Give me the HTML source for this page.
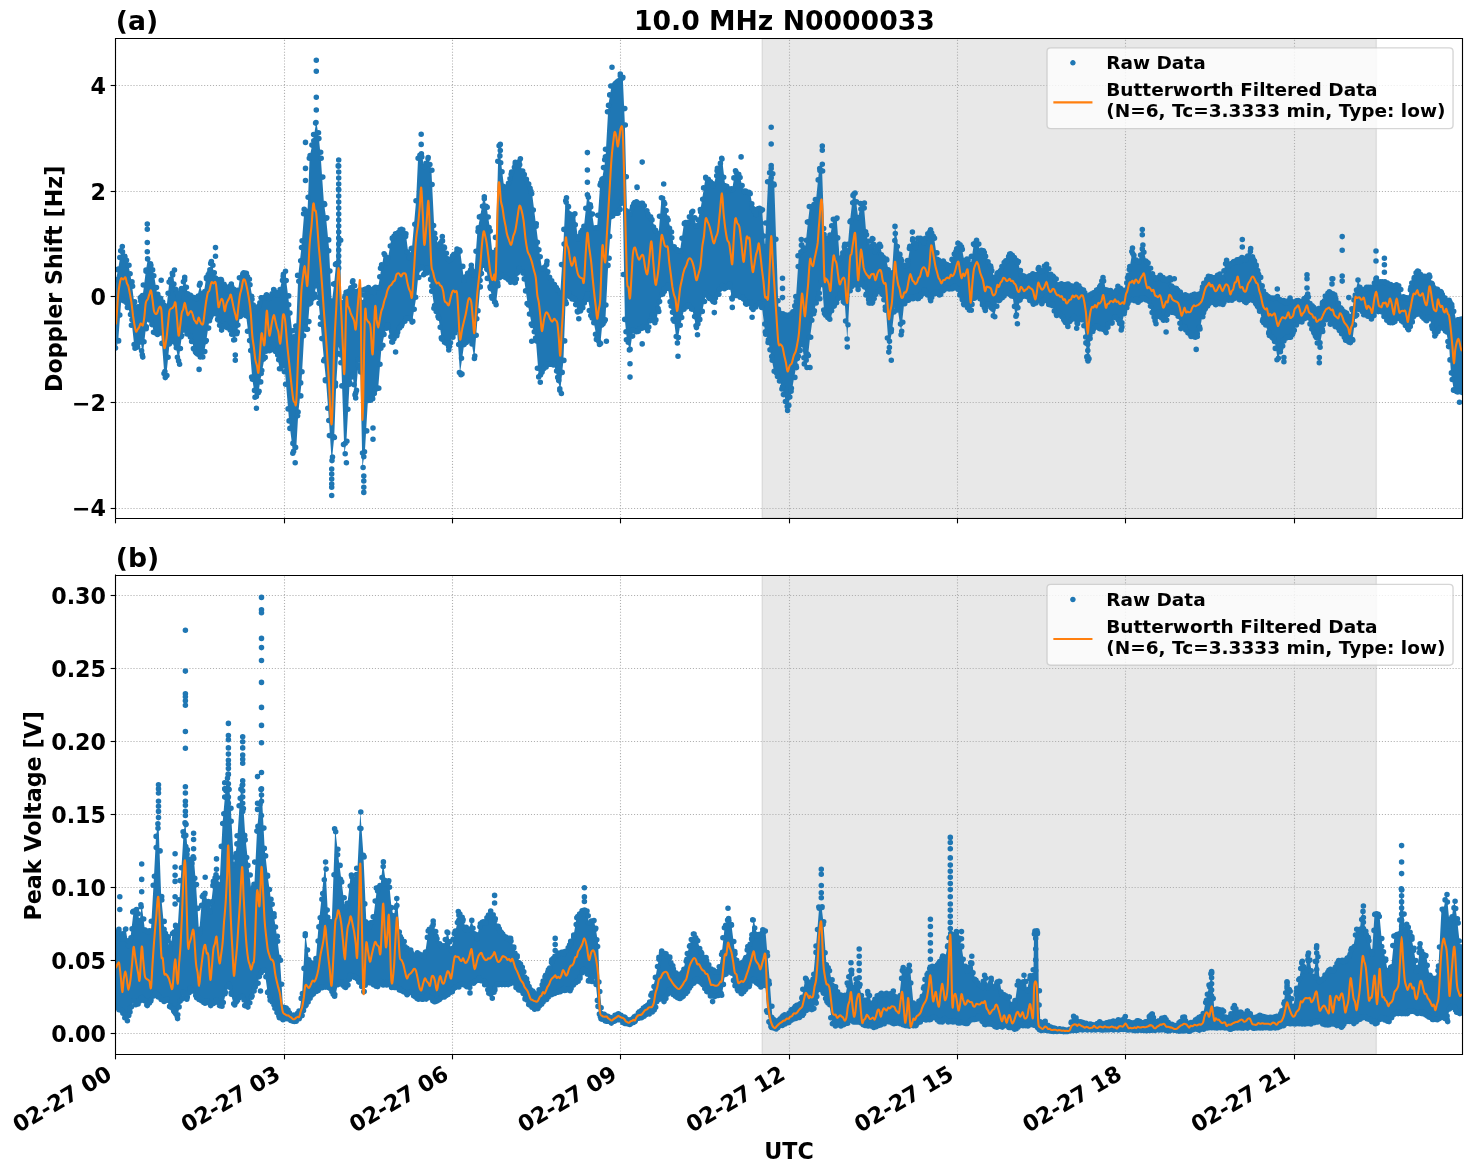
<!DOCTYPE html><html><head><meta charset="utf-8"><title>10.0 MHz N0000033</title><style>html,body{margin:0;padding:0;background:#fff;overflow:hidden}svg{display:block}</style></head><body><svg width="1471" height="1172" viewBox="0 0 1059.12 843.84">
  <defs>
  <style type="text/css">*{stroke-linejoin: round; stroke-linecap: butt}</style>
 </defs>
 <g id="figure_1">
  <g id="patch_1">
   <path d="M 0 845.866138 L 1060.05774 845.866138 L 1060.05774 0 L 0 0 z
" style="fill: #ffffff"/>
  </g>
  <g id="axes_1">
   <g id="patch_2">
    <path d="M 83.362837 372.938617 L 1052.85774 372.938617 L 1052.85774 27.789 L 83.362837 27.789 z
" style="fill: #ffffff"/>
   </g>
   <g id="patch_3">
    <path d="M 548.725777 372.938617 L 990.982154 372.938617 L 990.982154 27.789 L 548.725777 27.789 z
" clip-path="url(#p9801b050df)" style="fill: #808080; fill-opacity: 0.18; stroke: #808080; stroke-opacity: 0.18; stroke-linejoin: miter"/>
   </g>
   <g id="matplotlib.axis_1">
    <g id="xtick_1">
     <g id="line2d_1">
      <path d="M 83.16 372.9386 L 83.16 27.789 " clip-path="url(#p9801b050df)" style="fill: none; stroke-dasharray: 0.8,1.32; stroke-dashoffset: 0; stroke: #b0b0b0; stroke-width: 0.8"/>
     </g>
     <g id="line2d_2">
      <defs>
       <path id="m7c25c535dc" d="M 0 0 L 0 3.5 " style="stroke: #000000; stroke-width: 0.8"/>
      </defs>
      <g>
       <use href="#m7c25c535dc" x="83.16" y="373.32" style="stroke: #000000; stroke-width: 0.8"/>
      </g>
     </g>
    </g>
    <g id="xtick_2">
     <g id="line2d_3">
      <path d="M 204.84 372.9386 L 204.84 27.789 " clip-path="url(#p9801b050df)" style="fill: none; stroke-dasharray: 0.8,1.32; stroke-dashoffset: 0; stroke: #b0b0b0; stroke-width: 0.8"/>
     </g>
     <g id="line2d_4">
      <g>
       <use href="#m7c25c535dc" x="204.84" y="373.32" style="stroke: #000000; stroke-width: 0.8"/>
      </g>
     </g>
    </g>
    <g id="xtick_3">
     <g id="line2d_5">
      <path d="M 325.8 372.9386 L 325.8 27.789 " clip-path="url(#p9801b050df)" style="fill: none; stroke-dasharray: 0.8,1.32; stroke-dashoffset: 0; stroke: #b0b0b0; stroke-width: 0.8"/>
     </g>
     <g id="line2d_6">
      <g>
       <use href="#m7c25c535dc" x="325.8" y="373.32" style="stroke: #000000; stroke-width: 0.8"/>
      </g>
     </g>
    </g>
    <g id="xtick_4">
     <g id="line2d_7">
      <path d="M 446.76 372.9386 L 446.76 27.789 " clip-path="url(#p9801b050df)" style="fill: none; stroke-dasharray: 0.8,1.32; stroke-dashoffset: 0; stroke: #b0b0b0; stroke-width: 0.8"/>
     </g>
     <g id="line2d_8">
      <g>
       <use href="#m7c25c535dc" x="446.76" y="373.32" style="stroke: #000000; stroke-width: 0.8"/>
      </g>
     </g>
    </g>
    <g id="xtick_5">
     <g id="line2d_9">
      <path d="M 568.44 372.9386 L 568.44 27.789 " clip-path="url(#p9801b050df)" style="fill: none; stroke-dasharray: 0.8,1.32; stroke-dashoffset: 0; stroke: #b0b0b0; stroke-width: 0.8"/>
     </g>
     <g id="line2d_10">
      <g>
       <use href="#m7c25c535dc" x="568.44" y="373.32" style="stroke: #000000; stroke-width: 0.8"/>
      </g>
     </g>
    </g>
    <g id="xtick_6">
     <g id="line2d_11">
      <path d="M 689.4 372.9386 L 689.4 27.789 " clip-path="url(#p9801b050df)" style="fill: none; stroke-dasharray: 0.8,1.32; stroke-dashoffset: 0; stroke: #b0b0b0; stroke-width: 0.8"/>
     </g>
     <g id="line2d_12">
      <g>
       <use href="#m7c25c535dc" x="689.4" y="373.32" style="stroke: #000000; stroke-width: 0.8"/>
      </g>
     </g>
    </g>
    <g id="xtick_7">
     <g id="line2d_13">
      <path d="M 810.36 372.9386 L 810.36 27.789 " clip-path="url(#p9801b050df)" style="fill: none; stroke-dasharray: 0.8,1.32; stroke-dashoffset: 0; stroke: #b0b0b0; stroke-width: 0.8"/>
     </g>
     <g id="line2d_14">
      <g>
       <use href="#m7c25c535dc" x="810.36" y="373.32" style="stroke: #000000; stroke-width: 0.8"/>
      </g>
     </g>
    </g>
    <g id="xtick_8">
     <g id="line2d_15">
      <path d="M 932.04 372.9386 L 932.04 27.789 " clip-path="url(#p9801b050df)" style="fill: none; stroke-dasharray: 0.8,1.32; stroke-dashoffset: 0; stroke: #b0b0b0; stroke-width: 0.8"/>
     </g>
     <g id="line2d_16">
      <g>
       <use href="#m7c25c535dc" x="932.04" y="373.32" style="stroke: #000000; stroke-width: 0.8"/>
      </g>
     </g>
    </g>
   </g>
   <g id="matplotlib.axis_2">
    <g id="ytick_1">
     <g id="line2d_17">
      <path d="M 83.3628 366.12 L 1052.8577 366.12 " clip-path="url(#p9801b050df)" style="fill: none; stroke-dasharray: 0.8,1.32; stroke-dashoffset: 0; stroke: #b0b0b0; stroke-width: 0.8"/>
     </g>
     <g id="line2d_18">
      <defs>
       <path id="mb258c49b38" d="M 0 0 L -3.5 0 " style="stroke: #000000; stroke-width: 0.8"/>
      </defs>
      <g>
       <use href="#mb258c49b38" x="83.16" y="366.12" style="stroke: #000000; stroke-width: 0.8"/>
      </g>
     </g>
     <g id="text_1">
      <text style="font-weight: 700; font-size: 16px; font-family: 'DejaVu Sans', sans-serif; text-anchor: end" x="76.362837" y="371.86716" transform="rotate(-0 76.362837 371.86716)">−4</text>
     </g>
    </g>
    <g id="ytick_2">
     <g id="line2d_19">
      <path d="M 83.3628 289.8 L 1052.8577 289.8 " clip-path="url(#p9801b050df)" style="fill: none; stroke-dasharray: 0.8,1.32; stroke-dashoffset: 0; stroke: #b0b0b0; stroke-width: 0.8"/>
     </g>
     <g id="line2d_20">
      <g>
       <use href="#mb258c49b38" x="83.16" y="289.8" style="stroke: #000000; stroke-width: 0.8"/>
      </g>
     </g>
     <g id="text_2">
      <text style="font-weight: 700; font-size: 16px; font-family: 'DejaVu Sans', sans-serif; text-anchor: end" x="76.362837" y="295.801129" transform="rotate(-0 76.362837 295.801129)">−2</text>
     </g>
    </g>
    <g id="ytick_3">
     <g id="line2d_21">
      <path d="M 83.3628 213.48 L 1052.8577 213.48 " clip-path="url(#p9801b050df)" style="fill: none; stroke-dasharray: 0.8,1.32; stroke-dashoffset: 0; stroke: #b0b0b0; stroke-width: 0.8"/>
     </g>
     <g id="line2d_22">
      <g>
       <use href="#mb258c49b38" x="83.16" y="213.48" style="stroke: #000000; stroke-width: 0.8"/>
      </g>
     </g>
     <g id="text_3">
      <text style="font-weight: 700; font-size: 16px; font-family: 'DejaVu Sans', sans-serif; text-anchor: end" x="76.362837" y="219.735098" transform="rotate(-0 76.362837 219.735098)">0</text>
     </g>
    </g>
    <g id="ytick_4">
     <g id="line2d_23">
      <path d="M 83.3628 137.88 L 1052.8577 137.88 " clip-path="url(#p9801b050df)" style="fill: none; stroke-dasharray: 0.8,1.32; stroke-dashoffset: 0; stroke: #b0b0b0; stroke-width: 0.8"/>
     </g>
     <g id="line2d_24">
      <g>
       <use href="#mb258c49b38" x="83.16" y="137.88" style="stroke: #000000; stroke-width: 0.8"/>
      </g>
     </g>
     <g id="text_4">
      <text style="font-weight: 700; font-size: 16px; font-family: 'DejaVu Sans', sans-serif; text-anchor: end" x="76.362837" y="143.669066" transform="rotate(-0 76.362837 143.669066)">2</text>
     </g>
    </g>
    <g id="ytick_5">
     <g id="line2d_25">
      <path d="M 83.3628 61.56 L 1052.8577 61.56 " clip-path="url(#p9801b050df)" style="fill: none; stroke-dasharray: 0.8,1.32; stroke-dashoffset: 0; stroke: #b0b0b0; stroke-width: 0.8"/>
     </g>
     <g id="line2d_26">
      <g>
       <use href="#mb258c49b38" x="83.16" y="61.56" style="stroke: #000000; stroke-width: 0.8"/>
      </g>
     </g>
     <g id="text_5">
      <text style="font-weight: 700; font-size: 16px; font-family: 'DejaVu Sans', sans-serif; text-anchor: end" x="76.362837" y="67.603035" transform="rotate(-0 76.362837 67.603035)">4</text>
     </g>
    </g>
    <g id="text_6">
     <text style="font-weight: 700; font-size: 16px; font-family: 'DejaVu Sans', sans-serif; text-anchor: middle" x="44.4953" y="200.7238" transform="rotate(-90 44.4953 200.7238)">Doppler Shift [Hz]</text>
    </g>
   </g>
   <g id="DATA0">
    <defs>
     <path id="m733a03271b" d="M 0 1.5 C 0.397805 1.5 0.77937 1.341951 1.06066 1.06066 C 1.341951 0.77937 1.5 0.397805 1.5 0 C 1.5 -0.397805 1.341951 -0.77937 1.06066 -1.06066 C 0.77937 -1.341951 0.397805 -1.5 0 -1.5 C -0.397805 -1.5 -0.77937 -1.341951 -1.06066 -1.06066 C -1.341951 -0.77937 -1.5 -0.397805 -1.5 0 C -1.5 0.397805 -1.341951 0.77937 -1.06066 1.06066 C -0.77937 1.341951 -0.397805 1.5 0 1.5 z
" style="stroke: #1f77b4"/>
    </defs>
    <g transform="scale(0.72)"><defs><clipPath id="ca"><rect x="115.4" y="38.6" width="1347" height="479.8"/></clipPath><clipPath id="cb"><rect x="115.4" y="575.3" width="1347" height="479"/></clipPath></defs><g clip-path="url(#ca)"><polygon points="116.1,279.0 118.1,269.3 118.2,268.7 120.1,257.3 121.3,250.4 122.1,251.6 124.1,254.6 125.4,256.6 126.1,258.5 128.1,263.8 128.4,264.6 130.1,273.6 131.5,281.1 132.1,285.9 134.1,301.9 134.6,305.7 136.1,306.7 137.6,307.7 138.1,306.2 140.1,299.5 140.7,297.5 142.1,296.1 142.8,295.1 144.1,284.7 145.8,271.1 146.1,269.3 147.9,258.6 148.1,259.0 150.1,263.0 151.0,264.8 152.1,268.5 154.0,274.8 154.1,275.4 156.1,287.4 157.1,293.4 158.1,294.9 160.1,297.9 161.2,299.5 162.1,301.3 164.1,305.3 164.3,305.7 166.1,309.3 166.3,309.7 168.1,293.1 169.4,281.1 170.1,279.2 172.1,273.9 172.5,273.1 174.1,281.6 175.5,289.1 176.1,290.8 178.1,296.1 178.6,297.4 180.1,293.5 181.7,289.2 182.1,287.9 184.1,281.2 184.7,279.2 186.1,285.3 187.8,293.3 188.1,293.6 190.1,294.9 190.9,295.4 192.1,296.2 194.0,297.5 194.1,297.5 196.1,297.5 197.0,297.5 198.1,293.2 200.1,285.2 202.1,293.1 203.2,297.3 204.1,291.3 206.1,278.0 206.3,276.9 208.1,274.5 209.3,272.9 210.1,269.0 211.4,262.7 212.1,265.2 214.1,272.2 215.5,277.0 216.1,277.4 218.1,278.7 218.5,279.0 220.1,279.0 221.6,279.0 222.1,280.0 224.1,284.0 224.7,285.2 226.1,287.1 227.8,289.2 228.1,288.6 230.1,284.6 230.8,283.2 232.1,285.7 233.9,289.3 234.1,289.8 236.1,295.1 237.0,297.3 238.1,289.9 240.0,277.3 240.1,276.9 242.1,274.2 243.1,272.9 244.1,272.9 246.1,272.9 246.2,272.9 248.1,276.7 249.3,279.3 250.1,284.1 252.1,296.1 252.3,297.3 254.1,304.5 255.4,309.7 256.1,308.8 258.1,306.2 258.5,305.6 260.1,301.3 261.5,297.6 262.1,297.5 264.1,297.5 264.6,297.5 266.1,294.5 266.7,293.4 268.1,295.3 269.7,297.4 270.1,296.7 272.1,292.7 273.8,289.3 274.1,289.6 276.1,292.3 276.9,293.4 278.1,291.8 280.0,289.2 280.1,288.7 282.1,279.4 283.0,275.2 284.1,272.8 285.0,271.0 286.1,279.8 288.1,295.8 289.1,303.8 290.1,312.8 292.1,330.7 293.2,340.6 294.1,335.8 296.1,325.2 296.3,324.2 298.1,280.0 298.3,275.1 300.1,259.1 301.4,247.6 302.1,238.8 304.1,213.7 304.5,208.7 306.1,210.9 307.5,212.8 308.1,197.0 309.6,157.5 310.1,155.0 312.1,145.0 313.3,139.1 314.1,134.4 316.1,122.7 316.3,121.6 318.1,132.7 318.8,137.0 320.1,150.3 320.8,157.5 322.1,176.4 323.9,202.5 324.1,203.9 326.0,216.9 326.1,217.9 328.1,238.4 329.0,247.6 330.1,270.5 331.7,303.8 332.1,300.5 334.1,284.1 334.2,283.3 336.1,263.8 336.2,262.8 338.1,189.0 338.7,165.7 340.1,240.0 341.3,303.8 342.1,301.7 344.1,296.4 344.4,295.6 346.1,292.1 346.4,291.5 348.1,290.3 349.5,289.4 350.1,287.6 352.1,281.7 352.6,280.2 354.1,285.6 355.7,291.5 356.1,291.5 358.1,291.5 358.7,291.5 360.1,289.8 360.4,289.4 362.1,301.6 362.4,303.8 364.1,294.0 364.9,289.4 366.1,288.6 367.9,287.4 368.1,287.5 370.1,289.0 370.6,289.4 372.1,290.9 372.7,291.5 374.1,289.1 375.1,287.4 376.1,287.4 378.1,287.4 378.2,287.4 380.1,275.6 381.3,268.1 382.1,264.2 384.1,254.6 384.3,253.7 386.1,258.4 387.4,261.9 388.1,257.7 390.1,245.7 391.5,237.4 392.1,236.9 394.1,235.3 396.1,233.7 396.6,233.3 398.1,231.5 400.1,229.2 401.1,228.1 402.1,229.2 404.1,231.4 405.8,233.3 406.1,235.7 408.1,251.5 408.9,257.8 410.1,253.8 412.0,247.6 412.1,246.4 414.1,223.5 416.1,200.5 418.1,157.5 420.1,154.8 421.2,153.4 422.1,157.0 424.1,164.9 424.3,165.7 426.1,162.1 428.1,158.1 428.4,157.5 430.1,164.5 431.4,169.8 432.1,184.1 434.1,225.1 434.5,233.3 436.1,238.0 438.1,244.0 438.6,245.5 440.1,242.5 441.7,239.4 442.1,240.5 444.1,245.9 444.7,247.6 446.1,251.8 448.1,257.8 448.8,259.9 450.1,258.6 452.1,256.6 452.9,255.8 454.1,254.6 456.1,252.6 457.0,251.7 458.1,251.0 460.0,249.9 460.1,250.6 462.1,265.6 464.1,280.6 466.1,276.6 468.1,272.6 468.2,272.4 470.1,269.7 471.3,268.1 472.1,269.8 474.1,274.1 474.3,274.5 476.1,249.3 477.4,231.2 478.1,227.5 480.1,216.9 480.5,214.8 482.1,205.3 483.6,196.4 484.1,198.1 486.1,204.9 486.6,206.6 488.1,216.5 489.7,227.1 490.1,231.0 492.1,250.8 492.8,257.8 494.1,253.4 495.8,247.6 496.1,236.2 498.1,160.4 498.5,145.2 500.1,155.7 501.0,161.6 502.1,170.6 504.0,186.2 504.1,186.2 506.1,186.2 507.1,186.2 508.1,183.2 510.1,177.2 511.2,173.9 512.1,171.6 514.1,166.6 515.3,163.6 516.1,163.2 518.1,162.2 519.4,161.6 520.1,163.7 522.1,169.7 523.5,173.9 524.1,175.1 526.1,179.1 527.6,182.1 528.1,183.1 530.1,187.1 531.7,190.3 532.1,193.5 534.1,209.4 535.8,223.0 536.1,225.4 538.1,241.8 538.8,247.6 540.1,256.3 541.9,268.3 542.1,268.1 544.1,266.1 546.0,264.2 546.1,264.5 548.1,270.5 550.1,276.5 552.1,280.5 554.1,284.5 554.2,284.7 556.1,287.2 557.3,288.8 558.1,289.9 560.1,292.6 560.3,292.9 562.1,264.4 563.4,243.8 564.1,229.3 565.5,200.5 566.1,201.7 568.1,205.8 568.5,206.6 570.1,211.9 571.6,216.9 572.1,216.2 574.1,213.6 574.7,212.8 576.1,223.9 577.8,237.4 578.1,236.8 580.1,232.6 580.8,231.2 582.1,229.5 583.9,227.1 584.1,225.2 586.1,206.5 587.4,194.3 588.1,196.6 590.1,203.3 591.1,206.6 592.1,213.4 594.1,227.1 596.1,227.1 597.2,227.1 598.1,214.0 600.1,185.0 600.3,182.1 602.1,178.4 602.3,178.0 604.1,167.2 605.4,159.5 606.1,147.0 608.1,111.3 608.5,104.2 610.1,94.4 611.5,85.8 612.1,85.4 614.1,84.1 614.6,83.8 616.1,82.8 617.7,81.7 618.1,80.6 620.1,75.3 620.8,73.5 622.1,76.1 622.8,77.6 624.1,106.7 624.9,124.7 626.1,176.3 626.9,210.7 628.1,211.5 630.0,212.8 630.1,212.6 632.1,208.4 633.0,206.6 634.1,203.6 635.0,201.1 636.1,201.6 638.1,202.6 639.1,203.1 640.1,203.1 642.1,203.1 643.2,203.1 644.1,205.3 646.1,210.4 647.3,213.4 648.1,214.2 650.1,216.2 651.4,217.5 652.1,219.6 654.1,225.6 655.5,229.8 656.1,230.6 658.1,233.2 658.6,233.9 660.1,215.4 661.6,197.0 662.1,198.0 664.1,201.9 664.7,203.1 666.1,209.6 667.8,217.5 668.1,218.7 670.1,226.9 670.8,229.8 672.1,236.7 673.9,246.2 674.1,246.4 676.1,249.1 677.0,250.3 678.1,250.3 680.1,250.3 682.1,236.3 684.1,222.3 684.2,221.6 686.1,221.6 688.1,221.6 688.2,221.6 690.1,216.8 692.1,211.8 692.3,211.3 694.1,217.6 696.1,224.6 696.4,225.7 698.1,218.9 700.1,210.9 700.5,209.3 702.1,199.2 704.1,186.6 705.7,176.5 706.1,176.9 708.1,178.9 709.7,180.6 710.1,181.0 712.1,183.0 713.8,184.7 714.1,183.5 716.1,175.5 717.9,168.3 718.1,167.8 720.1,162.8 722.0,158.1 722.1,158.9 724.1,176.1 725.1,184.7 726.1,186.2 728.1,189.2 729.2,190.9 730.1,190.3 732.1,188.9 732.3,188.8 734.1,177.7 735.3,170.4 736.1,171.2 738.1,173.2 739.4,174.5 740.1,177.3 742.1,185.3 743.5,190.9 744.1,190.9 746.1,190.9 746.6,190.9 748.1,190.9 749.7,190.9 750.1,193.0 752.1,203.5 752.8,207.2 754.1,209.9 755.8,213.4 756.1,212.8 758.1,208.8 758.9,207.2 760.1,208.0 762.0,209.3 762.1,210.5 764.1,235.1 765.0,246.2 766.1,222.9 768.1,180.6 770.1,172.6 771.2,168.3 772.1,173.0 774.1,183.6 774.3,184.7 776.1,239.2 778.1,299.7 778.4,308.8 780.1,310.5 782.1,312.5 782.5,312.9 784.1,313.5 786.1,314.4 787.6,315.0 788.1,314.7 790.1,313.7 791.7,312.9 792.1,311.7 794.1,305.7 795.8,300.6 796.1,296.1 798.1,266.1 798.8,255.6 800.1,250.4 801.9,243.3 802.1,243.7 804.1,247.6 805.0,249.4 806.1,239.2 808.0,221.6 808.1,220.8 810.0,205.2 810.1,205.2 812.1,205.2 813.1,205.2 814.1,203.1 816.1,199.1 818.1,179.2 819.2,168.3 820.1,166.9 821.9,164.2 822.1,170.0 824.1,228.1 824.3,233.9 826.1,237.4 827.4,240.0 828.1,238.6 830.1,234.7 830.5,233.9 832.1,225.4 833.6,217.5 834.1,217.5 836.1,217.5 836.6,217.5 838.1,237.3 839.7,258.4 840.1,257.6 842.1,253.7 842.8,252.3 844.1,248.3 844.8,246.2 846.1,249.4 847.3,252.3 848.1,242.8 849.9,221.6 850.1,219.9 852.1,202.7 853.0,195.0 854.1,193.9 855.1,192.9 856.1,201.1 858.1,217.5 860.1,208.2 861.2,203.1 862.1,203.1 863.7,203.1 864.1,207.8 866.1,231.5 866.3,233.9 868.1,241.0 869.4,246.2 870.1,244.3 872.1,239.0 872.5,238.0 874.1,244.5 875.5,250.3 876.1,249.4 878.1,246.3 879.6,244.1 880.1,246.1 882.1,254.0 882.7,256.4 884.1,257.3 885.8,258.4 886.1,259.6 888.1,267.8 888.8,270.7 890.1,272.4 891.9,274.8 892.1,271.6 894.1,239.9 895.0,225.7 896.1,233.0 898.1,246.2 900.1,254.3 901.1,258.4 902.1,260.4 904.1,264.4 904.2,264.6 906.1,264.6 907.3,264.6 908.1,259.7 910.1,247.4 910.3,246.2 912.1,239.2 912.4,238.0 914.1,242.5 915.5,246.2 916.1,244.5 918.1,239.1 918.5,238.0 920.1,238.0 921.6,238.0 922.1,238.6 924.1,241.3 924.7,242.1 926.1,238.4 927.8,233.9 928.1,233.5 930.1,231.1 931.2,229.8 932.1,231.8 933.9,235.9 934.1,237.3 936.1,251.8 937.0,258.4 938.1,259.9 940.0,262.5 940.1,262.4 942.1,261.1 943.1,260.5 944.1,261.8 946.1,264.4 946.2,264.6 948.1,265.8 949.3,266.6 950.1,264.4 952.1,258.9 952.3,258.4 954.1,253.7 955.4,250.3 956.1,248.4 958.1,243.1 958.5,242.1 960.1,244.3 961.5,246.2 962.1,249.3 964.1,259.9 964.6,262.5 966.1,260.5 967.7,258.4 968.1,259.2 970.1,263.2 970.8,264.6 972.1,255.7 973.8,244.1 974.1,243.7 976.1,241.0 976.9,240.0 978.1,244.0 980.0,250.3 980.1,250.3 982.1,250.3 983.0,250.3 984.1,250.6 985.0,250.9 986.1,254.5 988.1,261.1 990.1,265.1 991.1,267.2 992.1,270.5 994.1,277.1 994.2,277.5 996.1,275.0 997.3,273.4 998.1,272.3 1000.1,269.7 1000.4,269.3 1002.1,265.8 1003.4,263.1 1004.1,262.2 1006.1,259.6 1006.5,259.1 1008.1,255.9 1009.6,252.9 1010.1,253.2 1012.1,254.6 1012.6,255.0 1014.1,257.0 1015.7,259.1 1016.1,259.5 1017.8,261.1 1018.1,262.3 1020.1,270.5 1020.8,273.4 1022.1,274.2 1023.9,275.4 1024.1,275.5 1026.1,276.9 1027.0,277.5 1028.1,276.7 1030.1,275.4 1032.1,274.0 1033.1,273.4 1034.1,275.3 1035.2,277.5 1036.1,274.4 1038.1,267.5 1038.2,267.2 1040.1,269.7 1041.3,271.3 1042.1,269.7 1044.1,265.8 1044.4,265.2 1046.1,263.4 1046.4,263.1 1048.1,268.7 1049.5,273.4 1050.1,273.8 1052.1,275.1 1052.6,275.4 1054.1,276.4 1055.7,277.5 1056.1,278.6 1058.1,284.0 1058.7,285.7 1060.1,284.7 1061.8,283.6 1062.1,283.6 1064.1,283.6 1064.9,283.6 1066.1,283.6 1067.9,283.6 1068.1,283.7 1070.1,285.1 1071.0,285.7 1072.1,285.7 1074.1,285.7 1076.1,284.3 1077.2,283.6 1078.1,284.8 1080.1,287.5 1080.2,287.7 1082.1,289.0 1083.3,289.8 1084.1,291.7 1085.8,295.9 1086.1,296.2 1086.8,296.9 1087.8,298.0 1088.1,297.7 1088.8,296.9 1090.1,294.6 1090.5,293.9 1092.1,292.8 1093.5,291.8 1094.1,291.4 1096.1,290.1 1096.6,289.8 1098.1,287.8 1099.7,285.7 1100.1,284.8 1102.1,280.4 1103.4,277.5 1104.1,281.1 1105.8,289.8 1106.1,289.8 1108.1,289.8 1108.9,289.8 1110.1,290.6 1112.0,291.8 1112.1,291.8 1114.1,291.8 1115.0,291.8 1116.1,289.6 1118.1,285.7 1120.1,288.3 1121.2,289.8 1122.1,289.8 1124.1,289.8 1124.3,289.8 1126.1,282.4 1127.3,277.5 1128.1,274.4 1129.4,269.3 1130.1,265.1 1132.1,253.3 1132.5,250.9 1134.1,255.3 1135.5,259.1 1136.1,259.5 1138.1,260.8 1138.6,261.1 1140.1,254.4 1142.1,245.6 1142.3,244.7 1144.1,252.1 1145.8,259.1 1146.1,259.5 1148.1,262.1 1148.8,263.1 1150.1,267.4 1151.9,273.4 1152.1,273.6 1154.1,276.3 1155.0,277.5 1156.1,277.5 1158.0,277.5 1158.1,277.4 1160.0,275.4 1160.1,275.4 1162.1,276.8 1163.1,277.5 1164.1,278.1 1166.1,279.5 1168.1,278.2 1169.2,277.5 1170.1,279.9 1172.1,285.2 1172.3,285.7 1174.1,286.8 1175.4,287.7 1176.1,288.2 1178.1,289.6 1178.4,289.8 1180.1,292.0 1181.5,293.9 1182.1,293.9 1184.1,293.9 1184.6,293.9 1186.1,294.9 1187.6,295.9 1188.1,295.9 1190.1,295.9 1190.7,295.9 1192.1,295.0 1193.8,293.9 1194.1,294.1 1196.1,295.4 1196.9,295.9 1198.1,295.1 1199.9,293.9 1200.1,293.4 1202.1,288.1 1203.0,285.7 1204.1,282.8 1206.1,277.5 1208.1,276.1 1209.2,275.4 1210.1,276.0 1212.1,277.4 1212.2,277.5 1214.1,277.5 1215.3,277.5 1216.1,276.7 1218.1,274.7 1219.4,273.4 1220.1,274.3 1222.1,277.0 1222.5,277.5 1224.1,269.8 1225.5,263.1 1226.1,263.5 1228.1,264.8 1228.6,265.2 1230.1,264.2 1231.7,263.1 1232.1,262.8 1234.1,261.5 1234.7,261.1 1236.1,260.2 1237.8,259.1 1238.1,259.4 1239.9,261.1 1240.1,260.7 1242.1,257.3 1242.3,257.0 1244.1,258.0 1246.0,259.1 1246.1,258.9 1248.1,254.9 1250.1,250.9 1252.1,256.2 1253.2,259.1 1254.1,260.9 1256.1,264.8 1256.3,265.2 1258.1,270.1 1259.3,273.4 1260.1,276.6 1262.1,284.5 1262.4,285.7 1264.1,290.2 1265.5,293.9 1266.1,294.3 1268.1,295.6 1268.5,295.9 1270.1,297.0 1271.6,298.0 1272.1,298.0 1274.1,298.0 1274.7,298.0 1276.1,297.0 1277.8,295.9 1278.1,296.3 1280.1,299.0 1280.8,300.0 1282.1,300.0 1283.9,300.0 1284.1,300.1 1286.1,301.5 1287.0,302.1 1288.1,300.6 1290.0,298.0 1290.1,298.1 1292.1,300.8 1293.1,302.1 1294.1,301.4 1296.1,300.0 1296.2,300.0 1298.1,300.0 1298.2,300.0 1300.1,301.3 1301.3,302.1 1302.1,301.0 1304.1,298.4 1304.4,298.0 1306.1,295.3 1307.0,293.9 1308.1,296.5 1310.1,301.1 1310.5,302.1 1312.1,304.2 1313.6,306.2 1314.1,306.5 1316.1,307.8 1316.7,308.2 1318.1,308.2 1319.3,308.2 1320.1,306.8 1322.1,303.3 1322.8,302.1 1324.1,299.5 1325.9,295.9 1326.1,295.6 1328.1,293.0 1329.0,291.8 1330.0,291.0 1330.1,291.0 1332.1,292.4 1332.8,292.9 1334.1,294.6 1335.6,296.6 1336.1,297.9 1338.1,303.3 1338.4,304.1 1340.1,306.3 1341.3,307.9 1342.1,308.9 1344.1,311.6 1346.1,312.9 1346.9,313.5 1348.1,315.1 1349.7,317.3 1350.1,315.9 1352.1,309.2 1352.5,307.9 1354.1,299.3 1355.3,292.9 1356.1,289.1 1358.1,279.7 1360.1,286.2 1361.0,289.1 1362.1,289.1 1363.8,289.1 1364.1,288.9 1366.1,287.5 1366.6,287.2 1368.1,287.2 1369.4,287.2 1370.1,287.2 1372.1,287.2 1372.2,287.2 1374.1,282.5 1376.0,277.9 1376.1,278.0 1378.1,280.7 1378.8,281.6 1380.1,281.6 1381.6,281.6 1382.1,281.6 1384.1,281.6 1384.4,281.6 1386.1,281.6 1387.2,281.6 1388.1,282.2 1390.0,283.5 1390.1,283.5 1392.1,284.5 1393.8,285.4 1394.1,285.2 1396.1,283.8 1396.6,283.5 1398.1,285.5 1399.4,287.2 1400.1,289.5 1402.1,296.2 1402.2,296.6 1404.1,296.6 1405.1,296.6 1406.1,297.3 1407.9,298.5 1408.1,297.7 1410.1,289.6 1410.7,287.2 1412.1,282.5 1413.5,277.9 1414.1,276.7 1416.1,272.7 1417.3,270.4 1418.1,271.4 1420.1,274.1 1422.1,275.4 1422.9,276.0 1424.1,276.0 1426.1,276.0 1426.6,276.0 1428.1,275.0 1429.5,274.1 1430.1,276.1 1432.1,282.8 1432.3,283.5 1434.1,287.1 1435.1,289.1 1436.1,289.1 1437.9,289.1 1438.1,289.2 1440.1,290.6 1440.7,291.0 1442.1,293.8 1443.5,296.6 1444.1,297.4 1446.1,300.1 1446.3,300.4 1448.1,300.4 1449.2,300.4 1450.1,302.2 1451.0,304.1 1452.1,306.2 1453.9,309.8 1454.1,310.7 1456.1,320.1 1456.7,322.9 1458.1,319.9 1458.5,319.1 1460.1,319.1 1461.4,319.1 1462.1,319.1 1463.2,319.1 1463.2,392.4 1462.1,392.4 1461.4,392.4 1460.1,392.4 1458.5,392.4 1458.1,392.4 1456.7,392.4 1456.1,392.0 1454.1,390.7 1453.9,390.5 1452.1,380.0 1451.0,373.6 1450.1,360.5 1449.2,347.3 1448.1,341.6 1446.3,332.3 1446.1,332.1 1444.1,329.4 1443.5,328.6 1442.1,328.6 1440.7,328.6 1440.1,329.4 1438.1,332.1 1437.9,332.3 1436.1,334.8 1435.1,336.1 1434.1,333.4 1432.3,328.6 1432.1,327.8 1430.1,319.7 1429.5,317.3 1428.1,319.2 1426.6,321.1 1426.1,320.6 1424.1,318.6 1422.9,317.3 1422.1,316.8 1420.1,315.4 1418.1,314.1 1417.3,313.5 1416.1,314.7 1414.1,316.7 1413.5,317.3 1412.1,322.0 1410.7,326.7 1410.1,327.5 1408.1,330.2 1407.9,330.4 1406.1,326.8 1405.1,324.8 1404.1,323.5 1402.2,321.1 1402.1,321.1 1400.1,319.7 1399.4,319.2 1398.1,318.3 1396.6,317.3 1396.1,318.3 1394.1,322.3 1393.8,322.9 1392.1,322.9 1390.1,322.9 1390.0,322.9 1388.1,321.7 1387.2,321.1 1386.1,319.6 1384.4,317.3 1384.1,316.7 1382.1,312.7 1381.6,311.7 1380.1,311.7 1378.8,311.7 1378.1,311.7 1376.1,311.7 1376.0,311.7 1374.1,315.5 1372.2,319.2 1372.1,319.2 1370.1,317.8 1369.4,317.3 1368.1,316.4 1366.6,315.4 1366.1,315.4 1364.1,315.4 1363.8,315.4 1362.1,312.0 1361.0,309.8 1360.1,309.8 1358.1,309.8 1356.1,315.2 1355.3,317.3 1354.1,327.0 1352.5,339.8 1352.1,340.4 1350.1,343.1 1349.7,343.6 1348.1,342.5 1346.9,341.7 1346.1,340.6 1344.1,337.9 1342.1,333.9 1341.3,332.3 1340.1,330.8 1338.4,328.6 1338.1,328.4 1336.1,327.1 1335.6,326.7 1334.1,323.7 1332.8,321.1 1332.1,322.0 1330.1,324.7 1330.0,324.8 1329.0,319.0 1328.1,319.6 1326.1,320.9 1325.9,321.0 1324.1,325.8 1322.8,329.2 1322.1,332.9 1320.1,343.5 1319.3,347.7 1318.1,343.0 1316.7,337.4 1316.1,336.6 1314.1,334.0 1313.6,333.3 1312.1,329.4 1310.5,325.1 1310.1,324.2 1308.1,319.5 1307.0,316.9 1306.1,317.6 1304.4,319.0 1304.1,319.4 1302.1,322.1 1301.3,323.1 1300.1,322.3 1298.2,321.0 1298.1,321.2 1296.2,325.1 1296.1,325.4 1294.1,330.7 1293.1,333.3 1292.1,334.6 1290.1,337.3 1290.0,337.4 1288.1,337.4 1287.0,337.4 1286.1,338.6 1284.1,341.3 1283.9,341.5 1282.1,346.3 1280.8,349.7 1280.1,352.1 1278.1,358.9 1277.8,359.9 1276.1,349.8 1274.7,341.5 1274.1,340.7 1272.1,338.1 1271.6,337.4 1270.1,335.4 1268.5,333.3 1268.1,332.2 1266.1,326.8 1265.5,325.1 1264.1,323.3 1262.4,321.0 1262.1,319.8 1260.1,311.9 1259.3,308.7 1258.1,307.1 1256.3,304.7 1256.1,304.5 1254.1,301.8 1253.2,300.6 1252.1,299.9 1250.1,298.5 1248.1,300.5 1246.1,302.5 1246.0,302.6 1244.1,301.6 1242.3,300.6 1242.1,300.6 1240.1,300.6 1239.9,300.6 1238.1,297.1 1237.8,296.5 1236.1,297.6 1234.7,298.5 1234.1,298.9 1232.1,300.3 1231.7,300.6 1230.1,300.6 1228.6,300.6 1228.1,300.6 1226.1,300.6 1225.5,300.6 1224.1,302.5 1222.5,304.7 1222.1,304.7 1220.1,304.7 1219.4,304.7 1218.1,304.7 1216.1,304.7 1215.3,304.7 1214.1,303.9 1212.2,302.6 1212.1,302.7 1210.1,304.1 1209.2,304.7 1208.1,306.1 1206.1,308.7 1204.1,311.4 1203.0,312.8 1202.1,317.6 1200.1,328.2 1199.9,329.2 1198.1,334.1 1196.9,337.4 1196.1,337.4 1194.1,337.4 1193.8,337.4 1192.1,337.4 1190.7,337.4 1190.1,336.6 1188.1,334.0 1187.6,333.3 1186.1,330.3 1184.6,327.2 1184.1,327.5 1182.1,328.8 1181.5,329.2 1180.1,323.7 1178.4,316.9 1178.1,316.5 1176.1,313.8 1175.4,312.8 1174.1,312.8 1172.3,312.8 1172.1,312.8 1170.1,312.8 1169.2,312.8 1168.1,316.5 1166.1,323.1 1164.1,320.4 1163.1,319.0 1162.1,318.3 1160.1,317.0 1160.0,316.9 1158.1,313.0 1158.0,312.8 1156.1,318.0 1155.0,321.0 1154.1,318.6 1152.1,313.3 1151.9,312.8 1150.1,306.9 1148.8,302.6 1148.1,302.2 1146.1,300.8 1145.8,300.6 1144.1,299.6 1142.3,298.5 1142.1,298.7 1140.1,301.0 1138.6,302.6 1138.1,302.3 1136.1,301.0 1135.5,300.6 1134.1,300.6 1132.5,300.6 1132.1,300.6 1130.1,300.6 1129.4,300.6 1128.1,303.2 1127.3,304.7 1126.1,308.0 1124.3,312.8 1124.1,313.7 1122.1,323.0 1121.2,327.2 1120.1,325.0 1118.1,321.0 1116.1,318.4 1115.0,316.9 1114.1,318.8 1112.1,322.9 1112.0,323.1 1110.1,324.3 1108.9,325.1 1108.1,327.2 1106.1,332.5 1105.8,333.3 1104.1,330.4 1103.4,329.2 1102.1,329.2 1100.1,329.2 1099.7,329.2 1098.1,328.2 1096.6,327.2 1096.1,327.5 1094.1,328.8 1093.5,329.2 1092.1,332.1 1090.5,335.4 1090.1,340.9 1088.8,358.9 1088.1,360.4 1087.8,361.0 1086.8,356.9 1086.1,343.3 1085.8,337.4 1084.1,326.3 1083.3,321.0 1082.1,320.2 1080.2,319.0 1080.1,319.2 1078.1,321.9 1077.2,323.1 1076.1,320.9 1074.1,316.9 1072.1,319.6 1071.0,321.0 1070.1,322.8 1068.1,326.8 1067.9,327.2 1066.1,323.5 1064.9,321.0 1064.1,320.0 1062.1,317.3 1061.8,316.9 1060.1,314.7 1058.7,312.8 1058.1,313.6 1056.1,316.4 1055.7,316.9 1054.1,311.7 1052.6,306.7 1052.1,306.4 1050.1,305.1 1049.5,304.7 1048.1,301.0 1046.4,296.5 1046.1,297.1 1044.4,300.6 1044.1,301.0 1042.1,303.7 1041.3,304.7 1040.1,303.1 1038.2,300.6 1038.1,300.8 1036.1,303.5 1035.2,304.7 1034.1,304.7 1033.1,304.7 1032.1,303.4 1030.1,300.6 1028.1,298.0 1027.0,296.5 1026.1,296.5 1024.1,296.5 1023.9,296.5 1022.1,297.7 1020.8,298.5 1020.1,300.9 1018.1,307.7 1017.8,308.7 1016.1,315.4 1015.7,316.9 1014.1,306.4 1012.6,296.5 1012.1,296.2 1010.1,294.8 1009.6,294.4 1008.1,293.5 1006.5,292.4 1006.1,292.9 1004.1,295.6 1003.4,296.5 1002.1,298.3 1000.4,300.6 1000.1,300.6 998.1,300.6 997.3,300.6 996.1,306.9 994.2,316.9 994.1,316.7 992.1,311.4 991.1,308.7 990.1,307.4 988.1,304.7 986.1,308.7 985.0,310.8 984.1,308.3 983.0,305.3 982.1,303.5 980.1,299.3 980.0,299.1 978.1,296.6 976.9,295.0 976.1,296.1 974.1,298.7 973.8,299.1 972.1,306.1 970.8,311.4 970.1,310.5 968.1,307.8 967.7,307.3 966.1,306.3 964.6,305.3 964.1,304.3 962.1,300.3 961.5,299.1 960.1,295.3 958.5,290.9 958.1,290.4 956.1,287.7 955.4,286.8 954.1,287.7 952.3,288.9 952.1,288.9 950.1,288.9 949.3,288.9 948.1,288.9 946.2,288.9 946.1,289.0 944.1,290.3 943.1,290.9 942.1,292.2 940.1,294.9 940.0,295.0 938.1,293.8 937.0,293.0 936.1,293.6 934.1,294.9 933.9,295.0 932.1,299.2 931.2,301.2 930.1,299.2 928.1,295.6 927.8,295.0 926.1,292.8 924.7,290.9 924.1,291.7 922.1,294.4 921.6,295.0 920.1,297.0 918.5,299.1 918.1,298.9 916.1,297.5 915.5,297.1 914.1,298.0 912.4,299.1 912.1,299.1 910.3,299.1 910.1,299.3 908.1,300.7 907.3,301.2 906.1,302.0 904.2,303.2 904.1,304.1 902.1,322.7 901.1,331.9 900.1,325.1 898.1,311.4 896.1,307.5 895.0,305.3 894.1,313.0 892.1,330.2 891.9,331.9 890.1,341.4 888.8,348.3 888.1,338.8 886.1,311.4 885.8,307.3 884.1,300.6 882.7,295.0 882.1,294.2 880.1,291.6 879.6,290.9 878.1,292.4 876.1,294.4 875.5,295.0 874.1,298.8 872.5,303.2 872.1,303.2 870.1,303.2 869.4,303.2 868.1,299.8 866.3,295.0 866.1,294.4 864.1,288.1 863.7,286.8 862.1,284.2 861.2,282.7 860.1,285.6 858.1,290.9 856.1,286.9 855.1,284.8 854.1,284.8 853.0,284.8 852.1,286.6 850.1,290.5 849.9,290.9 848.1,325.0 847.3,340.1 846.1,322.4 844.8,303.2 844.1,301.8 842.8,299.1 842.1,298.2 840.1,295.5 839.7,295.0 838.1,299.3 836.6,303.2 836.1,303.9 834.1,306.6 833.6,307.3 832.1,313.3 830.5,319.6 830.1,319.3 828.1,318.0 827.4,317.5 826.1,315.8 824.3,313.5 824.1,311.0 822.1,285.3 821.9,282.7 820.1,293.7 819.2,299.1 818.1,300.6 816.1,303.2 814.1,311.4 813.1,315.5 812.1,322.8 810.1,337.3 810.0,338.0 808.1,355.6 808.0,356.5 806.1,361.7 805.0,364.7 804.1,358.8 802.1,345.5 801.9,344.2 800.1,351.4 798.8,356.5 798.1,359.4 796.1,367.5 795.8,368.7 794.1,378.1 792.1,389.1 791.7,391.3 790.1,397.7 788.1,405.7 787.6,407.7 786.1,402.3 784.1,395.0 782.5,389.2 782.1,388.0 780.1,382.0 778.4,376.9 778.1,376.6 776.1,374.6 774.3,372.8 774.1,371.8 772.1,361.3 771.2,356.5 770.1,350.7 768.1,340.1 766.1,334.8 765.0,331.9 764.1,324.5 762.1,308.1 762.0,307.3 760.1,304.8 758.9,303.2 758.1,304.3 756.1,306.9 755.8,307.3 754.1,308.5 752.8,309.4 752.1,308.0 750.1,304.0 749.7,303.2 748.1,304.3 746.6,305.3 746.1,304.3 744.1,300.3 743.5,299.1 742.1,298.4 740.1,297.5 739.4,297.1 738.1,296.5 736.1,295.4 735.3,295.0 734.1,296.7 732.3,299.1 732.1,298.2 730.1,289.0 729.2,284.8 728.1,285.9 726.1,287.9 725.1,288.9 724.1,288.2 722.1,286.9 722.0,286.8 720.1,290.6 718.1,294.6 717.9,295.0 716.1,298.6 714.1,302.6 713.8,303.2 712.1,301.5 710.1,299.5 709.7,299.1 708.1,297.5 706.1,295.4 705.7,295.0 704.1,302.6 702.1,312.1 700.5,319.6 700.1,320.4 698.1,324.4 696.4,327.8 696.1,326.5 694.1,317.5 692.3,309.4 692.1,309.2 690.1,307.2 688.2,305.3 688.1,305.4 686.1,307.5 684.2,309.4 684.1,309.8 682.1,317.8 680.1,325.7 678.1,337.7 677.0,344.2 676.1,337.1 674.1,321.2 673.9,319.6 672.1,312.5 670.8,307.3 670.1,302.5 668.1,288.9 667.8,286.8 666.1,289.1 664.7,290.9 664.1,291.7 662.1,294.4 661.6,295.0 660.1,302.2 658.6,309.4 658.1,311.7 656.1,321.0 655.5,323.7 654.1,320.9 652.1,316.9 651.4,315.5 650.1,320.7 648.1,328.7 647.3,331.9 646.1,330.7 644.1,328.7 643.2,327.8 642.1,328.9 640.1,330.9 639.1,331.9 638.1,331.9 636.1,331.9 635.0,331.9 634.1,331.2 633.0,330.3 632.1,336.5 630.1,350.1 630.0,350.8 628.1,344.6 626.9,340.6 626.1,332.4 624.9,320.1 624.1,274.9 622.8,201.3 622.1,204.2 620.8,209.5 620.1,210.4 618.1,213.1 617.7,213.6 616.1,213.6 614.6,213.6 614.1,214.3 612.1,216.9 611.5,217.7 610.1,236.8 608.5,258.6 608.1,266.6 606.1,306.2 605.4,320.1 604.1,321.8 602.3,324.2 602.1,326.3 600.3,344.7 600.1,344.5 598.1,341.8 597.2,340.6 596.1,334.8 594.1,324.2 592.1,318.8 591.1,316.0 590.1,310.5 588.1,299.4 587.4,295.5 586.1,298.6 584.1,303.3 583.9,303.7 582.1,308.5 580.8,311.9 580.1,311.9 578.1,311.9 577.8,311.9 576.1,305.2 574.7,299.6 574.1,299.6 572.1,299.6 571.6,299.6 570.1,297.6 568.5,295.5 568.1,296.6 566.1,302.1 565.5,303.7 564.1,341.9 563.4,361.0 562.1,373.5 560.3,390.7 560.1,389.8 558.1,381.0 557.3,377.4 556.1,372.7 554.2,365.1 554.1,365.1 552.1,365.1 550.1,365.1 548.1,366.1 546.1,367.2 546.0,367.2 544.1,370.0 542.1,373.0 541.9,373.3 540.1,375.7 538.8,377.4 538.1,368.3 536.1,342.4 535.8,338.5 534.1,332.6 532.1,325.6 531.7,324.2 530.1,316.2 528.1,306.2 527.6,303.7 526.1,293.2 524.1,279.2 523.5,275.0 522.1,272.9 520.1,270.0 519.4,268.9 518.1,273.5 516.1,280.4 515.3,283.2 514.1,283.2 512.1,283.2 511.2,283.2 510.1,282.1 508.1,280.1 507.1,279.1 506.1,278.5 504.1,277.2 504.0,277.1 502.1,275.8 501.0,275.0 500.1,278.0 498.5,283.2 498.1,286.6 496.1,303.2 495.8,305.7 494.1,302.3 492.8,299.6 492.1,296.8 490.1,288.9 489.7,287.3 488.1,278.9 486.6,270.9 486.1,269.9 484.1,265.8 483.6,264.8 482.1,273.7 480.5,283.2 480.1,288.0 478.1,311.8 477.4,320.1 476.1,336.4 474.3,359.0 474.1,357.8 472.1,345.5 471.3,340.6 470.1,340.6 468.2,340.6 468.1,340.7 466.1,342.7 464.1,344.7 462.1,358.7 460.1,372.6 460.0,373.3 458.1,345.2 457.0,328.9 456.1,330.3 454.1,333.2 452.9,335.0 452.1,337.4 450.1,343.4 448.8,347.3 448.1,346.6 446.1,344.6 444.7,343.2 444.1,342.4 442.1,339.7 441.7,339.1 440.1,328.5 438.6,318.6 438.1,317.4 436.1,312.4 434.5,308.4 434.1,305.8 432.1,292.5 431.4,287.9 430.1,279.9 428.4,269.5 428.1,270.0 426.1,272.9 424.3,275.6 424.1,275.1 422.1,269.8 421.2,267.4 420.1,271.1 418.1,277.7 416.1,298.2 414.1,310.2 412.1,322.1 412.0,322.7 410.1,320.2 408.9,318.6 408.1,318.6 406.1,318.6 405.8,318.6 404.1,321.6 402.1,325.1 401.1,326.8 400.1,328.6 398.1,332.3 396.6,335.0 396.1,335.8 394.1,339.0 392.1,342.3 391.5,343.2 390.1,336.9 388.1,328.0 387.4,324.8 386.1,329.1 384.3,335.0 384.1,336.0 382.1,345.6 381.3,349.4 380.1,364.5 378.2,388.3 378.1,388.4 376.1,389.7 375.1,390.3 374.1,393.7 372.7,398.5 372.1,399.1 370.6,400.6 370.1,400.6 368.1,400.6 367.9,400.6 366.1,431.3 364.9,451.8 364.1,457.0 362.4,468.1 362.1,453.7 360.4,371.9 360.1,369.7 358.7,359.6 358.1,367.0 356.1,391.6 355.7,396.5 354.1,385.9 352.6,376.0 352.1,377.3 350.1,382.6 349.5,384.2 348.1,410.1 346.4,441.5 346.1,443.4 344.4,453.8 344.1,445.1 342.1,387.0 341.3,363.7 340.1,355.2 338.7,345.3 338.1,354.7 336.2,384.2 336.1,386.9 334.2,437.4 334.1,438.4 332.1,458.1 331.7,462.0 330.1,437.7 329.0,421.0 328.1,408.8 326.1,381.5 326.0,380.1 324.1,361.6 323.9,359.6 322.1,339.4 320.8,324.8 320.1,317.6 318.8,304.3 318.1,299.2 316.3,285.9 316.1,286.7 314.1,294.9 313.3,298.2 312.1,300.2 310.1,303.5 309.6,304.3 308.1,323.3 307.5,330.9 306.1,330.0 304.5,328.9 304.1,336.1 302.1,371.7 301.4,384.2 300.1,396.2 298.3,412.8 298.1,416.3 296.3,447.7 296.1,448.1 294.1,452.0 293.2,453.8 292.1,445.0 290.1,429.0 289.1,421.0 288.1,409.0 286.1,385.1 285.0,371.9 284.1,367.1 283.0,361.7 282.1,364.1 280.1,369.4 280.0,369.7 278.1,361.0 276.9,355.4 276.1,352.7 274.1,346.0 273.8,345.2 272.1,347.8 270.1,350.8 269.7,351.3 268.1,350.2 266.7,349.3 266.1,351.5 264.6,357.5 264.1,360.2 262.1,370.9 261.5,374.1 260.1,382.5 258.5,392.1 258.1,393.0 256.1,397.0 255.4,398.4 254.1,390.6 252.3,379.6 252.1,377.0 250.1,351.7 249.3,341.6 248.1,331.8 246.2,316.6 246.1,316.4 244.1,313.7 243.1,312.4 242.1,313.7 240.1,316.4 240.0,316.7 238.1,326.8 237.0,332.7 236.1,335.2 234.1,340.5 233.9,341.1 232.1,335.1 230.8,330.8 230.1,330.3 228.1,329.0 227.8,328.8 226.1,326.6 224.7,324.7 224.1,325.8 222.1,329.8 221.6,330.8 220.1,325.8 218.5,320.5 218.1,319.4 216.1,314.1 215.5,312.5 214.1,313.8 212.1,315.8 211.4,316.5 210.1,319.0 209.3,320.7 208.1,328.7 206.3,340.7 206.1,341.9 204.1,352.5 203.2,357.3 202.1,357.4 200.1,357.4 198.1,354.8 197.0,353.3 196.1,352.1 194.1,349.4 194.0,349.3 192.1,341.8 190.9,337.0 190.1,336.4 188.1,335.1 187.8,334.9 186.1,331.5 184.7,328.9 184.1,330.5 182.1,335.8 181.7,336.9 180.1,349.6 178.6,361.5 178.1,358.8 176.1,348.2 175.5,345.1 174.1,343.2 172.5,341.1 172.1,341.5 170.1,344.2 169.4,345.1 168.1,358.0 166.3,375.9 166.1,375.7 164.3,373.9 164.1,371.6 162.1,344.9 161.2,332.9 160.1,333.4 158.1,334.4 157.1,334.9 156.1,334.2 154.1,332.9 154.0,332.7 152.1,325.1 151.0,320.7 150.1,320.0 148.1,318.7 147.9,318.5 146.1,327.5 145.8,329.1 144.1,343.8 142.8,355.1 142.1,350.7 140.7,341.1 140.1,342.3 138.1,346.3 137.6,347.2 136.1,348.2 134.6,349.2 134.1,344.8 132.1,326.1 131.5,320.6 130.1,315.0 128.4,308.2 128.1,307.6 126.1,303.6 125.4,302.2 124.1,301.5 122.1,300.5 121.3,300.1 120.1,315.6 118.2,340.9 118.1,341.4 116.1,349.2" fill="#1f77b4"/><path d="M116.1 279.8h0M115.5 348.1h0M117.8 269.7h0M118.6 340.9h0M118.3 269.0h0M118.6 340.5h0M119.8 257.5h0M119.8 315.1h0M120.7 250.7h0M120.8 299.9h0M122.5 251.9h0M122.1 299.6h0M124.8 256.3h0M124.2 301.1h0M124.9 256.8h0M124.8 301.2h0M126.5 260.3h0M126.8 303.0h0M128.1 265.3h0M127.4 307.5h0M129.0 265.2h0M128.0 307.4h0M130.1 273.7h0M130.5 314.5h0M132.0 281.9h0M132.0 319.8h0M132.6 286.3h0M131.4 325.2h0M134.7 301.9h0M134.1 344.5h0M133.8 305.9h0M135.0 348.2h0M135.8 307.1h0M136.3 347.5h0M138.3 307.9h0M137.6 347.0h0M138.0 306.9h0M137.3 345.5h0M140.8 300.9h0M140.7 341.9h0M140.3 297.7h0M140.2 340.0h0M141.4 296.7h0M141.6 350.7h0M142.5 295.6h0M142.3 354.9h0M143.3 285.0h0M144.0 341.8h0M146.0 271.2h0M146.2 328.8h0M146.0 270.0h0M146.3 326.9h0M147.6 258.9h0M147.4 317.2h0M147.7 259.1h0M147.4 318.5h0M150.5 263.7h0M149.5 320.0h0M150.9 265.3h0M150.9 320.1h0M152.6 269.9h0M151.9 324.6h0M153.8 275.7h0M153.5 332.2h0M153.8 275.8h0M154.2 332.4h0M156.5 287.6h0M156.5 333.5h0M157.8 294.2h0M157.1 333.9h0M158.1 296.2h0M157.5 334.4h0M160.6 298.2h0M160.5 333.0h0M160.6 300.6h0M161.0 332.4h0M162.7 302.1h0M161.9 343.4h0M164.6 305.5h0M164.9 371.6h0M164.6 305.9h0M164.0 373.6h0M166.8 309.9h0M166.9 375.5h0M166.1 309.8h0M166.1 375.8h0M168.1 293.3h0M168.1 357.3h0M169.1 282.1h0M169.3 344.0h0M170.7 279.3h0M169.8 341.6h0M172.7 274.9h0M172.6 341.5h0M172.3 273.2h0M171.7 340.0h0M173.9 284.1h0M173.5 341.8h0M175.6 289.2h0M176.0 344.1h0M176.7 292.6h0M176.3 347.8h0M178.6 296.1h0M177.4 357.2h0M178.7 297.7h0M178.6 360.9h0M179.4 294.0h0M180.4 348.5h0M181.2 289.4h0M181.1 336.8h0M181.5 288.5h0M181.7 335.7h0M183.4 281.7h0M183.6 330.0h0M184.6 279.9h0M185.4 328.5h0M186.4 287.2h0M186.8 331.2h0M187.2 294.0h0M187.1 333.9h0M187.7 293.7h0M187.8 333.7h0M190.5 295.4h0M190.3 335.9h0M190.8 295.7h0M190.4 336.9h0M191.3 296.9h0M191.6 341.4h0M193.9 297.5h0M193.7 349.1h0M194.6 298.0h0M193.4 348.5h0M196.5 298.7h0M195.5 352.0h0M196.7 298.3h0M196.3 353.0h0M198.3 296.0h0M197.5 354.1h0M199.4 285.2h0M200.3 356.9h0M202.6 293.5h0M202.8 357.0h0M203.5 297.7h0M202.4 356.7h0M204.8 291.5h0M204.8 351.6h0M206.5 278.7h0M205.6 341.6h0M206.4 277.5h0M206.3 340.5h0M208.2 274.7h0M208.6 328.1h0M209.1 273.2h0M209.5 320.7h0M209.9 269.9h0M210.3 317.7h0M210.7 263.5h0M210.9 316.3h0M212.9 265.2h0M211.9 314.5h0M214.3 272.8h0M213.4 313.4h0M215.1 277.9h0M216.0 312.3h0M215.8 278.3h0M216.5 314.1h0M218.6 279.9h0M217.6 319.4h0M218.0 280.4h0M218.5 320.2h0M220.1 279.6h0M219.6 325.3h0M221.2 279.6h0M221.6 330.1h0M221.6 280.8h0M221.9 328.3h0M224.1 284.4h0M224.6 325.5h0M225.2 286.2h0M225.4 324.3h0M225.6 288.0h0M226.0 326.5h0M227.6 290.3h0M227.3 327.7h0M228.2 289.3h0M227.5 327.5h0M230.4 285.8h0M229.9 329.2h0M231.3 284.1h0M230.3 330.3h0M231.9 287.0h0M231.7 334.2h0M233.9 289.4h0M233.7 340.0h0M233.9 290.5h0M234.6 339.8h0M235.7 295.4h0M236.8 333.7h0M237.2 297.5h0M237.3 332.0h0M237.8 290.4h0M237.9 325.1h0M240.8 277.8h0M240.2 316.4h0M239.4 277.8h0M240.9 315.7h0M242.7 274.5h0M242.4 312.8h0M243.0 273.6h0M242.8 312.3h0M243.7 272.9h0M244.2 313.1h0M245.7 273.2h0M246.1 315.8h0M246.4 273.3h0M246.8 316.1h0M247.5 276.9h0M247.5 331.2h0M249.4 279.3h0M249.6 340.6h0M250.0 284.7h0M250.7 350.5h0M251.6 296.4h0M251.6 377.0h0M252.0 299.2h0M252.4 379.3h0M253.3 305.0h0M254.5 390.4h0M255.1 311.4h0M255.0 397.2h0M256.8 308.9h0M256.4 396.4h0M258.6 306.4h0M258.3 392.8h0M259.1 305.7h0M259.1 391.3h0M259.9 302.7h0M260.7 381.9h0M261.1 297.8h0M261.2 373.5h0M261.3 297.9h0M261.8 370.5h0M263.9 297.5h0M263.6 359.1h0M265.0 298.2h0M265.2 357.4h0M266.6 294.7h0M266.0 351.2h0M266.2 295.3h0M266.4 349.2h0M268.5 297.2h0M267.4 349.2h0M269.4 298.4h0M269.4 350.7h0M270.2 297.0h0M270.5 350.2h0M272.1 293.9h0M272.7 347.6h0M273.7 289.6h0M273.7 344.2h0M274.1 290.1h0M274.4 344.7h0M276.3 293.0h0M275.5 351.4h0M277.6 295.2h0M277.7 354.9h0M278.6 292.3h0M278.7 359.8h0M280.3 290.9h0M280.1 368.8h0M280.1 289.6h0M279.5 368.7h0M282.5 280.4h0M282.6 363.1h0M283.2 276.3h0M282.5 361.2h0M283.4 274.2h0M283.4 365.9h0M285.5 271.2h0M284.4 371.7h0M286.2 280.6h0M285.6 384.3h0M288.7 295.9h0M288.1 408.9h0M288.7 304.7h0M289.1 420.9h0M289.9 313.1h0M289.9 428.4h0M292.8 330.7h0M292.9 443.4h0M293.7 340.7h0M292.8 453.2h0M293.9 336.7h0M293.6 451.4h0M295.8 326.1h0M295.6 447.2h0M296.1 327.0h0M295.6 447.4h0M298.8 281.3h0M297.6 415.8h0M297.6 275.4h0M298.1 412.1h0M300.7 260.8h0M300.8 395.9h0M301.5 247.6h0M300.7 382.9h0M302.1 240.8h0M302.0 371.7h0M303.6 213.8h0M303.6 335.8h0M304.2 209.3h0M305.0 327.4h0M306.3 211.1h0M306.0 329.2h0M308.0 213.1h0M307.5 329.3h0M308.1 197.3h0M308.9 321.6h0M309.3 158.3h0M309.4 303.9h0M310.1 155.6h0M310.7 303.1h0M311.9 145.1h0M311.5 299.5h0M313.8 140.7h0M313.9 297.7h0M313.6 134.6h0M314.6 294.0h0M315.6 123.1h0M316.5 285.5h0M316.0 122.5h0M316.1 285.7h0M318.5 132.8h0M318.1 297.3h0M318.9 138.6h0M319.0 303.3h0M320.7 152.2h0M320.8 317.3h0M321.2 158.2h0M320.4 324.3h0M322.8 177.1h0M321.8 338.6h0M324.3 203.5h0M324.5 359.4h0M324.7 204.6h0M323.7 360.8h0M326.8 217.8h0M325.3 379.7h0M326.5 218.2h0M325.4 380.8h0M328.7 239.9h0M327.8 408.3h0M328.7 250.8h0M328.8 420.5h0M329.9 271.0h0M329.4 435.6h0M332.3 304.8h0M332.0 460.6h0M331.9 301.0h0M332.5 457.0h0M333.5 284.1h0M334.4 437.5h0M334.7 283.6h0M333.9 436.7h0M335.5 264.4h0M335.5 386.0h0M336.4 263.5h0M335.5 383.1h0M338.5 189.2h0M338.3 353.6h0M338.2 165.9h0M339.5 344.8h0M340.7 240.2h0M340.4 354.8h0M340.6 304.6h0M340.9 362.7h0M342.3 302.8h0M341.9 385.9h0M344.8 297.5h0M343.5 444.5h0M345.1 295.8h0M345.2 453.7h0M346.7 292.6h0M345.3 443.2h0M346.1 292.2h0M346.9 441.3h0M348.7 291.2h0M347.9 409.3h0M350.2 290.1h0M349.4 384.2h0M350.8 287.9h0M349.6 382.4h0M352.5 281.9h0M351.5 377.1h0M352.9 280.8h0M353.1 374.6h0M354.6 285.7h0M354.1 384.8h0M356.3 291.5h0M355.0 394.9h0M355.4 292.5h0M356.5 390.4h0M357.3 292.1h0M357.8 364.7h0M359.1 292.3h0M358.0 359.5h0M360.6 290.2h0M359.6 368.6h0M359.8 289.8h0M360.6 371.9h0M362.1 302.5h0M362.5 453.1h0M363.0 303.9h0M363.1 467.5h0M363.4 294.9h0M363.8 456.8h0M364.3 289.6h0M364.5 451.7h0M366.5 288.9h0M366.7 430.9h0M368.5 287.6h0M367.4 400.4h0M367.7 288.6h0M367.9 400.5h0M370.0 289.5h0M369.7 399.6h0M370.3 289.4h0M370.6 400.2h0M371.8 291.7h0M372.7 398.7h0M372.0 291.5h0M372.3 397.1h0M374.2 292.5h0M374.3 393.4h0M374.6 288.0h0M375.2 389.7h0M375.5 287.4h0M376.9 388.4h0M378.6 288.3h0M378.8 388.2h0M378.6 287.6h0M378.3 388.0h0M379.8 276.8h0M380.0 364.3h0M380.5 268.3h0M380.9 348.3h0M381.6 264.9h0M382.9 345.3h0M384.8 255.0h0M383.5 334.1h0M384.1 253.7h0M384.0 334.4h0M386.1 259.5h0M386.6 328.3h0M387.0 262.9h0M387.6 324.7h0M387.9 257.8h0M388.0 326.7h0M390.3 246.0h0M390.9 336.8h0M392.3 238.5h0M391.8 342.0h0M392.3 238.1h0M392.6 342.1h0M394.0 236.2h0M394.0 338.7h0M395.5 233.8h0M396.8 335.7h0M396.4 233.5h0M397.0 334.6h0M398.6 232.3h0M397.7 332.2h0M400.1 229.9h0M399.6 327.9h0M401.5 229.4h0M401.5 326.1h0M402.8 229.8h0M402.1 324.3h0M403.7 233.3h0M404.9 321.3h0M405.9 233.9h0M406.0 318.6h0M405.6 236.5h0M406.3 318.2h0M407.4 252.0h0M407.8 317.9h0M409.1 257.8h0M409.0 318.4h0M409.8 254.9h0M410.2 319.1h0M411.6 248.4h0M412.1 322.1h0M411.3 248.5h0M412.8 321.4h0M414.8 224.2h0M414.2 309.2h0M416.0 200.7h0M415.7 297.3h0M418.1 158.3h0M418.8 277.4h0M419.9 155.2h0M419.4 268.9h0M421.4 153.7h0M421.8 267.2h0M421.8 157.0h0M421.6 267.5h0M424.7 166.4h0M423.7 274.8h0M423.6 166.5h0M424.0 274.3h0M426.1 163.3h0M426.8 272.9h0M428.0 158.4h0M427.8 267.7h0M428.2 157.5h0M428.6 269.3h0M429.9 164.5h0M430.6 279.4h0M431.9 170.3h0M431.9 286.1h0M432.1 184.5h0M431.7 291.3h0M433.6 225.5h0M434.6 305.5h0M434.7 233.4h0M433.9 308.2h0M435.4 238.6h0M436.2 311.5h0M437.6 245.1h0M438.0 316.6h0M438.8 246.2h0M438.6 318.1h0M440.7 242.7h0M440.2 327.2h0M442.0 240.8h0M441.3 337.9h0M442.5 240.9h0M441.7 339.1h0M444.2 247.0h0M444.5 342.3h0M444.5 247.7h0M445.4 342.5h0M446.4 253.2h0M446.3 343.3h0M447.6 258.8h0M448.6 346.4h0M448.9 260.4h0M449.5 346.5h0M450.6 259.3h0M450.5 342.7h0M452.7 257.0h0M452.9 337.2h0M452.5 256.1h0M452.9 334.5h0M453.7 254.6h0M454.8 333.0h0M456.0 253.4h0M456.6 329.5h0M456.9 252.0h0M457.2 328.1h0M458.6 252.2h0M458.7 344.5h0M459.4 250.0h0M460.1 372.8h0M460.0 251.2h0M459.4 372.6h0M462.8 266.4h0M461.5 358.2h0M464.1 280.6h0M464.1 344.6h0M465.4 276.7h0M466.3 342.4h0M468.8 272.8h0M468.1 340.3h0M467.6 273.3h0M468.5 340.4h0M470.6 270.0h0M469.4 340.4h0M471.4 268.7h0M471.9 340.3h0M472.9 271.2h0M472.0 343.9h0M474.4 274.8h0M474.8 356.0h0M473.8 275.2h0M474.4 358.5h0M476.0 251.2h0M476.2 335.3h0M478.0 231.4h0M476.8 318.8h0M478.3 227.9h0M478.0 310.8h0M479.4 216.9h0M480.3 286.9h0M480.9 216.4h0M480.1 280.6h0M482.5 206.3h0M481.4 273.6h0M484.3 196.8h0M483.1 264.7h0M484.3 198.7h0M483.7 265.2h0M486.1 206.3h0M486.8 269.0h0M487.2 207.2h0M487.2 269.6h0M488.2 217.0h0M487.3 278.4h0M489.1 227.6h0M490.0 286.9h0M490.2 231.1h0M490.6 288.6h0M492.4 252.5h0M491.4 296.5h0M492.0 258.5h0M492.0 298.3h0M493.8 253.9h0M494.6 301.9h0M496.5 249.7h0M496.1 304.7h0M495.5 237.4h0M495.4 302.6h0M497.8 161.3h0M498.0 285.7h0M499.1 145.8h0M497.7 283.1h0M499.9 155.9h0M499.5 277.8h0M500.7 162.8h0M500.7 274.4h0M502.0 171.7h0M502.5 275.7h0M503.2 186.4h0M503.4 276.5h0M503.9 187.6h0M504.5 277.1h0M506.4 187.2h0M506.9 278.1h0M506.9 186.9h0M506.4 278.1h0M508.5 183.2h0M508.7 280.0h0M510.0 178.6h0M510.7 281.0h0M511.1 174.2h0M510.6 282.3h0M511.6 172.1h0M512.5 281.1h0M514.4 167.3h0M514.7 282.8h0M515.3 164.4h0M515.3 282.5h0M515.6 164.9h0M516.4 279.1h0M518.5 162.9h0M517.3 273.1h0M519.1 161.9h0M519.2 268.6h0M519.7 164.7h0M519.3 269.4h0M522.7 171.0h0M522.7 272.0h0M524.3 174.6h0M523.0 273.1h0M523.4 175.2h0M524.3 278.9h0M526.4 179.4h0M525.6 290.9h0M526.8 182.5h0M527.1 303.6h0M528.7 184.0h0M528.5 304.9h0M530.1 188.2h0M529.5 314.0h0M531.0 191.4h0M531.3 324.1h0M531.7 193.7h0M532.2 325.4h0M533.3 210.1h0M534.3 331.7h0M536.3 223.7h0M535.6 338.1h0M536.1 226.3h0M536.5 340.9h0M537.4 242.3h0M537.4 368.3h0M538.9 249.7h0M538.7 376.9h0M540.2 256.8h0M540.5 375.0h0M541.6 268.9h0M542.3 371.0h0M541.7 268.3h0M542.0 372.2h0M544.7 267.0h0M543.9 368.4h0M546.7 264.4h0M546.1 367.0h0M546.5 264.8h0M546.3 366.1h0M547.8 271.7h0M547.5 364.4h0M549.6 277.3h0M550.1 364.2h0M551.7 280.7h0M552.7 364.5h0M554.4 284.6h0M553.7 363.4h0M553.5 285.8h0M553.5 365.0h0M556.3 287.6h0M556.6 371.0h0M557.3 289.5h0M557.7 377.4h0M557.7 290.0h0M558.7 380.6h0M559.8 293.0h0M559.8 388.9h0M560.1 292.9h0M559.8 390.2h0M561.5 264.6h0M562.2 372.4h0M564.1 244.1h0M563.9 360.4h0M563.9 229.4h0M564.7 340.9h0M565.7 200.7h0M566.3 303.6h0M566.2 202.3h0M565.6 301.6h0M568.2 206.3h0M568.8 296.1h0M568.5 206.8h0M569.2 293.1h0M569.5 213.8h0M570.4 297.1h0M571.8 217.8h0M572.1 298.9h0M572.8 216.8h0M572.5 297.9h0M574.2 214.3h0M574.7 299.5h0M574.9 213.8h0M574.0 298.6h0M575.3 224.8h0M575.7 304.6h0M578.0 238.8h0M577.7 311.9h0M578.1 236.8h0M577.3 311.2h0M580.8 233.2h0M580.4 310.9h0M580.9 232.4h0M580.9 310.1h0M582.3 230.2h0M582.8 307.7h0M584.0 227.4h0M584.4 301.8h0M583.9 226.4h0M584.3 302.9h0M585.8 208.3h0M586.4 297.5h0M587.4 194.8h0M587.6 293.9h0M588.4 197.3h0M587.7 299.3h0M590.3 204.7h0M589.3 310.5h0M590.7 207.1h0M590.8 315.6h0M592.4 214.1h0M592.2 317.9h0M594.8 228.1h0M593.8 322.7h0M595.6 227.7h0M595.5 334.2h0M597.6 227.6h0M596.4 339.4h0M597.8 215.2h0M598.8 341.6h0M600.1 185.1h0M599.5 344.4h0M600.8 182.9h0M600.6 343.6h0M601.9 179.6h0M601.8 325.1h0M602.6 178.9h0M603.1 323.7h0M603.5 167.6h0M604.3 321.6h0M604.7 159.7h0M605.3 319.8h0M605.5 149.3h0M605.9 305.0h0M607.5 111.7h0M608.0 265.4h0M608.5 105.4h0M609.1 258.3h0M609.7 94.9h0M609.6 236.4h0M610.8 86.0h0M610.8 216.8h0M612.8 85.8h0M612.7 216.0h0M614.5 86.4h0M614.3 213.6h0M614.8 84.4h0M615.0 213.1h0M615.8 83.1h0M616.1 213.2h0M617.3 81.7h0M618.0 213.2h0M618.6 80.9h0M617.9 211.5h0M620.3 75.8h0M619.8 209.5h0M620.3 74.0h0M620.1 209.5h0M622.9 77.2h0M621.6 203.3h0M622.7 78.1h0M622.5 200.5h0M624.8 108.6h0M623.4 274.5h0M625.3 125.0h0M624.7 319.4h0M626.3 176.7h0M626.0 331.7h0M626.3 210.7h0M626.4 339.7h0M627.8 211.9h0M628.2 342.3h0M630.1 214.3h0M630.1 349.4h0M629.9 214.0h0M629.4 349.9h0M632.2 209.1h0M632.6 336.1h0M632.6 206.6h0M632.4 330.1h0M633.8 203.7h0M633.7 330.2h0M634.7 202.6h0M635.7 331.3h0M636.5 201.9h0M636.4 331.7h0M637.6 202.9h0M638.0 331.4h0M638.7 203.7h0M638.5 331.3h0M639.3 203.7h0M639.9 328.7h0M641.6 203.3h0M642.0 328.2h0M642.5 203.4h0M643.2 326.6h0M644.3 205.8h0M644.0 326.9h0M646.9 210.9h0M646.9 328.5h0M648.0 214.2h0M647.8 330.8h0M647.9 215.4h0M648.8 327.0h0M650.6 216.9h0M650.1 320.7h0M651.0 218.6h0M652.1 314.8h0M652.0 219.9h0M652.7 316.4h0M653.5 227.0h0M654.7 319.7h0M655.6 230.4h0M654.9 322.7h0M655.8 231.2h0M655.9 319.9h0M658.0 233.3h0M658.8 311.4h0M658.8 234.6h0M658.1 308.6h0M659.5 216.2h0M659.6 301.6h0M661.4 197.8h0M661.8 294.4h0M662.6 198.3h0M662.8 293.9h0M664.0 202.3h0M664.3 291.6h0M664.7 203.7h0M663.9 289.4h0M666.1 210.6h0M666.1 288.0h0M667.2 218.1h0M668.2 284.9h0M668.1 220.1h0M668.5 288.5h0M669.5 228.3h0M670.1 301.8h0M671.5 232.1h0M671.2 306.0h0M671.8 237.8h0M672.5 312.3h0M674.2 246.7h0M673.1 319.4h0M673.5 247.4h0M674.1 321.2h0M676.8 249.5h0M676.2 336.6h0M677.3 250.4h0M677.4 343.0h0M677.5 250.6h0M678.4 337.6h0M680.4 250.8h0M680.2 325.2h0M682.0 238.2h0M681.7 317.5h0M684.3 223.8h0M684.0 309.3h0M684.6 223.0h0M683.9 308.5h0M685.6 222.6h0M685.9 307.2h0M688.3 222.6h0M688.2 305.1h0M688.2 222.3h0M688.9 305.1h0M689.4 216.8h0M689.8 306.6h0M691.7 212.4h0M691.5 309.0h0M692.7 211.3h0M692.0 309.2h0M694.8 217.8h0M694.6 316.6h0M696.8 225.8h0M696.0 325.8h0M696.2 226.2h0M696.5 327.6h0M698.1 220.0h0M697.9 323.9h0M700.6 211.7h0M699.7 319.8h0M700.3 209.5h0M699.8 319.4h0M702.7 199.3h0M702.3 311.4h0M703.6 187.9h0M704.5 301.5h0M705.9 178.3h0M705.4 293.2h0M705.7 177.4h0M705.6 294.7h0M708.3 179.4h0M708.3 296.8h0M709.9 181.9h0M709.5 298.5h0M710.5 181.9h0M709.7 297.7h0M712.3 183.6h0M712.4 300.6h0M713.2 186.0h0M713.3 301.7h0M713.4 184.1h0M714.6 302.2h0M716.7 175.8h0M715.4 298.1h0M717.1 170.7h0M717.2 294.6h0M717.4 168.3h0M718.9 294.2h0M720.4 163.4h0M719.6 289.4h0M721.7 158.3h0M722.4 285.6h0M722.0 159.1h0M722.5 285.8h0M723.7 177.3h0M724.8 287.1h0M724.4 185.5h0M724.4 288.8h0M726.7 186.2h0M726.7 287.4h0M728.2 189.3h0M728.7 285.8h0M728.9 191.2h0M729.6 284.0h0M730.2 190.3h0M729.8 287.1h0M732.6 189.6h0M731.8 298.1h0M731.7 188.8h0M732.2 298.9h0M733.9 177.9h0M733.6 294.9h0M735.5 170.7h0M735.9 293.9h0M736.2 172.4h0M735.9 295.4h0M738.7 174.3h0M738.8 296.1h0M738.8 174.8h0M739.5 296.2h0M740.1 177.6h0M740.2 297.3h0M742.1 185.6h0M742.3 296.9h0M743.8 191.4h0M743.5 298.9h0M744.1 191.0h0M744.6 299.7h0M745.6 191.0h0M745.6 303.5h0M745.8 191.6h0M746.5 304.2h0M748.8 192.3h0M747.9 302.9h0M749.3 192.6h0M750.3 302.0h0M750.2 193.7h0M750.3 304.0h0M751.8 203.8h0M751.7 307.7h0M752.4 208.0h0M753.1 309.4h0M754.1 211.2h0M753.6 308.0h0M756.1 214.4h0M755.9 307.0h0M755.8 213.1h0M756.1 305.7h0M757.4 209.0h0M758.8 304.0h0M759.5 208.4h0M759.0 303.2h0M760.7 209.0h0M760.2 303.6h0M762.4 209.7h0M761.8 307.1h0M761.3 210.6h0M761.7 307.4h0M763.7 236.0h0M764.7 324.0h0M764.2 246.5h0M765.3 331.9h0M765.6 223.0h0M765.7 334.3h0M767.6 181.8h0M768.4 339.9h0M769.6 172.8h0M770.0 349.7h0M771.2 168.6h0M771.7 356.5h0M772.8 173.7h0M772.2 360.3h0M773.9 184.1h0M774.8 371.6h0M774.2 185.0h0M774.2 371.3h0M775.9 239.3h0M776.8 373.5h0M778.0 300.8h0M777.5 376.5h0M778.4 309.4h0M778.2 376.7h0M779.5 312.8h0M779.5 381.0h0M781.6 314.3h0M782.6 386.9h0M782.9 313.7h0M781.9 389.0h0M783.5 314.4h0M783.4 394.6h0M786.0 315.0h0M785.4 401.5h0M788.0 315.7h0M787.2 406.5h0M788.1 315.7h0M788.8 405.4h0M789.5 314.9h0M789.8 397.1h0M791.8 313.5h0M791.1 391.2h0M792.9 311.8h0M791.4 388.2h0M794.8 305.9h0M794.9 377.4h0M796.3 301.2h0M796.5 367.6h0M795.8 296.5h0M796.1 365.7h0M798.2 266.5h0M797.4 358.5h0M798.0 255.8h0M798.4 356.2h0M800.9 252.1h0M800.2 350.6h0M801.4 245.2h0M802.2 344.1h0M801.7 244.8h0M801.9 344.6h0M803.7 247.7h0M803.9 357.8h0M804.7 249.5h0M804.3 363.9h0M806.3 240.2h0M806.2 360.3h0M808.0 221.8h0M808.4 355.6h0M807.4 222.1h0M807.4 354.0h0M809.3 206.5h0M809.5 336.9h0M810.8 206.9h0M810.7 337.2h0M812.7 207.6h0M811.8 320.3h0M813.4 206.0h0M813.7 313.8h0M814.0 204.6h0M814.4 310.9h0M815.4 199.6h0M816.2 302.9h0M818.2 179.9h0M818.2 298.1h0M819.9 170.5h0M819.9 298.8h0M819.7 168.6h0M819.3 293.3h0M822.3 164.3h0M821.4 281.4h0M822.6 171.0h0M822.8 284.7h0M823.7 228.5h0M823.7 310.1h0M824.1 234.6h0M824.5 313.4h0M826.0 238.2h0M825.7 315.3h0M827.7 240.1h0M827.8 317.4h0M828.6 238.7h0M828.8 317.9h0M830.0 235.0h0M829.3 318.7h0M830.5 235.3h0M829.8 319.3h0M831.7 225.7h0M831.6 310.8h0M833.3 219.3h0M834.2 306.1h0M834.9 219.5h0M834.3 305.3h0M836.6 218.6h0M836.6 302.8h0M837.0 218.1h0M836.4 302.1h0M837.7 237.9h0M838.1 298.6h0M839.3 259.6h0M839.8 294.3h0M840.0 258.3h0M840.6 295.4h0M842.8 255.2h0M842.6 298.1h0M842.8 252.8h0M843.1 298.3h0M844.7 248.4h0M843.4 301.7h0M844.3 246.8h0M844.7 303.0h0M845.7 250.1h0M845.6 321.1h0M847.4 252.6h0M847.1 339.0h0M847.8 244.2h0M848.0 324.8h0M850.0 221.7h0M850.2 290.7h0M850.7 220.9h0M849.9 290.1h0M852.7 202.8h0M851.8 286.5h0M853.0 195.4h0M852.4 284.8h0M853.8 194.4h0M853.8 284.2h0M855.1 193.0h0M855.6 284.5h0M856.5 201.9h0M856.6 285.3h0M857.6 217.5h0M858.1 289.5h0M860.9 209.1h0M860.3 284.8h0M860.5 203.6h0M861.1 281.6h0M861.4 203.7h0M862.3 282.7h0M864.4 203.1h0M864.2 286.5h0M864.2 208.0h0M864.7 287.0h0M865.6 231.9h0M866.3 294.0h0M866.5 234.8h0M865.9 295.0h0M868.8 241.2h0M868.6 299.6h0M868.7 246.9h0M869.0 302.9h0M870.3 246.7h0M869.9 303.1h0M872.9 239.1h0M872.7 302.0h0M872.3 238.5h0M872.2 303.1h0M874.0 244.6h0M874.2 298.6h0M874.8 251.7h0M875.5 294.5h0M876.1 249.7h0M875.8 294.2h0M877.9 246.5h0M877.8 291.8h0M879.6 244.2h0M880.2 289.9h0M880.6 246.4h0M879.9 291.3h0M881.4 254.8h0M881.9 294.1h0M882.7 256.8h0M882.9 294.7h0M883.9 257.7h0M883.9 299.7h0M886.3 259.0h0M885.3 307.1h0M886.8 259.9h0M885.4 310.1h0M888.2 269.8h0M887.4 338.1h0M888.2 270.9h0M889.4 347.5h0M890.9 273.3h0M889.5 341.3h0M891.5 275.9h0M891.2 331.7h0M892.4 272.7h0M891.4 329.4h0M894.8 240.5h0M894.0 311.9h0M895.0 226.4h0M894.8 304.1h0M895.3 233.6h0M896.9 307.2h0M897.3 246.5h0M897.4 310.0h0M899.9 254.4h0M900.5 324.1h0M900.9 259.0h0M901.7 331.2h0M901.6 260.7h0M902.8 322.2h0M904.6 265.5h0M904.7 303.8h0M904.4 265.6h0M904.2 303.2h0M905.6 265.6h0M906.7 300.8h0M907.7 265.0h0M906.6 300.3h0M907.5 260.6h0M908.5 300.3h0M909.4 248.4h0M910.8 298.6h0M909.8 246.2h0M909.6 297.4h0M912.6 240.3h0M912.5 297.0h0M912.7 238.9h0M913.0 298.7h0M914.8 242.7h0M914.5 297.5h0M915.6 247.8h0M916.2 296.8h0M916.2 244.9h0M916.7 296.3h0M918.4 239.1h0M917.4 298.6h0M918.0 238.2h0M918.5 298.4h0M920.5 238.4h0M920.6 296.5h0M921.2 239.1h0M921.3 294.1h0M922.2 239.6h0M922.5 294.1h0M923.6 241.9h0M924.0 291.7h0M924.2 242.9h0M924.3 289.9h0M925.4 238.4h0M925.9 291.7h0M927.8 233.9h0M928.0 294.6h0M928.8 234.4h0M927.5 295.0h0M929.9 231.5h0M930.2 298.7h0M930.6 229.8h0M930.7 300.7h0M931.7 233.0h0M931.7 297.5h0M933.3 236.2h0M934.7 293.8h0M934.5 238.2h0M933.6 293.9h0M936.9 252.9h0M935.5 291.9h0M937.0 259.2h0M937.3 292.3h0M938.5 260.0h0M937.7 293.0h0M939.5 262.7h0M940.7 294.5h0M940.5 262.7h0M939.4 294.9h0M942.7 261.7h0M941.8 291.0h0M943.3 261.0h0M943.2 290.8h0M944.0 262.8h0M944.3 289.8h0M946.9 264.5h0M945.4 288.9h0M946.9 265.1h0M946.5 288.2h0M948.3 267.9h0M948.4 288.5h0M948.7 266.9h0M949.2 288.9h0M950.0 265.9h0M949.5 288.8h0M952.0 259.6h0M952.0 288.8h0M952.1 259.3h0M952.8 288.6h0M954.3 254.1h0M953.4 287.0h0M955.9 251.6h0M954.9 286.0h0M956.7 248.7h0M956.3 287.6h0M958.1 243.2h0M957.7 289.1h0M957.9 243.2h0M958.2 289.6h0M960.1 244.9h0M959.8 294.9h0M961.5 246.7h0M962.2 299.1h0M962.3 249.4h0M962.3 299.7h0M963.7 260.6h0M963.6 304.0h0M965.0 262.6h0M964.0 304.8h0M965.3 260.8h0M966.5 305.3h0M967.0 259.1h0M967.2 306.1h0M968.1 260.0h0M967.6 307.7h0M969.7 264.4h0M969.3 310.1h0M971.6 264.7h0M971.3 310.3h0M971.4 256.2h0M972.0 304.4h0M974.1 244.7h0M973.3 298.1h0M973.5 244.0h0M974.5 298.2h0M976.3 241.4h0M975.4 295.8h0M976.6 240.3h0M976.6 294.5h0M978.8 244.1h0M978.1 295.9h0M980.5 251.6h0M980.2 298.6h0M980.0 251.4h0M980.0 298.7h0M981.4 250.4h0M982.5 301.8h0M983.4 250.8h0M982.4 304.7h0M983.3 250.8h0M984.4 307.8h0M984.3 252.6h0M985.3 310.4h0M985.6 256.3h0M985.3 308.2h0M988.0 261.9h0M988.0 304.2h0M990.6 266.1h0M990.8 307.2h0M991.0 267.8h0M991.5 307.9h0M991.8 270.7h0M992.8 309.2h0M993.7 277.8h0M993.3 315.7h0M994.2 277.5h0M994.8 316.7h0M996.7 275.8h0M996.8 306.3h0M997.1 273.8h0M996.8 299.3h0M997.7 272.8h0M998.7 300.6h0M1000.4 270.9h0M999.3 300.5h0M1001.0 270.2h0M999.9 299.8h0M1001.9 266.5h0M1002.6 297.6h0M1004.2 263.5h0M1004.1 295.9h0M1004.2 262.6h0M1004.6 294.2h0M1005.8 260.8h0M1005.9 292.4h0M1007.0 260.8h0M1006.5 291.5h0M1008.6 256.5h0M1008.4 292.5h0M1009.7 254.0h0M1009.0 294.1h0M1010.4 253.8h0M1009.5 294.0h0M1011.5 256.5h0M1011.5 295.9h0M1012.3 255.2h0M1012.9 296.3h0M1014.3 257.5h0M1014.5 306.4h0M1015.2 259.8h0M1015.9 316.2h0M1016.4 260.4h0M1016.5 314.7h0M1018.4 261.5h0M1017.9 307.7h0M1017.5 262.9h0M1017.5 307.2h0M1020.4 270.6h0M1020.0 300.1h0M1021.5 275.0h0M1020.7 297.9h0M1021.7 275.4h0M1022.4 296.2h0M1023.5 275.9h0M1023.1 295.6h0M1023.8 276.1h0M1023.3 296.3h0M1026.7 277.0h0M1025.8 296.3h0M1026.9 278.8h0M1027.1 296.2h0M1028.4 277.9h0M1028.6 297.5h0M1029.7 275.9h0M1029.8 300.5h0M1031.6 276.1h0M1032.9 303.0h0M1032.8 273.9h0M1033.6 304.0h0M1034.4 275.4h0M1033.4 304.2h0M1034.5 277.9h0M1036.0 302.9h0M1036.6 274.6h0M1035.5 302.4h0M1038.2 268.9h0M1037.3 298.7h0M1038.8 267.6h0M1038.6 300.2h0M1039.9 269.9h0M1040.7 301.2h0M1040.7 271.6h0M1041.8 303.7h0M1042.4 271.0h0M1042.0 303.0h0M1044.5 266.1h0M1043.8 299.8h0M1045.1 266.0h0M1044.8 300.6h0M1046.6 264.2h0M1046.3 296.8h0M1046.3 265.4h0M1046.8 296.1h0M1048.8 268.8h0M1047.4 301.0h0M1049.9 274.8h0M1048.7 304.5h0M1050.8 274.3h0M1050.7 304.9h0M1051.8 275.7h0M1052.8 304.4h0M1052.9 276.0h0M1052.2 305.6h0M1053.7 277.0h0M1054.3 311.0h0M1055.1 278.5h0M1056.4 314.6h0M1056.2 279.0h0M1056.7 315.4h0M1058.1 284.9h0M1058.9 312.9h0M1058.1 286.0h0M1058.2 312.7h0M1060.7 285.3h0M1059.9 314.0h0M1061.4 283.9h0M1061.8 316.6h0M1062.0 284.5h0M1062.6 316.7h0M1063.9 284.9h0M1063.7 319.6h0M1064.3 284.8h0M1064.2 320.6h0M1066.8 284.2h0M1065.4 322.4h0M1068.2 284.0h0M1067.9 326.4h0M1067.4 284.2h0M1067.8 326.2h0M1070.4 285.7h0M1069.8 321.5h0M1071.8 287.0h0M1070.9 320.1h0M1072.0 286.1h0M1072.7 319.0h0M1074.8 286.0h0M1074.3 316.5h0M1076.4 284.7h0M1076.3 319.3h0M1076.5 284.3h0M1077.1 322.9h0M1078.9 285.9h0M1077.6 321.7h0M1079.5 289.7h0M1080.3 318.6h0M1080.1 288.2h0M1080.0 318.8h0M1081.9 289.7h0M1081.6 319.6h0M1083.5 290.0h0M1083.3 319.8h0M1084.8 292.9h0M1083.9 325.8h0M1085.2 296.4h0M1085.7 337.0h0M1086.0 297.1h0M1085.9 342.9h0M1086.2 297.5h0M1086.8 356.9h0M1087.1 298.5h0M1088.0 360.9h0M1087.9 298.4h0M1087.5 359.6h0M1089.1 297.8h0M1089.0 358.8h0M1090.0 295.5h0M1090.1 338.6h0M1090.1 294.7h0M1089.9 335.2h0M1091.7 293.9h0M1092.8 331.5h0M1094.1 292.7h0M1093.5 329.0h0M1093.6 292.7h0M1094.4 327.7h0M1096.6 290.1h0M1096.8 325.7h0M1097.0 290.0h0M1095.8 327.0h0M1098.2 289.4h0M1098.7 327.6h0M1099.7 286.7h0M1099.4 328.6h0M1100.5 285.5h0M1100.4 328.7h0M1101.8 281.0h0M1102.0 328.7h0M1103.0 277.6h0M1102.8 329.2h0M1103.6 281.1h0M1104.7 329.5h0M1105.1 291.1h0M1106.1 332.6h0M1105.7 289.9h0M1105.5 331.3h0M1107.5 290.3h0M1107.9 327.2h0M1108.7 290.9h0M1108.1 324.0h0M1110.6 290.6h0M1109.7 323.2h0M1112.7 292.6h0M1112.1 323.1h0M1111.4 292.3h0M1112.1 322.5h0M1114.5 292.9h0M1114.7 317.5h0M1115.7 292.3h0M1115.1 316.9h0M1116.3 290.6h0M1115.7 317.8h0M1117.9 286.4h0M1118.2 320.1h0M1120.4 288.4h0M1119.6 323.4h0M1120.8 290.9h0M1121.9 327.0h0M1122.5 290.5h0M1121.9 322.9h0M1124.9 290.8h0M1124.2 313.7h0M1123.7 290.3h0M1124.5 311.5h0M1126.8 282.9h0M1126.8 307.7h0M1127.5 277.8h0M1127.2 304.4h0M1128.4 275.2h0M1128.0 303.0h0M1129.3 269.5h0M1128.7 300.4h0M1129.8 266.5h0M1130.2 300.2h0M1132.7 253.5h0M1132.8 299.8h0M1131.8 251.6h0M1132.0 299.5h0M1133.9 255.3h0M1134.1 300.6h0M1135.7 260.2h0M1135.4 299.9h0M1136.1 260.1h0M1136.4 299.1h0M1137.8 261.1h0M1137.9 302.2h0M1138.8 262.1h0M1138.2 302.3h0M1140.6 255.1h0M1140.6 300.3h0M1142.3 248.9h0M1141.9 298.0h0M1142.9 245.1h0M1142.0 297.7h0M1143.9 252.3h0M1144.6 298.2h0M1146.5 261.7h0M1145.6 299.8h0M1145.8 261.0h0M1146.1 299.9h0M1147.4 262.6h0M1148.7 301.1h0M1148.1 263.1h0M1149.3 301.4h0M1150.6 268.2h0M1150.5 306.1h0M1152.5 273.8h0M1152.1 312.5h0M1152.5 273.9h0M1152.7 313.0h0M1153.8 277.0h0M1154.1 317.3h0M1155.7 278.5h0M1155.1 320.7h0M1155.5 278.8h0M1156.3 316.9h0M1158.1 277.6h0M1158.5 312.0h0M1157.6 278.1h0M1158.1 312.4h0M1160.1 276.4h0M1159.7 316.1h0M1160.2 275.4h0M1159.9 316.4h0M1162.3 277.9h0M1161.6 317.9h0M1163.1 277.6h0M1163.7 318.3h0M1163.5 280.1h0M1163.5 320.3h0M1166.9 280.5h0M1166.7 320.1h0M1167.9 278.7h0M1167.5 314.5h0M1169.8 277.9h0M1168.5 312.5h0M1170.9 279.9h0M1170.7 311.8h0M1171.6 286.0h0M1171.6 312.2h0M1172.2 287.1h0M1172.0 311.4h0M1174.3 288.5h0M1173.5 312.4h0M1175.0 288.3h0M1176.0 312.1h0M1176.4 288.5h0M1176.5 313.7h0M1177.8 290.3h0M1178.1 316.3h0M1177.9 291.5h0M1178.8 316.5h0M1180.3 292.1h0M1179.9 323.2h0M1182.0 295.0h0M1180.9 328.6h0M1182.7 295.1h0M1181.9 327.8h0M1184.7 295.1h0M1184.7 327.3h0M1185.3 294.7h0M1184.4 326.6h0M1186.1 295.4h0M1185.8 329.9h0M1186.9 298.2h0M1187.9 332.8h0M1188.4 296.2h0M1188.7 332.4h0M1189.9 296.0h0M1190.1 334.5h0M1190.1 296.2h0M1191.1 336.5h0M1191.7 295.3h0M1191.7 335.0h0M1194.2 294.2h0M1194.5 336.9h0M1194.9 294.4h0M1193.9 336.6h0M1195.6 295.8h0M1195.3 337.3h0M1197.0 296.1h0M1197.3 336.5h0M1197.7 296.5h0M1197.3 333.8h0M1199.2 294.0h0M1200.0 328.9h0M1200.4 294.2h0M1199.5 326.8h0M1202.1 290.2h0M1202.8 316.8h0M1202.5 287.1h0M1203.6 312.7h0M1203.8 283.3h0M1204.1 310.5h0M1206.8 279.3h0M1205.3 308.7h0M1208.4 276.2h0M1207.6 306.0h0M1209.6 278.4h0M1208.5 304.3h0M1210.9 276.8h0M1209.5 303.3h0M1212.3 278.1h0M1212.6 301.4h0M1212.3 277.5h0M1211.7 301.1h0M1214.0 277.7h0M1214.3 303.1h0M1215.5 277.5h0M1215.5 304.6h0M1215.4 277.6h0M1216.1 304.6h0M1217.5 275.3h0M1218.0 302.6h0M1220.0 274.0h0M1220.1 303.8h0M1219.8 275.2h0M1219.7 303.8h0M1222.3 277.5h0M1222.0 304.1h0M1222.9 278.8h0M1222.9 304.5h0M1224.0 270.7h0M1223.9 302.4h0M1226.1 263.4h0M1226.0 299.3h0M1225.6 263.8h0M1225.6 300.3h0M1227.5 265.7h0M1228.2 299.4h0M1228.7 265.9h0M1228.8 300.3h0M1229.8 264.5h0M1230.3 298.9h0M1231.1 263.6h0M1231.9 300.3h0M1232.8 263.1h0M1231.6 299.7h0M1233.8 261.6h0M1233.8 298.7h0M1235.0 261.3h0M1234.4 297.0h0M1236.3 261.7h0M1236.9 296.9h0M1237.1 259.7h0M1238.0 296.1h0M1238.8 259.5h0M1238.3 296.5h0M1240.0 261.1h0M1239.1 299.6h0M1240.0 261.4h0M1239.5 299.7h0M1242.8 257.7h0M1242.5 298.6h0M1241.9 257.5h0M1243.0 299.6h0M1244.8 259.5h0M1244.5 301.5h0M1245.4 260.3h0M1246.2 302.6h0M1245.6 259.9h0M1245.8 302.5h0M1247.7 256.1h0M1248.4 300.5h0M1250.4 251.4h0M1250.3 297.5h0M1252.5 256.8h0M1252.5 298.1h0M1253.3 259.2h0M1253.1 300.5h0M1254.5 261.1h0M1254.8 301.4h0M1256.2 265.1h0M1255.7 303.5h0M1256.2 266.2h0M1256.5 304.5h0M1257.7 270.6h0M1257.6 306.6h0M1258.6 274.2h0M1259.2 308.7h0M1260.7 277.4h0M1259.6 311.2h0M1262.1 285.8h0M1262.9 319.3h0M1262.2 286.0h0M1262.5 321.0h0M1263.5 291.0h0M1263.7 322.7h0M1266.3 295.0h0M1265.9 324.0h0M1265.8 294.6h0M1265.7 324.9h0M1267.4 296.7h0M1268.8 332.2h0M1268.2 296.5h0M1268.7 333.3h0M1269.7 297.8h0M1269.4 335.4h0M1271.0 298.0h0M1272.0 337.3h0M1272.3 298.0h0M1272.5 337.7h0M1273.3 298.4h0M1273.7 339.0h0M1274.2 298.0h0M1274.6 341.4h0M1276.9 297.8h0M1275.3 348.4h0M1277.5 296.5h0M1277.0 359.7h0M1277.5 296.9h0M1278.4 358.2h0M1279.8 299.5h0M1280.4 351.7h0M1280.8 300.5h0M1280.7 348.5h0M1282.3 301.3h0M1282.7 346.1h0M1283.7 300.5h0M1283.2 340.6h0M1283.3 300.9h0M1283.9 341.0h0M1285.5 303.0h0M1286.2 338.0h0M1287.7 302.8h0M1287.7 336.9h0M1287.7 301.0h0M1288.0 337.3h0M1290.1 298.0h0M1289.2 337.1h0M1289.6 299.7h0M1290.6 337.2h0M1292.7 302.0h0M1292.5 334.6h0M1293.1 302.4h0M1293.1 332.7h0M1294.5 301.8h0M1294.3 330.3h0M1296.5 300.9h0M1296.4 324.9h0M1296.8 300.9h0M1295.8 324.8h0M1298.3 301.4h0M1297.6 320.3h0M1298.3 300.6h0M1297.7 319.2h0M1299.7 302.8h0M1299.8 321.4h0M1301.1 302.4h0M1301.7 321.7h0M1302.3 301.6h0M1301.9 321.9h0M1304.4 298.6h0M1303.3 319.1h0M1304.0 298.9h0M1304.8 318.6h0M1306.5 296.8h0M1305.3 317.1h0M1307.7 294.0h0M1306.7 316.8h0M1308.3 297.0h0M1308.5 317.7h0M1309.3 303.8h0M1310.1 323.7h0M1310.0 303.5h0M1310.0 324.1h0M1312.2 305.7h0M1311.8 329.1h0M1312.8 308.4h0M1314.2 333.3h0M1313.6 307.3h0M1313.8 332.4h0M1316.0 309.1h0M1315.4 335.9h0M1317.3 309.5h0M1316.3 337.4h0M1318.8 308.5h0M1317.3 343.0h0M1319.7 308.7h0M1320.1 347.2h0M1319.5 308.5h0M1320.0 342.8h0M1322.4 304.1h0M1322.7 331.5h0M1322.5 302.6h0M1322.3 329.2h0M1324.4 300.8h0M1323.4 324.5h0M1325.3 296.0h0M1326.6 319.6h0M1326.0 296.6h0M1325.8 319.4h0M1327.9 293.3h0M1328.0 319.0h0M1329.5 292.1h0M1329.2 318.9h0M1329.3 291.9h0M1330.2 324.1h0M1329.9 292.3h0M1330.4 324.2h0M1331.9 293.5h0M1332.4 320.3h0M1332.9 293.7h0M1332.4 320.0h0M1334.7 294.9h0M1333.4 323.4h0M1335.1 296.7h0M1335.2 326.6h0M1335.8 299.0h0M1336.0 326.2h0M1338.4 303.4h0M1338.5 328.2h0M1338.3 304.1h0M1338.8 328.3h0M1340.6 307.9h0M1339.4 330.4h0M1341.7 309.0h0M1341.2 331.2h0M1342.9 311.1h0M1341.6 333.8h0M1344.6 312.0h0M1344.3 337.2h0M1346.4 313.1h0M1345.6 340.3h0M1346.7 313.9h0M1346.9 340.5h0M1347.4 316.2h0M1348.8 342.1h0M1349.2 317.5h0M1350.4 342.6h0M1349.6 316.6h0M1349.8 341.8h0M1352.3 310.0h0M1352.8 340.3h0M1351.9 308.8h0M1352.5 339.6h0M1354.0 299.9h0M1354.5 324.9h0M1355.3 295.1h0M1355.6 316.1h0M1356.5 290.1h0M1356.7 315.0h0M1358.0 280.1h0M1358.5 309.2h0M1359.9 287.3h0M1360.2 308.1h0M1361.8 289.8h0M1360.9 308.3h0M1362.7 290.7h0M1362.2 311.5h0M1364.2 289.6h0M1363.7 314.7h0M1364.2 289.2h0M1364.9 313.2h0M1366.9 288.4h0M1366.5 315.1h0M1366.6 287.3h0M1366.9 314.7h0M1368.2 287.3h0M1367.8 316.2h0M1369.9 287.9h0M1368.9 316.0h0M1370.7 287.3h0M1370.7 317.2h0M1371.4 289.1h0M1371.4 319.0h0M1372.4 288.5h0M1371.7 317.9h0M1374.4 283.1h0M1374.0 315.4h0M1375.9 278.9h0M1375.5 310.6h0M1376.4 278.1h0M1375.5 310.7h0M1378.6 282.1h0M1377.7 310.8h0M1379.4 283.3h0M1378.3 311.6h0M1379.5 282.1h0M1379.9 311.2h0M1381.0 281.9h0M1382.2 310.6h0M1382.7 281.9h0M1382.1 312.1h0M1384.5 282.0h0M1384.0 316.5h0M1384.9 281.8h0M1384.6 315.2h0M1386.2 283.2h0M1386.9 319.5h0M1386.9 282.8h0M1386.8 320.2h0M1387.4 283.1h0M1388.1 320.8h0M1390.7 284.5h0M1389.3 322.5h0M1389.9 285.1h0M1390.5 322.6h0M1392.4 285.5h0M1392.6 322.8h0M1393.3 286.3h0M1393.3 322.4h0M1394.1 286.1h0M1394.9 321.4h0M1396.5 284.9h0M1396.2 317.6h0M1396.6 285.0h0M1395.8 317.3h0M1398.7 285.7h0M1398.1 318.1h0M1398.8 287.5h0M1400.2 318.9h0M1400.8 289.6h0M1400.1 317.8h0M1401.4 297.5h0M1402.3 321.0h0M1402.4 298.3h0M1401.6 321.0h0M1403.4 296.9h0M1403.4 322.2h0M1404.5 297.3h0M1404.8 323.3h0M1406.8 297.9h0M1405.4 325.4h0M1407.3 299.2h0M1408.6 329.7h0M1408.9 298.0h0M1407.6 328.2h0M1410.4 289.9h0M1409.4 327.0h0M1410.9 287.4h0M1410.3 326.4h0M1411.8 283.1h0M1412.3 321.9h0M1414.1 278.6h0M1413.3 317.1h0M1414.3 277.5h0M1413.7 316.2h0M1416.1 272.9h0M1416.2 314.6h0M1417.7 271.0h0M1416.7 312.0h0M1418.6 271.5h0M1417.7 313.9h0M1420.7 274.5h0M1419.5 313.9h0M1421.7 275.7h0M1422.1 316.5h0M1423.4 276.6h0M1423.3 316.8h0M1424.7 276.3h0M1423.7 318.2h0M1425.6 276.7h0M1425.9 320.3h0M1426.9 276.3h0M1426.7 320.8h0M1427.5 276.4h0M1428.3 318.0h0M1429.2 275.1h0M1429.4 317.1h0M1429.8 276.7h0M1430.6 318.5h0M1431.7 283.4h0M1431.8 325.9h0M1432.4 284.4h0M1432.3 328.4h0M1433.7 287.6h0M1434.5 331.9h0M1434.8 289.4h0M1434.8 336.0h0M1436.5 289.3h0M1435.9 334.0h0M1437.4 289.2h0M1437.3 331.4h0M1437.8 291.0h0M1438.0 331.4h0M1440.7 291.5h0M1439.5 328.5h0M1441.3 292.3h0M1440.2 327.8h0M1442.3 294.5h0M1442.5 327.6h0M1443.1 297.6h0M1443.7 328.2h0M1444.6 297.9h0M1444.2 329.0h0M1446.4 300.1h0M1445.4 331.1h0M1446.1 301.3h0M1447.0 331.9h0M1448.6 301.0h0M1447.9 341.5h0M1449.2 300.4h0M1448.6 346.6h0M1450.1 302.3h0M1450.0 359.9h0M1451.7 304.6h0M1451.4 372.9h0M1451.9 306.9h0M1452.2 379.5h0M1453.6 311.5h0M1453.6 389.7h0M1453.7 311.3h0M1453.5 390.2h0M1456.4 321.2h0M1456.5 391.6h0M1456.6 323.1h0M1456.3 391.3h0M1458.1 319.9h0M1458.0 391.1h0M1457.8 319.7h0M1457.7 391.9h0M1459.7 319.6h0M1459.4 391.1h0M1461.7 319.1h0M1461.1 391.9h0M1462.6 320.8h0M1462.2 392.4h0M1463.9 319.7h0M1463.6 392.1h0" stroke="#1f77b4" style="stroke-width:5.56px;stroke-linecap:round"/><path d="M147.3 224.0h0M147.3 229.2h0M147.3 242.5h0M147.3 251.7h0M122.3 246.6h0M215.5 247.6h0M215.5 256.2h0M211.4 261.5h0M199.1 369.4h0M179.6 364.3h0M142.8 357.1h0M165.3 377.6h0M235.3 360.2h0M235.3 355.1h0M256.4 408.3h0M174.5 270.1h0M184.7 277.3h0M161.2 280.3h0M200.1 283.4h0M316.3 60.3h0M316.3 71.3h0M316.3 97.3h0M316.3 110.0h0M305.5 142.4h0M305.5 168.4h0M305.5 180.5h0M421.2 134.2h0M421.2 144.4h0M442.3 236.6h0M457.0 249.0h0M331.7 495.5h0M331.7 487.3h0M363.8 487.3h0M363.8 492.4h0M346.4 462.7h0M373.0 439.2h0M373.0 428.0h0M295.2 462.7h0M395.6 352.0h0M461.0 374.7h0M448.8 350.0h0M355.7 393.0h0M355.7 398.0h0M338.7 160.0h0M338.7 166.0h0M338.7 172.0h0M338.7 178.0h0M338.7 184.0h0M338.7 190.0h0M338.7 196.0h0M338.7 202.0h0M338.7 208.0h0M338.7 214.0h0M338.7 220.0h0M338.7 226.0h0M338.7 232.0h0M338.7 238.0h0M338.7 244.0h0M338.7 250.0h0M338.7 256.0h0M338.7 262.0h0M338.7 268.0h0M331.7 469.0h0M331.7 474.0h0M331.7 479.0h0M331.7 484.0h0M363.8 476.0h0M363.8 481.0h0M612.0 67.2h0M587.4 152.6h0M587.4 170.0h0M587.4 182.3h0M500.3 144.4h0M500.3 150.6h0M605.4 156.7h0M630.0 377.1h0M630.0 363.8h0M540.3 382.3h0M561.4 393.5h0M531.7 341.3h0M578.8 318.8h0M606.4 341.3h0M462.0 374.1h0M471.3 265.3h0M520.4 158.8h0M515.3 162.3h0M547.0 261.2h0M637.1 187.5h0M566.5 197.7h0M642.2 162.1h0M771.2 127.2h0M771.2 144.0h0M741.1 156.9h0M782.5 278.2h0M782.5 288.4h0M782.5 297.6h0M642.2 343.9h0M678.0 356.2h0M697.5 334.7h0M714.3 312.6h0M732.3 307.4h0M752.1 317.3h0M768.1 342.5h0M787.6 410.5h0M807.0 367.5h0M801.3 239.5h0M729.2 189.1h0M637.0 187.0h0M663.7 184.0h0M771.2 165.5h0M771.2 177.8h0M822.3 146.1h0M822.3 150.2h0M891.3 360.3h0M888.8 352.1h0M847.3 347.0h0M901.1 334.7h0M912.4 232.1h0M844.8 244.4h0M810.0 367.5h0M1142.3 229.6h0M1142.3 234.7h0M1132.5 248.1h0M1076.7 328.3h0M1121.2 330.0h0M1156.0 323.8h0M1017.4 323.8h0M1087.8 344.3h0M1087.8 350.5h0M1087.8 356.6h0M1077.6 323.8h0M1242.3 239.5h0M1242.3 247.0h0M1250.7 248.5h0M1307.0 274.7h0M1307.0 278.8h0M1307.0 288.0h0M1319.3 357.6h0M1319.3 362.7h0M1283.9 357.6h0M1283.9 361.7h0M1196.2 349.4h0M1166.1 332.0h0M1332.0 278.8h0M1332.0 283.9h0M1277.3 289.0h0M1174.3 278.8h0M1226.6 260.3h0M1342.2 236.6h0M1342.2 250.3h0M1342.2 276.0h0M1342.2 281.1h0M1376.0 251.0h0M1376.0 261.0h0M1384.4 258.2h0M1384.4 264.7h0M1384.4 272.2h0M1459.5 402.3h0M1348.8 297.6h0M1332.8 278.8h0" stroke="#1f77b4" style="stroke-width:5.56px;stroke-linecap:round"/><path d="M116.1 323.4C116.5 318.6 117.6 301.3 118.2 294.7C118.8 288.1 119.2 286.6 119.7 283.9C120.2 281.2 120.7 279.0 121.3 278.3C121.9 277.6 122.6 279.7 123.3 279.5C124.0 279.4 124.8 276.7 125.4 277.3C126.0 277.9 126.4 281.6 126.9 283.1C127.4 284.7 127.9 284.6 128.4 286.5C128.9 288.4 129.5 291.7 130.0 294.4C130.5 297.2 131.0 299.4 131.5 302.9C132.0 306.4 132.5 311.7 133.0 315.5C133.6 319.2 134.1 322.7 134.6 325.4C135.1 328.1 135.6 330.9 136.1 331.6C136.6 332.3 137.1 330.3 137.6 329.5C138.2 328.7 138.7 328.0 139.2 327.0C139.7 325.9 140.1 323.6 140.7 323.4C141.3 323.1 142.2 326.4 142.8 325.4C143.4 324.4 143.8 321.0 144.3 317.2C144.8 313.5 145.2 306.0 145.8 302.9C146.4 299.8 147.3 300.2 147.9 298.8C148.5 297.3 148.9 295.5 149.4 294.2C149.9 292.8 150.4 289.7 151.0 290.6C151.5 291.5 152.0 296.3 152.5 299.7C153.0 303.1 153.5 308.7 154.0 311.1C154.5 313.4 155.1 313.6 155.6 313.9C156.1 314.2 156.5 314.2 157.1 313.1C157.7 312.1 158.5 308.3 159.2 307.6C159.8 306.9 160.6 305.3 161.2 309.0C161.8 312.8 162.2 323.7 162.7 330.2C163.2 336.7 163.7 346.3 164.3 347.9C164.9 349.5 165.7 343.5 166.3 339.7C166.9 336.0 167.3 330.2 167.9 325.4C168.4 320.6 168.9 313.9 169.4 311.1C169.9 308.3 170.4 309.2 170.9 308.7C171.4 308.2 171.9 308.5 172.5 308.0C173.0 307.5 173.5 306.4 174.0 305.6C174.5 304.7 175.0 300.6 175.5 302.9C176.0 305.2 176.6 314.0 177.1 319.5C177.6 324.9 178.1 334.4 178.6 335.6C179.1 336.8 179.6 330.4 180.1 326.6C180.7 322.9 181.2 316.0 181.7 313.1C182.2 310.3 182.7 311.2 183.2 309.5C183.7 307.8 184.2 302.9 184.7 302.9C185.3 302.9 185.8 307.3 186.3 309.4C186.8 311.4 187.3 314.6 187.8 315.2C188.3 315.7 188.8 313.4 189.4 312.7C189.9 312.0 190.4 310.9 190.9 311.1C191.4 311.2 191.9 312.1 192.4 313.5C192.9 314.8 193.5 317.9 194.0 319.3C194.5 320.6 195.0 321.0 195.5 321.7C196.0 322.3 196.5 324.0 197.0 323.4C197.5 322.7 198.1 318.0 198.6 317.7C199.1 317.4 199.6 320.2 200.1 321.3C200.6 322.4 201.1 323.7 201.6 324.1C202.2 324.4 202.7 325.4 203.2 323.4C203.7 321.4 204.2 315.8 204.7 312.1C205.2 308.3 205.7 304.1 206.3 300.8C206.8 297.6 207.3 294.4 207.8 292.7C208.3 291.0 208.7 292.3 209.3 290.6C209.9 288.9 210.7 283.6 211.4 282.4C212.1 281.2 212.7 283.4 213.4 283.4C214.1 283.4 214.9 280.8 215.5 282.4C216.1 284.0 216.5 289.0 217.0 293.1C217.5 297.2 218.0 305.5 218.5 307.0C219.1 308.5 219.6 303.4 220.1 302.0C220.6 300.7 221.1 298.8 221.6 298.8C222.1 298.7 222.6 299.7 223.1 301.7C223.7 303.8 224.2 310.6 224.7 311.1C225.2 311.5 225.7 306.3 226.2 304.6C226.7 302.9 227.2 301.9 227.8 300.8C228.3 299.7 228.8 299.1 229.3 298.0C229.8 297.0 230.3 294.1 230.8 294.7C231.3 295.3 231.9 299.3 232.4 301.7C232.9 304.1 233.4 306.9 233.9 309.0C234.4 311.2 234.9 313.0 235.4 314.7C235.9 316.4 236.5 320.8 237.0 319.3C237.5 317.8 238.0 309.8 238.5 305.7C239.0 301.6 239.5 297.5 240.0 294.7C240.6 291.8 241.1 290.9 241.6 288.5C242.1 286.1 242.6 281.8 243.1 280.3C243.6 278.9 244.1 279.0 244.7 279.7C245.2 280.4 245.7 282.5 246.2 284.4C246.7 286.4 247.2 288.9 247.7 291.6C248.2 294.3 248.7 297.2 249.3 300.8C249.8 304.5 250.3 307.7 250.8 313.5C251.3 319.3 251.8 330.0 252.3 335.6C252.8 341.3 253.4 343.3 253.9 347.4C254.4 351.5 254.9 357.2 255.4 360.2C255.9 363.2 256.4 363.3 256.9 365.4C257.5 367.4 258.0 374.6 258.5 372.5C259.0 370.4 259.5 359.2 260.0 352.7C260.5 346.2 261.0 335.8 261.5 333.6C262.1 331.4 262.6 338.0 263.1 339.7C263.6 341.4 264.0 348.6 264.6 343.8C265.2 339.1 266.1 314.1 266.7 311.1C267.3 308.0 267.7 321.6 268.2 325.7C268.7 329.8 269.1 336.0 269.7 335.6C270.3 335.2 271.1 326.7 271.8 323.3C272.5 319.8 273.2 315.6 273.8 315.2C274.4 314.8 274.9 318.8 275.4 320.9C275.9 322.9 276.4 325.6 276.9 327.5C277.4 329.3 277.9 329.4 278.4 332.1C279.0 334.8 279.5 343.7 280.0 343.8C280.5 343.9 281.0 337.5 281.5 332.8C282.0 328.0 282.5 317.4 283.0 315.2C283.6 312.9 284.3 314.7 285.0 319.4C285.7 324.1 286.4 336.0 287.1 343.2C287.7 350.4 288.4 356.0 289.1 362.4C289.8 368.8 290.5 375.5 291.1 381.7C291.8 387.8 292.6 395.8 293.2 399.3C293.8 402.8 294.2 402.1 294.8 402.5C295.3 402.8 295.7 409.7 296.3 401.3C296.9 392.9 297.7 365.3 298.3 352.2C298.9 339.1 299.3 333.2 299.9 323.0C300.4 312.7 300.9 298.3 301.4 290.7C301.9 283.1 302.4 281.3 302.9 277.2C303.5 273.1 304.0 266.2 304.5 266.1C305.0 266.0 305.5 273.5 306.0 276.6C306.5 279.7 306.9 289.9 307.5 284.6C308.1 279.3 308.9 254.5 309.6 244.8C310.3 235.1 310.8 233.2 311.5 226.4C312.1 219.6 312.7 206.5 313.3 203.8C313.9 201.1 314.3 208.7 314.8 210.4C315.3 212.1 315.6 208.0 316.3 214.1C317.0 220.2 318.1 237.8 318.8 246.8C319.6 255.8 320.2 261.1 320.8 268.2C321.4 275.3 321.8 282.4 322.4 289.5C322.9 296.7 323.3 303.2 323.9 311.2C324.5 319.2 325.4 329.7 326.0 337.8C326.6 345.9 327.0 352.1 327.5 359.7C328.0 367.2 328.3 372.2 329.0 382.9C329.7 393.6 330.8 429.6 331.7 423.8C332.6 418.0 333.4 367.2 334.2 348.1C334.9 329.0 335.4 322.5 336.2 309.2C336.9 295.9 337.8 267.5 338.7 268.2C339.6 268.9 340.6 300.0 341.3 313.2C342.0 326.4 342.3 337.3 342.9 347.2C343.4 357.1 343.8 380.3 344.4 372.6C345.0 364.9 345.8 312.2 346.4 301.0C347.0 289.8 347.4 304.2 347.9 305.6C348.5 307.0 349.0 307.8 349.5 309.2C350.0 310.6 350.5 312.9 351.1 314.2C351.6 315.6 352.1 316.2 352.6 317.3C353.1 318.4 353.6 318.9 354.1 320.9C354.7 323.0 355.2 330.8 355.7 329.6C356.2 328.4 356.7 319.2 357.2 313.4C357.7 307.6 358.2 298.9 358.7 294.8C359.2 290.7 359.8 267.9 360.4 288.7C361.0 309.5 361.6 415.3 362.4 419.7C363.1 424.1 364.2 332.1 364.9 315.3C365.6 298.5 365.9 317.8 366.4 318.8C366.9 319.8 367.4 320.7 367.9 321.4C368.4 322.1 368.8 321.9 369.2 322.9C369.7 324.0 370.0 322.4 370.6 327.6C371.2 332.8 371.9 357.6 372.7 354.2C373.4 350.8 374.4 312.9 375.1 307.1C375.8 301.3 376.1 316.3 376.6 319.7C377.2 323.1 377.7 327.6 378.2 327.6C378.7 327.6 379.2 322.1 379.8 319.4C380.3 316.7 380.8 313.2 381.3 311.2C381.8 309.2 382.3 309.0 382.8 307.3C383.3 305.6 383.8 302.8 384.3 301.0C384.8 299.2 385.3 298.4 385.9 296.7C386.4 295.0 386.8 292.4 387.4 290.7C388.0 289.0 388.8 287.4 389.4 286.4C390.1 285.4 390.9 285.4 391.5 284.6C392.1 283.8 392.6 282.4 393.2 281.7C393.8 281.0 394.3 281.5 394.9 280.2C395.5 279.0 395.9 275.4 396.6 274.3C397.3 273.2 398.1 273.0 398.9 273.4C399.6 273.7 400.5 276.3 401.1 276.4C401.7 276.5 402.1 274.3 402.7 273.8C403.2 273.3 403.7 273.3 404.2 273.4C404.8 273.4 405.3 272.7 405.8 274.3C406.3 275.9 406.8 280.4 407.4 282.8C407.9 285.2 408.4 287.2 408.9 288.7C409.4 290.2 409.9 290.6 410.4 292.0C411.0 293.3 411.4 300.8 412.0 296.9C412.6 293.0 413.4 278.0 414.1 268.3C414.7 258.6 415.4 245.9 416.1 238.6C416.8 231.3 417.5 229.4 418.1 224.3C418.7 219.2 419.1 214.1 419.6 208.0C420.2 201.8 420.7 186.5 421.2 187.5C421.7 188.5 422.2 204.6 422.8 214.1C423.3 223.7 423.7 242.9 424.3 244.8C424.9 246.7 425.7 232.8 426.4 225.5C427.0 218.1 427.8 199.5 428.4 200.8C429.0 202.1 429.4 222.4 429.9 233.1C430.4 243.9 430.9 258.9 431.4 265.3C431.9 271.7 432.4 269.3 432.9 271.5C433.5 273.7 433.9 276.5 434.5 278.4C435.1 280.3 435.9 282.5 436.6 283.2C437.2 283.9 438.0 282.1 438.6 282.5C439.2 282.9 439.6 284.7 440.1 285.4C440.7 286.1 441.2 285.6 441.7 286.6C442.2 287.6 442.7 289.0 443.2 291.4C443.7 293.8 444.1 299.1 444.7 301.0C445.3 302.9 446.1 302.3 446.8 302.9C447.4 303.6 448.1 306.2 448.8 305.1C449.5 304.0 450.2 298.9 450.9 296.5C451.5 294.1 452.2 291.4 452.9 290.7C453.6 290.0 454.3 291.9 454.9 292.2C455.6 292.6 456.4 289.0 457.0 292.8C457.6 296.6 458.0 307.5 458.5 315.2C459.0 323.0 459.4 336.9 460.0 339.3C460.6 341.7 461.4 332.5 462.1 329.4C462.7 326.4 463.4 323.7 464.1 320.8C464.8 317.9 465.5 315.7 466.1 312.3C466.8 308.9 467.6 302.6 468.2 300.3C468.8 298.0 469.2 297.9 469.8 298.3C470.3 298.6 470.8 299.1 471.3 302.4C471.8 305.7 472.3 313.1 472.8 318.3C473.3 323.4 473.8 334.1 474.3 333.1C474.8 332.1 475.3 319.0 475.9 312.2C476.4 305.4 476.9 297.9 477.4 292.2C477.9 286.5 478.4 283.1 478.9 278.3C479.5 273.4 480.0 269.1 480.5 263.2C481.0 257.3 481.5 248.4 482.1 243.1C482.6 237.8 483.1 232.8 483.6 231.5C484.1 230.2 484.6 233.5 485.1 235.4C485.6 237.2 486.1 239.5 486.6 242.7C487.1 245.9 487.6 250.3 488.1 254.4C488.7 258.6 489.2 263.9 489.7 267.6C490.2 271.3 490.7 274.7 491.2 276.7C491.8 278.8 492.3 280.3 492.8 279.9C493.3 279.5 493.8 275.6 494.3 274.5C494.8 273.5 495.1 288.6 495.8 273.7C496.5 258.8 497.6 197.4 498.5 185.4C499.4 173.4 500.3 198.0 501.0 201.8C501.7 205.6 502.0 205.2 502.5 208.0C503.0 210.7 503.5 215.2 504.0 218.2C504.5 221.2 505.0 223.3 505.6 226.1C506.1 228.8 506.5 232.2 507.1 234.6C507.7 237.0 508.5 238.6 509.1 240.3C509.8 242.0 510.5 245.4 511.2 244.8C511.9 244.2 512.6 238.9 513.2 236.5C513.9 234.2 514.6 233.5 515.3 230.5C516.0 227.5 516.7 222.5 517.3 218.4C518.0 214.3 518.7 207.3 519.4 205.9C520.1 204.5 520.8 207.7 521.5 210.1C522.1 212.5 522.8 215.4 523.5 220.2C524.2 225.0 524.9 233.6 525.5 238.7C526.2 243.9 526.9 248.4 527.6 251.2C528.3 254.0 529.0 254.0 529.7 255.7C530.3 257.4 531.0 259.0 531.7 261.4C532.4 263.8 533.1 267.1 533.8 269.8C534.4 272.6 535.2 273.6 535.8 277.8C536.4 282.0 536.8 290.9 537.3 295.0C537.8 299.1 538.3 298.9 538.8 302.4C539.3 305.9 539.8 311.0 540.3 315.7C540.9 320.5 541.3 330.5 541.9 331.1C542.5 331.7 543.3 322.7 544.0 319.6C544.6 316.5 545.3 313.5 546.0 312.6C546.7 311.7 547.4 312.9 548.0 313.9C548.7 315.0 549.4 317.5 550.1 318.8C550.8 320.1 551.5 321.8 552.2 321.8C552.8 321.8 553.6 319.0 554.2 318.8C554.8 318.6 555.2 319.8 555.8 320.5C556.3 321.2 556.8 320.0 557.3 322.9C557.8 325.8 558.3 332.4 558.8 337.8C559.3 343.3 559.8 357.1 560.3 355.6C560.8 354.1 561.3 337.8 561.8 328.9C562.4 320.1 562.8 317.1 563.4 302.4C564.0 287.7 564.9 250.6 565.5 241.0C566.1 231.4 566.5 243.6 567.0 245.0C567.5 246.4 568.0 246.8 568.5 249.2C569.0 251.6 569.5 256.4 570.0 259.2C570.6 261.9 571.1 264.9 571.6 265.5C572.1 266.1 572.6 264.1 573.2 262.7C573.7 261.3 574.2 256.7 574.7 257.3C575.2 257.9 575.7 263.4 576.2 266.2C576.8 268.9 577.3 272.0 577.8 273.7C578.3 275.4 578.8 275.9 579.3 276.6C579.8 277.3 580.3 277.5 580.8 277.8C581.3 278.1 581.8 277.7 582.3 278.4C582.9 279.1 583.3 285.8 583.9 281.9C584.5 278.0 585.1 263.3 585.6 255.1C586.2 246.9 586.8 234.0 587.4 232.8C588.0 231.6 588.6 243.1 589.2 247.8C589.9 252.6 590.5 256.4 591.1 261.4C591.7 266.4 592.1 272.6 592.6 277.7C593.1 282.9 593.6 287.5 594.1 292.2C594.6 296.9 595.1 301.4 595.7 305.8C596.2 310.2 596.7 318.3 597.2 318.8C597.7 319.3 598.2 312.5 598.8 309.1C599.3 305.7 599.7 308.6 600.3 298.3C600.9 288.0 601.7 254.3 602.3 247.1C602.9 239.9 603.3 253.0 603.8 255.4C604.4 257.8 604.9 265.2 605.4 261.4C605.9 257.6 606.4 241.5 607.0 232.6C607.5 223.7 608.0 216.2 608.5 207.9C609.0 199.6 609.5 190.9 610.0 182.7C610.5 174.6 611.0 165.3 611.5 158.8C612.0 152.3 612.5 148.4 613.0 143.9C613.6 139.5 614.1 133.5 614.6 132.2C615.1 130.9 615.6 133.6 616.2 136.0C616.7 138.4 617.2 146.1 617.7 146.5C618.2 146.9 618.7 141.3 619.2 138.3C619.8 135.2 620.2 128.8 620.8 128.1C621.4 127.4 622.1 121.6 622.8 134.2C623.5 146.8 624.2 179.9 624.9 203.8C625.6 227.7 626.3 263.8 626.9 277.8C627.5 291.8 627.9 284.2 628.5 287.6C629.0 291.1 629.5 300.2 630.0 298.3C630.5 296.4 631.0 284.0 631.5 276.5C632.0 269.0 632.4 258.0 633.0 253.2C633.6 248.4 634.3 247.2 635.0 247.5C635.7 247.8 636.4 252.7 637.0 254.7C637.7 256.8 638.4 259.5 639.1 259.7C639.8 259.9 640.5 256.7 641.2 256.0C641.8 255.3 642.5 253.7 643.2 255.6C643.9 257.5 644.6 264.5 645.2 267.6C645.9 270.6 646.6 275.7 647.3 274.1C648.0 272.5 648.7 263.7 649.3 258.2C650.0 252.8 650.7 240.2 651.4 241.3C652.1 242.4 652.8 257.5 653.5 264.6C654.1 271.8 654.9 281.9 655.5 284.3C656.1 286.7 656.5 281.9 657.0 279.2C657.6 276.4 658.1 272.6 658.6 267.9C659.1 263.2 659.6 256.1 660.1 250.7C660.6 245.2 661.1 237.1 661.6 235.2C662.1 233.3 662.6 237.5 663.2 239.2C663.7 240.9 664.2 244.1 664.7 245.4C665.2 246.7 665.7 246.4 666.2 246.8C666.8 247.1 667.3 244.8 667.8 247.5C668.3 250.2 668.8 258.4 669.3 262.8C669.8 267.2 670.3 270.2 670.8 274.1C671.3 278.0 671.8 283.0 672.3 286.4C672.9 289.8 673.4 292.5 673.9 294.6C674.4 296.7 674.9 296.5 675.5 299.2C676.0 301.9 676.5 310.4 677.0 310.9C677.5 311.4 678.0 306.0 678.5 302.2C679.1 298.5 679.5 292.4 680.1 288.4C680.7 284.4 681.5 281.5 682.2 278.4C682.8 275.3 683.5 272.1 684.2 270.0C684.9 267.9 685.5 267.5 686.2 265.7C686.9 264.0 687.5 260.9 688.2 259.7C688.9 258.5 689.6 258.0 690.2 258.4C690.9 258.7 691.6 260.0 692.3 261.8C693.0 263.6 693.7 266.3 694.3 269.4C695.0 272.5 695.7 279.5 696.4 280.2C697.1 280.9 697.8 276.1 698.5 273.7C699.1 271.3 699.9 270.4 700.5 265.9C701.1 261.4 701.7 252.0 702.2 247.0C702.8 242.0 703.4 240.7 704.0 236.0C704.5 231.3 705.1 221.1 705.7 218.8C706.3 216.5 707.0 220.6 707.7 221.9C708.4 223.3 709.0 224.7 709.7 227.0C710.4 229.3 711.1 233.0 711.8 235.7C712.4 238.4 713.1 243.1 713.8 243.4C714.5 243.7 715.2 239.6 715.8 237.5C716.5 235.5 717.2 235.5 717.9 231.1C718.6 226.7 719.3 217.5 720.0 211.2C720.6 204.8 721.4 193.0 722.0 193.2C722.6 193.4 723.0 206.8 723.5 212.5C724.1 218.1 724.5 222.5 725.1 227.0C725.7 231.5 726.5 236.7 727.2 239.4C727.8 242.1 728.6 240.8 729.2 243.4C729.8 246.0 730.2 251.3 730.8 254.7C731.3 258.1 731.8 266.6 732.3 263.8C732.8 261.0 733.3 245.7 733.8 238.2C734.3 230.7 734.7 221.3 735.3 218.8C735.9 216.3 736.7 221.8 737.3 223.1C738.0 224.5 738.7 223.5 739.4 227.0C740.1 230.5 740.8 238.2 741.5 244.0C742.1 249.8 742.9 260.6 743.5 261.8C744.1 263.0 744.5 255.2 745.0 251.1C745.6 247.0 746.1 239.3 746.6 237.2C747.1 235.1 747.6 238.0 748.2 238.4C748.7 238.7 749.2 235.8 749.7 239.3C750.2 242.8 750.7 254.1 751.2 259.5C751.8 265.0 752.3 271.1 752.8 272.0C753.3 272.9 753.8 267.8 754.3 265.0C754.8 262.3 755.3 258.0 755.8 255.6C756.3 253.2 756.8 252.6 757.3 250.6C757.9 248.5 758.4 242.5 758.9 243.4C759.4 244.3 759.9 251.6 760.5 256.1C761.0 260.5 761.5 265.7 762.0 270.0C762.5 274.3 763.0 277.3 763.5 281.7C764.0 286.1 764.5 294.0 765.0 296.6C765.5 299.2 766.0 296.8 766.5 297.0C767.1 297.2 767.6 302.7 768.1 297.8C768.6 292.9 769.1 277.6 769.7 267.4C770.2 257.1 770.7 237.2 771.2 236.2C771.7 235.2 772.2 253.1 772.8 261.1C773.3 269.1 773.7 275.5 774.3 284.3C774.9 293.1 775.7 304.2 776.3 314.0C777.0 323.7 777.7 337.8 778.4 342.9C779.1 348.0 779.8 343.8 780.5 344.4C781.1 345.1 781.9 345.2 782.5 347.0C783.1 348.8 783.6 352.7 784.2 355.3C784.8 357.8 785.3 359.8 785.9 362.5C786.5 365.2 787.0 371.0 787.6 371.5C788.2 372.0 789.0 367.0 789.7 365.7C790.3 364.3 791.0 365.1 791.7 363.4C792.4 361.7 793.1 357.7 793.8 355.7C794.4 353.6 795.2 353.1 795.8 351.1C796.4 349.1 796.8 346.5 797.3 343.8C797.8 341.1 798.3 339.4 798.8 334.7C799.3 330.0 799.8 322.3 800.3 315.5C800.9 308.7 801.4 295.5 801.9 293.7C802.4 291.9 802.9 300.8 803.5 304.6C804.0 308.4 804.5 317.0 805.0 316.3C805.5 315.6 806.0 305.8 806.5 300.7C807.0 295.5 807.4 292.3 808.0 285.5C808.6 278.7 809.4 263.3 810.0 259.7C810.6 256.1 811.0 262.7 811.5 263.8C812.1 264.8 812.6 266.8 813.1 265.9C813.6 265.0 814.1 260.9 814.6 258.5C815.1 256.1 815.6 254.1 816.1 251.5C816.6 248.9 817.1 247.6 817.7 242.9C818.2 238.1 818.5 229.8 819.2 222.9C819.9 216.0 821.0 192.5 821.9 201.4C822.8 210.3 823.6 263.3 824.3 276.1C825.0 288.9 825.3 277.7 825.8 278.4C826.4 279.1 826.9 279.2 827.4 280.2C827.9 281.2 828.4 282.7 829.0 284.4C829.5 286.1 830.0 292.9 830.5 290.5C831.0 288.1 831.5 275.6 832.0 269.8C832.6 264.0 833.1 257.2 833.6 255.6C834.1 254.0 834.6 258.7 835.1 260.1C835.6 261.4 836.1 261.2 836.6 263.8C837.1 266.4 837.6 272.5 838.2 275.9C838.7 279.3 839.2 283.4 839.7 284.3C840.2 285.2 840.7 282.2 841.2 281.1C841.8 280.1 842.2 278.4 842.8 278.2C843.4 278.0 844.0 276.1 844.8 280.2C845.5 284.3 846.4 306.1 847.3 302.7C848.1 299.3 849.2 267.9 849.9 259.7C850.6 251.5 850.9 256.5 851.5 253.8C852.0 251.1 852.4 246.8 853.0 243.4C853.6 240.0 854.5 231.1 855.1 233.1C855.7 235.1 856.1 247.7 856.6 255.6C857.1 263.4 857.6 278.7 858.1 280.2C858.6 281.7 859.1 269.8 859.7 264.7C860.2 259.6 860.5 249.0 861.2 249.5C861.9 250.0 862.9 263.8 863.7 267.9C864.6 272.0 865.6 272.8 866.3 274.1C867.0 275.4 867.3 275.1 867.8 275.8C868.4 276.5 868.9 278.4 869.4 278.2C869.9 278.0 870.4 275.5 871.0 274.8C871.5 274.1 872.0 274.2 872.5 274.1C873.0 274.0 873.5 273.5 874.0 274.5C874.5 275.5 874.9 280.4 875.5 280.2C876.1 280.0 876.9 275.1 877.5 273.4C878.2 271.7 879.0 270.3 879.6 270.0C880.2 269.7 880.6 270.0 881.2 271.7C881.7 273.4 882.2 278.2 882.7 280.2C883.2 282.2 883.7 282.9 884.2 283.6C884.8 284.3 885.3 281.3 885.8 284.3C886.3 287.3 886.8 295.6 887.3 301.4C887.8 307.2 888.3 317.5 888.8 319.1C889.3 320.7 889.8 313.4 890.3 310.7C890.9 308.0 891.4 307.6 891.9 302.7C892.4 297.8 892.9 288.0 893.5 281.2C894.0 274.4 894.5 262.9 895.0 261.8C895.5 260.7 896.0 271.0 896.5 274.8C897.1 278.5 897.6 281.9 898.1 284.3C898.6 286.7 899.1 286.9 899.6 288.9C900.1 291.0 900.6 295.2 901.1 296.6C901.6 298.0 902.1 298.3 902.7 297.6C903.2 296.9 903.7 293.4 904.2 292.5C904.7 291.6 905.2 293.1 905.8 292.4C906.3 291.7 906.8 290.5 907.3 288.4C907.8 286.3 908.3 282.4 908.8 280.0C909.3 277.6 909.7 274.1 910.3 274.1C910.9 274.1 911.8 278.9 912.4 280.2C913.0 281.5 913.4 281.2 914.0 281.9C914.5 282.6 915.0 284.2 915.5 284.3C916.0 284.4 916.5 283.4 917.0 282.4C917.5 281.4 918.0 279.2 918.5 278.2C919.0 277.2 919.5 277.7 920.0 276.4C920.6 275.0 921.1 271.5 921.6 270.0C922.1 268.5 922.6 267.9 923.2 267.5C923.7 267.2 924.2 267.3 924.7 267.9C925.2 268.5 925.7 269.7 926.2 271.1C926.8 272.5 927.3 277.1 927.8 276.1C928.3 275.1 928.9 270.4 929.5 265.3C930.1 260.1 930.5 246.7 931.2 245.4C931.9 244.1 933.2 254.2 933.9 257.7C934.6 261.2 934.9 264.1 935.5 266.5C936.0 268.9 936.5 270.1 937.0 272.0C937.5 273.9 938.0 276.3 938.5 277.7C939.0 279.0 939.5 279.2 940.0 280.2C940.5 281.2 941.0 283.4 941.5 283.4C942.1 283.4 942.6 280.8 943.1 280.2C943.6 279.6 944.1 280.2 944.7 279.9C945.2 279.5 945.7 278.6 946.2 278.2C946.7 277.8 947.2 277.6 947.8 277.6C948.3 277.6 948.8 278.7 949.3 278.2C949.8 277.7 950.3 275.0 950.8 274.7C951.3 274.3 951.8 276.1 952.3 276.1C952.8 276.1 953.3 275.6 953.8 274.6C954.4 273.5 954.9 271.8 955.4 270.0C955.9 268.2 956.4 265.2 957.0 263.9C957.5 262.5 958.0 260.6 958.5 261.8C959.0 263.0 959.5 268.5 960.0 271.2C960.5 273.9 961.0 277.8 961.5 278.2C962.0 278.6 962.5 273.9 963.0 273.6C963.6 273.2 964.1 276.3 964.6 276.1C965.1 275.9 965.6 273.2 966.2 272.2C966.7 271.2 967.2 267.6 967.7 270.0C968.2 272.4 968.7 280.9 969.2 286.3C969.8 291.8 970.3 303.1 970.8 302.7C971.3 302.3 971.8 289.5 972.3 284.1C972.8 278.6 973.3 273.2 973.8 270.0C974.3 266.8 974.8 266.3 975.3 264.9C975.9 263.5 976.4 261.7 976.9 261.8C977.4 261.9 977.9 263.7 978.5 265.4C979.0 267.1 979.5 270.2 980.0 272.0C980.5 273.8 981.0 275.0 981.5 276.3C982.0 277.7 982.4 277.7 983.0 280.2C983.6 282.7 984.4 290.0 985.0 291.1C985.6 292.2 986.0 287.5 986.5 286.8C987.1 286.1 987.6 286.9 988.1 287.0C988.6 287.1 989.1 287.2 989.6 287.5C990.1 287.9 990.6 287.8 991.1 289.0C991.6 290.2 992.1 293.5 992.7 294.6C993.2 295.6 993.7 295.5 994.2 295.2C994.7 294.9 995.2 294.2 995.8 292.5C996.3 290.8 996.8 285.8 997.3 284.9C997.8 284.0 998.3 287.2 998.8 286.9C999.4 286.5 999.9 283.9 1000.4 282.9C1000.9 281.9 1001.4 281.9 1001.9 281.1C1002.4 280.2 1002.9 278.2 1003.4 277.8C1003.9 277.4 1004.4 278.1 1005.0 278.6C1005.5 279.1 1006.0 280.5 1006.5 280.8C1007.0 281.1 1007.5 280.7 1008.0 280.4C1008.6 280.1 1009.1 278.7 1009.6 278.8C1010.1 278.9 1010.6 280.7 1011.1 281.1C1011.6 281.4 1012.1 280.4 1012.6 280.8C1013.1 281.2 1013.6 282.7 1014.2 283.4C1014.7 284.0 1015.1 283.6 1015.7 284.9C1016.3 286.2 1017.2 290.0 1017.8 291.1C1018.4 292.2 1018.8 292.3 1019.3 291.7C1019.8 291.0 1020.3 287.6 1020.8 287.0C1021.3 286.4 1021.8 287.5 1022.3 288.2C1022.9 288.9 1023.4 290.8 1023.9 291.1C1024.4 291.4 1024.9 290.2 1025.5 289.8C1026.0 289.5 1026.5 289.5 1027.0 289.0C1027.5 288.5 1028.0 286.8 1028.5 286.6C1029.1 286.4 1029.6 287.6 1030.1 288.0C1030.6 288.4 1031.1 288.4 1031.6 288.9C1032.1 289.4 1032.5 289.4 1033.1 291.1C1033.7 292.8 1034.6 299.0 1035.2 299.3C1035.8 299.6 1036.2 295.8 1036.7 293.1C1037.2 290.4 1037.7 284.1 1038.2 282.9C1038.7 281.7 1039.2 285.0 1039.8 286.0C1040.3 287.1 1040.8 288.4 1041.3 289.0C1041.8 289.6 1042.3 289.7 1042.8 289.3C1043.4 289.0 1043.8 288.2 1044.4 287.0C1045.0 285.8 1045.8 281.9 1046.4 281.9C1047.0 281.9 1047.4 285.7 1048.0 287.2C1048.5 288.8 1049.0 290.4 1049.5 291.1C1050.0 291.8 1050.5 292.0 1051.0 291.7C1051.6 291.3 1052.1 289.4 1052.6 289.0C1053.1 288.6 1053.6 288.9 1054.2 289.5C1054.7 290.2 1055.2 292.2 1055.7 293.1C1056.2 294.0 1056.7 294.7 1057.2 295.1C1057.7 295.4 1058.2 294.9 1058.7 295.2C1059.2 295.5 1059.7 296.6 1060.2 296.8C1060.8 297.0 1061.3 295.7 1061.8 296.2C1062.3 296.7 1062.8 299.3 1063.3 299.8C1063.9 300.4 1064.4 298.7 1064.9 299.3C1065.4 299.9 1065.9 302.8 1066.4 303.3C1066.9 303.8 1067.4 302.9 1067.9 302.3C1068.4 301.7 1068.9 300.4 1069.5 299.9C1070.0 299.4 1070.5 300.0 1071.0 299.3C1071.5 298.6 1072.0 296.1 1072.5 295.7C1073.1 295.4 1073.6 297.2 1074.1 297.2C1074.6 297.2 1075.1 295.7 1075.7 295.5C1076.2 295.4 1076.7 295.6 1077.2 296.2C1077.7 296.8 1078.2 298.8 1078.7 298.9C1079.2 299.0 1079.7 297.4 1080.2 296.8C1080.7 296.2 1081.2 295.3 1081.8 295.4C1082.3 295.4 1082.6 294.5 1083.3 297.2C1084.0 299.9 1085.2 307.1 1085.8 311.5C1086.4 315.9 1086.5 320.0 1086.8 323.8C1087.1 327.6 1087.5 334.1 1087.8 334.1C1088.1 334.1 1088.3 327.6 1088.8 323.8C1089.2 320.0 1090.0 314.3 1090.5 311.5C1091.0 308.7 1091.5 307.7 1092.0 307.0C1092.5 306.4 1093.0 307.8 1093.5 307.5C1094.0 307.2 1094.5 305.1 1095.0 305.1C1095.6 305.1 1096.1 307.8 1096.6 307.5C1097.1 307.2 1097.6 303.8 1098.2 303.1C1098.7 302.4 1099.1 303.8 1099.7 303.4C1100.3 303.0 1100.9 302.0 1101.6 300.6C1102.2 299.2 1102.7 294.0 1103.4 295.2C1104.1 296.4 1105.1 306.0 1105.8 307.5C1106.5 309.0 1106.8 304.8 1107.3 304.1C1107.9 303.4 1108.4 303.9 1108.9 303.4C1109.4 302.9 1109.9 301.6 1110.5 301.3C1111.0 300.9 1111.5 301.2 1112.0 301.3C1112.5 301.4 1113.0 302.4 1113.5 302.0C1114.0 301.7 1114.5 299.3 1115.0 299.3C1115.5 299.3 1116.0 301.5 1116.5 301.8C1117.1 302.1 1117.6 300.9 1118.1 301.3C1118.6 301.7 1119.1 303.6 1119.7 303.9C1120.2 304.3 1120.7 303.7 1121.2 303.4C1121.7 303.1 1122.2 302.2 1122.8 302.2C1123.3 302.2 1123.8 304.6 1124.3 303.4C1124.8 302.2 1125.3 296.9 1125.8 294.9C1126.3 292.8 1126.7 293.1 1127.3 291.1C1127.9 289.1 1128.8 284.3 1129.4 282.9C1130.0 281.5 1130.4 282.8 1131.0 282.5C1131.5 282.1 1132.0 280.6 1132.5 280.8C1133.0 281.0 1133.5 283.6 1134.0 283.5C1134.5 283.3 1135.0 280.3 1135.5 279.8C1136.0 279.3 1136.5 280.2 1137.0 280.7C1137.6 281.2 1138.0 283.2 1138.6 282.9C1139.2 282.6 1139.8 280.0 1140.4 278.8C1141.1 277.6 1141.7 276.6 1142.3 275.7C1142.9 274.8 1143.5 272.3 1144.0 273.5C1144.6 274.7 1145.3 280.5 1145.8 282.9C1146.3 285.3 1146.8 287.4 1147.3 288.1C1147.8 288.8 1148.3 286.9 1148.8 287.0C1149.3 287.1 1149.8 288.0 1150.3 288.7C1150.9 289.4 1151.4 290.9 1151.9 291.1C1152.4 291.3 1152.9 289.3 1153.5 290.0C1154.0 290.7 1154.5 294.2 1155.0 295.2C1155.5 296.2 1156.0 295.8 1156.5 296.1C1157.0 296.4 1157.4 297.3 1158.0 297.2C1158.6 297.1 1159.4 294.7 1160.0 295.2C1160.6 295.7 1161.0 298.2 1161.5 300.3C1162.1 302.3 1162.6 306.6 1163.1 307.5C1163.6 308.4 1164.1 306.6 1164.6 305.5C1165.1 304.5 1165.6 301.9 1166.1 301.3C1166.6 300.7 1167.1 303.1 1167.7 302.1C1168.2 301.1 1168.7 296.2 1169.2 295.2C1169.7 294.2 1170.2 295.2 1170.8 295.9C1171.3 296.6 1171.8 298.5 1172.3 299.3C1172.8 300.1 1173.3 300.2 1173.8 300.5C1174.4 300.9 1174.9 301.1 1175.4 301.3C1175.9 301.5 1176.4 301.5 1176.9 301.8C1177.4 302.2 1177.9 302.3 1178.4 303.4C1178.9 304.5 1179.4 306.4 1180.0 308.4C1180.5 310.4 1181.0 314.9 1181.5 315.6C1182.0 316.3 1182.5 313.7 1183.0 312.4C1183.6 311.0 1184.1 307.5 1184.6 307.5C1185.1 307.5 1185.6 311.6 1186.1 312.3C1186.6 313.0 1187.1 311.5 1187.6 311.5C1188.1 311.5 1188.6 312.3 1189.2 312.3C1189.7 312.3 1190.2 312.3 1190.7 311.5C1191.2 310.7 1191.7 308.7 1192.2 307.7C1192.8 306.7 1193.3 305.6 1193.8 305.4C1194.3 305.2 1194.8 306.3 1195.3 306.3C1195.9 306.3 1196.4 305.7 1196.9 305.4C1197.4 305.1 1197.9 305.2 1198.4 304.8C1198.9 304.5 1199.4 303.9 1199.9 303.4C1200.4 302.9 1200.9 302.7 1201.5 301.6C1202.0 300.6 1202.5 298.9 1203.0 297.2C1203.5 295.5 1204.0 292.9 1204.5 291.2C1205.1 289.5 1205.6 288.0 1206.1 287.0C1206.6 286.0 1207.1 285.9 1207.7 285.2C1208.2 284.5 1208.7 282.7 1209.2 282.9C1209.7 283.1 1210.2 286.0 1210.7 286.3C1211.2 286.7 1211.7 284.6 1212.2 284.9C1212.7 285.2 1213.2 287.0 1213.8 288.0C1214.3 289.1 1214.7 290.8 1215.3 291.1C1215.9 291.4 1216.7 290.6 1217.3 289.5C1218.0 288.5 1218.8 285.2 1219.4 284.9C1220.0 284.6 1220.4 287.0 1221.0 288.0C1221.5 289.0 1222.0 291.1 1222.5 291.1C1223.0 291.1 1223.5 289.2 1224.0 288.1C1224.5 287.1 1225.0 285.5 1225.5 284.9C1226.0 284.3 1226.5 284.3 1227.0 284.6C1227.6 285.0 1228.1 285.4 1228.6 287.0C1229.1 288.6 1229.6 293.5 1230.2 294.2C1230.7 294.9 1231.2 291.9 1231.7 291.1C1232.2 290.3 1232.7 290.5 1233.2 289.2C1233.7 287.8 1234.2 284.1 1234.7 282.9C1235.2 281.7 1235.7 283.0 1236.2 281.9C1236.8 280.9 1237.2 275.9 1237.8 276.7C1238.4 277.5 1239.2 285.3 1239.9 287.0C1240.7 288.7 1241.6 286.3 1242.3 287.0C1243.0 287.7 1243.5 290.5 1244.2 291.1C1244.8 291.8 1245.3 292.3 1246.0 291.1C1246.7 289.9 1247.4 285.8 1248.0 284.1C1248.7 282.4 1249.5 281.9 1250.1 280.8C1250.7 279.7 1251.1 278.1 1251.7 277.4C1252.2 276.7 1252.7 276.4 1253.2 276.7C1253.7 277.0 1254.2 278.4 1254.8 279.5C1255.3 280.5 1255.8 282.1 1256.3 282.9C1256.8 283.7 1257.3 282.6 1257.8 284.0C1258.3 285.3 1258.8 289.2 1259.3 291.1C1259.8 293.0 1260.3 293.6 1260.8 295.6C1261.4 297.7 1261.9 301.4 1262.4 303.4C1262.9 305.4 1263.4 306.9 1264.0 307.9C1264.5 308.9 1265.0 309.4 1265.5 309.5C1266.0 309.6 1266.5 307.7 1267.0 308.7C1267.5 309.7 1268.0 314.7 1268.5 315.6C1269.0 316.5 1269.5 314.0 1270.0 314.0C1270.6 314.0 1271.1 315.5 1271.6 315.6C1272.1 315.7 1272.6 314.7 1273.2 314.4C1273.7 314.1 1274.2 312.7 1274.7 313.6C1275.2 314.5 1275.7 317.5 1276.2 319.6C1276.8 321.6 1277.3 325.4 1277.8 325.9C1278.3 326.4 1278.8 323.8 1279.3 322.7C1279.8 321.7 1280.3 320.6 1280.8 319.7C1281.3 318.8 1281.8 317.7 1282.3 317.3C1282.9 317.0 1283.4 317.5 1283.9 317.7C1284.4 317.9 1284.9 318.6 1285.5 318.3C1286.0 317.9 1286.5 316.6 1287.0 315.6C1287.5 314.6 1288.0 312.0 1288.5 312.4C1289.0 312.7 1289.5 316.9 1290.0 317.7C1290.5 318.5 1291.0 317.7 1291.5 317.4C1292.1 317.0 1292.6 317.0 1293.1 315.6C1293.6 314.2 1294.1 310.6 1294.7 309.2C1295.2 307.9 1295.6 308.1 1296.2 307.5C1296.8 306.9 1297.6 305.0 1298.2 305.4C1298.8 305.8 1299.2 307.9 1299.8 309.6C1300.3 311.3 1300.8 315.0 1301.3 315.6C1301.8 316.2 1302.3 314.1 1302.8 313.5C1303.4 312.8 1303.7 312.8 1304.4 311.5C1305.1 310.2 1306.3 305.4 1307.0 305.4C1307.7 305.4 1308.2 310.2 1308.8 311.6C1309.3 312.9 1310.0 313.1 1310.5 313.6C1311.0 314.1 1311.5 313.7 1312.0 314.4C1312.6 315.1 1313.1 317.2 1313.6 317.7C1314.1 318.2 1314.6 316.9 1315.2 317.5C1315.7 318.2 1316.0 321.4 1316.7 321.8C1317.4 322.2 1318.6 320.1 1319.3 319.7C1320.0 319.3 1320.5 320.0 1321.0 319.4C1321.6 318.7 1322.2 316.8 1322.8 315.6C1323.3 314.4 1323.8 313.4 1324.3 312.4C1324.9 311.4 1325.4 310.2 1325.9 309.5C1326.4 308.8 1326.9 308.8 1327.5 308.5C1328.0 308.2 1328.6 307.5 1329.0 307.5C1329.4 307.5 1329.6 308.3 1330.0 308.8C1330.4 309.3 1330.9 310.1 1331.4 310.2C1331.9 310.4 1332.3 309.1 1332.8 309.8C1333.3 310.5 1333.7 313.5 1334.2 314.6C1334.7 315.7 1335.1 315.8 1335.6 316.3C1336.1 316.8 1336.5 317.2 1337.0 317.5C1337.5 317.8 1337.9 318.9 1338.4 318.2C1338.9 317.5 1339.4 314.1 1339.8 313.5C1340.3 312.9 1340.8 313.8 1341.3 314.5C1341.8 315.2 1342.2 316.7 1342.7 318.0C1343.2 319.2 1343.6 321.0 1344.1 322.0C1344.6 323.0 1345.0 323.3 1345.5 323.9C1346.0 324.5 1346.4 325.0 1346.9 325.7C1347.4 326.4 1347.8 326.8 1348.3 328.2C1348.8 329.6 1349.2 334.3 1349.7 334.2C1350.2 334.1 1350.6 329.2 1351.1 327.4C1351.6 325.7 1352.0 326.5 1352.5 323.9C1353.0 321.3 1353.4 316.1 1353.9 311.7C1354.4 307.3 1354.8 299.9 1355.3 297.6C1355.8 295.3 1356.2 298.0 1356.7 298.0C1357.2 298.0 1357.6 297.7 1358.1 297.6C1358.6 297.5 1359.1 297.0 1359.5 297.3C1360.0 297.6 1360.5 299.2 1361.0 299.5C1361.5 299.8 1361.9 299.6 1362.4 299.3C1362.9 299.0 1363.3 296.9 1363.8 297.6C1364.3 298.3 1364.7 301.5 1365.2 303.4C1365.7 305.3 1366.1 308.4 1366.6 308.8C1367.1 309.2 1367.5 306.2 1368.0 305.9C1368.5 305.6 1368.9 306.4 1369.4 307.0C1369.9 307.6 1370.3 308.4 1370.8 309.3C1371.3 310.3 1371.7 314.2 1372.2 312.6C1372.8 311.0 1373.5 303.4 1374.1 300.0C1374.7 296.5 1375.5 292.4 1376.0 291.9C1376.5 291.4 1376.9 294.8 1377.4 297.0C1377.9 299.2 1378.3 303.5 1378.8 305.1C1379.3 306.7 1379.7 306.2 1380.2 306.5C1380.7 306.8 1381.1 307.6 1381.6 307.0C1382.1 306.4 1382.5 303.6 1383.0 303.0C1383.5 302.3 1383.9 303.2 1384.4 303.2C1384.9 303.2 1385.3 302.2 1385.8 302.8C1386.3 303.5 1386.7 306.9 1387.2 307.0C1387.7 307.1 1388.1 304.8 1388.6 303.4C1389.1 302.0 1389.5 298.3 1390.0 298.5C1390.5 298.7 1391.3 302.0 1391.9 304.7C1392.5 307.3 1393.2 314.3 1393.8 314.5C1394.3 314.7 1394.7 308.7 1395.2 306.0C1395.7 303.3 1396.1 298.6 1396.6 298.5C1397.1 298.4 1397.5 302.8 1398.0 305.1C1398.5 307.5 1398.9 311.6 1399.4 312.6C1399.9 313.6 1400.3 311.7 1400.8 311.4C1401.3 311.1 1401.7 310.7 1402.2 310.7C1402.7 310.7 1403.2 311.2 1403.7 311.2C1404.1 311.2 1404.6 310.0 1405.1 310.7C1405.6 311.4 1406.0 313.8 1406.5 315.7C1407.0 317.5 1407.4 322.4 1407.9 322.0C1408.4 321.6 1408.8 315.6 1409.3 313.1C1409.8 310.6 1410.2 309.3 1410.7 307.0C1411.2 304.7 1411.6 301.8 1412.1 299.6C1412.6 297.4 1413.0 294.7 1413.5 293.8C1414.0 292.9 1414.8 294.7 1415.4 294.0C1416.0 293.4 1416.8 290.0 1417.3 290.1C1417.8 290.2 1418.2 293.6 1418.7 294.6C1419.2 295.5 1419.6 295.7 1420.1 295.7C1420.6 295.7 1421.0 295.0 1421.5 294.7C1422.0 294.3 1422.4 292.6 1422.9 293.8C1423.4 295.0 1424.1 299.8 1424.8 301.7C1425.4 303.6 1426.0 305.9 1426.6 305.1C1427.1 304.3 1427.6 300.1 1428.0 297.0C1428.5 293.8 1429.0 287.2 1429.5 286.3C1430.0 285.4 1430.4 289.4 1430.9 291.9C1431.4 294.4 1431.8 298.5 1432.3 301.3C1432.8 304.1 1433.2 307.2 1433.7 308.7C1434.2 310.3 1434.6 310.5 1435.1 310.7C1435.6 310.9 1436.0 312.0 1436.5 310.2C1437.0 308.3 1437.4 300.5 1437.9 299.5C1438.4 298.5 1438.8 302.7 1439.3 303.9C1439.8 305.2 1440.2 306.7 1440.7 307.0C1441.2 307.3 1441.6 305.3 1442.1 305.9C1442.6 306.5 1443.0 309.6 1443.5 310.7C1444.0 311.8 1444.4 312.6 1444.9 312.3C1445.4 312.0 1445.8 308.6 1446.3 308.8C1446.8 309.0 1447.3 312.4 1447.8 313.6C1448.2 314.9 1448.7 313.3 1449.2 316.3C1449.7 319.3 1450.5 326.3 1451.0 331.4C1451.5 336.5 1452.0 341.8 1452.5 347.2C1452.9 352.5 1453.4 362.9 1453.9 363.3C1454.4 363.7 1454.8 352.7 1455.3 349.3C1455.8 345.8 1456.2 344.3 1456.7 342.6C1457.2 340.9 1458.0 338.6 1458.5 338.9C1459.0 339.2 1459.5 342.4 1460.0 344.3C1460.4 346.2 1460.9 349.1 1461.4 350.1C1461.9 351.1 1462.9 350.1 1463.2 350.1" fill="none" stroke="#ff7f0e" style="stroke-width:2.08px;stroke-linejoin:round;stroke-linecap:square"/></g></g>
   </g>
   
   <g id="patch_4">
    <path d="M 83.16 372.9386 L 83.16 27.789 " style="fill: none; stroke: #000000; stroke-width: 0.8; stroke-linejoin: miter; stroke-linecap: square"/>
   </g>
   <g id="patch_5">
    <path d="M 1053 372.9386 L 1053 27.789 " style="fill: none; stroke: #000000; stroke-width: 0.8; stroke-linejoin: miter; stroke-linecap: square"/>
   </g>
   <g id="patch_6">
    <path d="M 83.3628 373.32 L 1052.8577 373.32 " style="fill: none; stroke: #000000; stroke-width: 0.8; stroke-linejoin: miter; stroke-linecap: square"/>
   </g>
   <g id="patch_7">
    <path d="M 83.3628 27.72 L 1052.8577 27.72 " style="fill: none; stroke: #000000; stroke-width: 0.8; stroke-linejoin: miter; stroke-linecap: square"/>
   </g>
   <g id="text_7">
    <text style="font-weight: 700; font-size: 19.2px; font-family: 'DejaVu Sans', sans-serif; text-anchor: middle" x="564.7695" y="21.789" transform="rotate(-0 564.7695 21.789)">10.0 MHz N0000033</text>
   </g>
   <g id="text_8">
    <text style="font-weight: 700; font-size: 19.2px; font-family: 'DejaVu Sans', sans-serif; text-anchor: start" x="83.362837" y="21.789" transform="rotate(-0 83.362837 21.789)">(a)</text>
   </g>
   <g id="legend_1">
    <g id="patch_8">
     <path d="M 756.499248 92.60598 L 1043.52814 92.60598 Q 1046.19374 92.60598 1046.19374 89.94038 L 1046.19374 37.1186 Q 1046.19374 34.453 1043.52814 34.453 L 756.499248 34.453 Q 753.833648 34.453 753.833648 37.1186 L 753.833648 89.94038 Q 753.833648 92.60598 756.499248 92.60598 z
" style="fill: #ffffff; opacity: 0.8; stroke: #cccccc; stroke-linejoin: miter"/>
    </g>
    <g id="line2d_27">
     <g>
      <use href="#m733a03271b" x="772.492848" y="45.246598" style="fill: #1f77b4; stroke: #1f77b4"/>
     </g>
    </g>
    <g id="text_9">
     <text style="font-weight: 700; font-size: 13.328px; font-family: 'DejaVu Sans', sans-serif; text-anchor: start" x="796.483248" y="49.911398" transform="rotate(-0 796.483248 49.911398)">Raw Data</text>
    </g>
    <g id="line2d_28">
     <path d="M 759.164848 73.709791 L 772.492848 73.709791 L 785.820848 73.709791 " style="fill: none; stroke: #ff7f0e; stroke-width: 1.5; stroke-linecap: square"/>
    </g>
    <g id="text_10">
     <text style="font-weight: 700; font-size: 13.328px; font-family: 'DejaVu Sans', sans-serif" transform="translate(796.483248 69.474403)">Butterworth Filtered Data</text>
     <text style="font-weight: 700; font-size: 13.328px; font-family: 'DejaVu Sans', sans-serif" transform="translate(796.483248 84.398847)">(N=6, Tc=3.3333 min, Type: low)</text>
    </g>
   </g>
  </g>
  <g id="axes_2">
   <g id="patch_9">
    <path d="M 83.362837 759.268234 L 1052.85774 759.268234 L 1052.85774 414.118617 L 83.362837 414.118617 z
" style="fill: #ffffff"/>
   </g>
   <g id="patch_10">
    <path d="M 548.725777 759.268234 L 990.982154 759.268234 L 990.982154 414.118617 L 548.725777 414.118617 z
" clip-path="url(#pcd39c0926f)" style="fill: #808080; fill-opacity: 0.18; stroke: #808080; stroke-opacity: 0.18; stroke-linejoin: miter"/>
   </g>
   <g id="matplotlib.axis_3">
    <g id="xtick_9">
     <g id="line2d_29">
      <path d="M 83.16 759.2682 L 83.16 414.1186 " clip-path="url(#pcd39c0926f)" style="fill: none; stroke-dasharray: 0.8,1.32; stroke-dashoffset: 0; stroke: #b0b0b0; stroke-width: 0.8"/>
     </g>
     <g id="line2d_30">
      <g>
       <use href="#m7c25c535dc" x="83.16" y="759.24" style="stroke: #000000; stroke-width: 0.8"/>
      </g>
     </g>
     <g id="text_11">
      <text style="font-weight: 700; font-size: 16px; font-family: 'DejaVu Sans', sans-serif" transform="translate(13.2788 815.7954) rotate(-30)">02-27 00</text>
     </g>
    </g>
    <g id="xtick_10">
     <g id="line2d_31">
      <path d="M 204.84 759.2682 L 204.84 414.1186 " clip-path="url(#pcd39c0926f)" style="fill: none; stroke-dasharray: 0.8,1.32; stroke-dashoffset: 0; stroke: #b0b0b0; stroke-width: 0.8"/>
     </g>
     <g id="line2d_32">
      <g>
       <use href="#m7c25c535dc" x="204.84" y="759.24" style="stroke: #000000; stroke-width: 0.8"/>
      </g>
     </g>
     <g id="text_12">
      <text style="font-weight: 700; font-size: 16px; font-family: 'DejaVu Sans', sans-serif" transform="translate(134.467 815.7954) rotate(-30)">02-27 03</text>
     </g>
    </g>
    <g id="xtick_11">
     <g id="line2d_33">
      <path d="M 325.8 759.2682 L 325.8 414.1186 " clip-path="url(#pcd39c0926f)" style="fill: none; stroke-dasharray: 0.8,1.32; stroke-dashoffset: 0; stroke: #b0b0b0; stroke-width: 0.8"/>
     </g>
     <g id="line2d_34">
      <g>
       <use href="#m7c25c535dc" x="325.8" y="759.24" style="stroke: #000000; stroke-width: 0.8"/>
      </g>
     </g>
     <g id="text_13">
      <text style="font-weight: 700; font-size: 16px; font-family: 'DejaVu Sans', sans-serif" transform="translate(255.6553 815.7954) rotate(-30)">02-27 06</text>
     </g>
    </g>
    <g id="xtick_12">
     <g id="line2d_35">
      <path d="M 446.76 759.2682 L 446.76 414.1186 " clip-path="url(#pcd39c0926f)" style="fill: none; stroke-dasharray: 0.8,1.32; stroke-dashoffset: 0; stroke: #b0b0b0; stroke-width: 0.8"/>
     </g>
     <g id="line2d_36">
      <g>
       <use href="#m7c25c535dc" x="446.76" y="759.24" style="stroke: #000000; stroke-width: 0.8"/>
      </g>
     </g>
     <g id="text_14">
      <text style="font-weight: 700; font-size: 16px; font-family: 'DejaVu Sans', sans-serif" transform="translate(376.8435 815.7954) rotate(-30)">02-27 09</text>
     </g>
    </g>
    <g id="xtick_13">
     <g id="line2d_37">
      <path d="M 568.44 759.2682 L 568.44 414.1186 " clip-path="url(#pcd39c0926f)" style="fill: none; stroke-dasharray: 0.8,1.32; stroke-dashoffset: 0; stroke: #b0b0b0; stroke-width: 0.8"/>
     </g>
     <g id="line2d_38">
      <g>
       <use href="#m7c25c535dc" x="568.44" y="759.24" style="stroke: #000000; stroke-width: 0.8"/>
      </g>
     </g>
     <g id="text_15">
      <text style="font-weight: 700; font-size: 16px; font-family: 'DejaVu Sans', sans-serif" transform="translate(498.0318 815.7954) rotate(-30)">02-27 12</text>
     </g>
    </g>
    <g id="xtick_14">
     <g id="line2d_39">
      <path d="M 689.4 759.2682 L 689.4 414.1186 " clip-path="url(#pcd39c0926f)" style="fill: none; stroke-dasharray: 0.8,1.32; stroke-dashoffset: 0; stroke: #b0b0b0; stroke-width: 0.8"/>
     </g>
     <g id="line2d_40">
      <g>
       <use href="#m7c25c535dc" x="689.4" y="759.24" style="stroke: #000000; stroke-width: 0.8"/>
      </g>
     </g>
     <g id="text_16">
      <text style="font-weight: 700; font-size: 16px; font-family: 'DejaVu Sans', sans-serif" transform="translate(619.2201 815.7954) rotate(-30)">02-27 15</text>
     </g>
    </g>
    <g id="xtick_15">
     <g id="line2d_41">
      <path d="M 810.36 759.2682 L 810.36 414.1186 " clip-path="url(#pcd39c0926f)" style="fill: none; stroke-dasharray: 0.8,1.32; stroke-dashoffset: 0; stroke: #b0b0b0; stroke-width: 0.8"/>
     </g>
     <g id="line2d_42">
      <g>
       <use href="#m7c25c535dc" x="810.36" y="759.24" style="stroke: #000000; stroke-width: 0.8"/>
      </g>
     </g>
     <g id="text_17">
      <text style="font-weight: 700; font-size: 16px; font-family: 'DejaVu Sans', sans-serif" transform="translate(740.4083 815.7954) rotate(-30)">02-27 18</text>
     </g>
    </g>
    <g id="xtick_16">
     <g id="line2d_43">
      <path d="M 932.04 759.2682 L 932.04 414.1186 " clip-path="url(#pcd39c0926f)" style="fill: none; stroke-dasharray: 0.8,1.32; stroke-dashoffset: 0; stroke: #b0b0b0; stroke-width: 0.8"/>
     </g>
     <g id="line2d_44">
      <g>
       <use href="#m7c25c535dc" x="932.04" y="759.24" style="stroke: #000000; stroke-width: 0.8"/>
      </g>
     </g>
     <g id="text_18">
      <text style="font-weight: 700; font-size: 16px; font-family: 'DejaVu Sans', sans-serif" transform="translate(861.5966 815.7954) rotate(-30)">02-27 21</text>
     </g>
    </g>
    <g id="text_19">
     <text style="font-weight: 700; font-size: 16px; font-family: 'DejaVu Sans', sans-serif; text-anchor: middle" x="568.1103" y="834.2586" transform="rotate(-0 568.1103 834.2586)">UTC</text>
    </g>
   </g>
   <g id="matplotlib.axis_4">
    <g id="ytick_6">
     <g id="line2d_45">
      <path d="M 83.3628 744.12 L 1052.8577 744.12 " clip-path="url(#pcd39c0926f)" style="fill: none; stroke-dasharray: 0.8,1.32; stroke-dashoffset: 0; stroke: #b0b0b0; stroke-width: 0.8"/>
     </g>
     <g id="line2d_46">
      <g>
       <use href="#mb258c49b38" x="83.16" y="744.12" style="stroke: #000000; stroke-width: 0.8"/>
      </g>
     </g>
     <g id="text_20">
      <text style="font-weight: 700; font-size: 16px; font-family: 'DejaVu Sans', sans-serif; text-anchor: end" x="76.362837" y="750.364267" transform="rotate(-0 76.362837 750.364267)">0.00</text>
     </g>
    </g>
    <g id="ytick_7">
     <g id="line2d_47">
      <path d="M 83.3628 691.56 L 1052.8577 691.56 " clip-path="url(#pcd39c0926f)" style="fill: none; stroke-dasharray: 0.8,1.32; stroke-dashoffset: 0; stroke: #b0b0b0; stroke-width: 0.8"/>
     </g>
     <g id="line2d_48">
      <g>
       <use href="#mb258c49b38" x="83.16" y="691.56" style="stroke: #000000; stroke-width: 0.8"/>
      </g>
     </g>
     <g id="text_21">
      <text style="font-weight: 700; font-size: 16px; font-family: 'DejaVu Sans', sans-serif; text-anchor: end" x="76.362837" y="697.756412" transform="rotate(-0 76.362837 697.756412)">0.05</text>
     </g>
    </g>
    <g id="ytick_8">
     <g id="line2d_49">
      <path d="M 83.3628 639 L 1052.8577 639 " clip-path="url(#pcd39c0926f)" style="fill: none; stroke-dasharray: 0.8,1.32; stroke-dashoffset: 0; stroke: #b0b0b0; stroke-width: 0.8"/>
     </g>
     <g id="line2d_50">
      <g>
       <use href="#mb258c49b38" x="83.16" y="639" style="stroke: #000000; stroke-width: 0.8"/>
      </g>
     </g>
     <g id="text_22">
      <text style="font-weight: 700; font-size: 16px; font-family: 'DejaVu Sans', sans-serif; text-anchor: end" x="76.362837" y="645.148556" transform="rotate(-0 76.362837 645.148556)">0.10</text>
     </g>
    </g>
    <g id="ytick_9">
     <g id="line2d_51">
      <path d="M 83.3628 586.44 L 1052.8577 586.44 " clip-path="url(#pcd39c0926f)" style="fill: none; stroke-dasharray: 0.8,1.32; stroke-dashoffset: 0; stroke: #b0b0b0; stroke-width: 0.8"/>
     </g>
     <g id="line2d_52">
      <g>
       <use href="#mb258c49b38" x="83.16" y="586.44" style="stroke: #000000; stroke-width: 0.8"/>
      </g>
     </g>
     <g id="text_23">
      <text style="font-weight: 700; font-size: 16px; font-family: 'DejaVu Sans', sans-serif; text-anchor: end" x="76.362837" y="592.540701" transform="rotate(-0 76.362837 592.540701)">0.15</text>
     </g>
    </g>
    <g id="ytick_10">
     <g id="line2d_53">
      <path d="M 83.3628 533.88 L 1052.8577 533.88 " clip-path="url(#pcd39c0926f)" style="fill: none; stroke-dasharray: 0.8,1.32; stroke-dashoffset: 0; stroke: #b0b0b0; stroke-width: 0.8"/>
     </g>
     <g id="line2d_54">
      <g>
       <use href="#mb258c49b38" x="83.16" y="533.88" style="stroke: #000000; stroke-width: 0.8"/>
      </g>
     </g>
     <g id="text_24">
      <text style="font-weight: 700; font-size: 16px; font-family: 'DejaVu Sans', sans-serif; text-anchor: end" x="76.362837" y="539.932846" transform="rotate(-0 76.362837 539.932846)">0.20</text>
     </g>
    </g>
    <g id="ytick_11">
     <g id="line2d_55">
      <path d="M 83.3628 481.32 L 1052.8577 481.32 " clip-path="url(#pcd39c0926f)" style="fill: none; stroke-dasharray: 0.8,1.32; stroke-dashoffset: 0; stroke: #b0b0b0; stroke-width: 0.8"/>
     </g>
     <g id="line2d_56">
      <g>
       <use href="#mb258c49b38" x="83.16" y="481.32" style="stroke: #000000; stroke-width: 0.8"/>
      </g>
     </g>
     <g id="text_25">
      <text style="font-weight: 700; font-size: 16px; font-family: 'DejaVu Sans', sans-serif; text-anchor: end" x="76.362837" y="487.32499" transform="rotate(-0 76.362837 487.32499)">0.25</text>
     </g>
    </g>
    <g id="ytick_12">
     <g id="line2d_57">
      <path d="M 83.3628 428.76 L 1052.8577 428.76 " clip-path="url(#pcd39c0926f)" style="fill: none; stroke-dasharray: 0.8,1.32; stroke-dashoffset: 0; stroke: #b0b0b0; stroke-width: 0.8"/>
     </g>
     <g id="line2d_58">
      <g>
       <use href="#mb258c49b38" x="83.16" y="428.76" style="stroke: #000000; stroke-width: 0.8"/>
      </g>
     </g>
     <g id="text_26">
      <text style="font-weight: 700; font-size: 16px; font-family: 'DejaVu Sans', sans-serif; text-anchor: end" x="76.362837" y="434.717135" transform="rotate(-0 76.362837 434.717135)">0.30</text>
     </g>
    </g>
    <g id="text_27">
     <text style="font-weight: 700; font-size: 16px; font-family: 'DejaVu Sans', sans-serif; text-anchor: middle" x="29.4353" y="587.4134" transform="rotate(-90 29.4353 587.4134)">Peak Voltage [V]</text>
    </g>
   </g>
   <g id="DATA1">
    <g transform="scale(0.72)"><g clip-path="url(#cb)"><polygon points="115.5,937.5 116.1,933.4 117.5,931.5 119.2,929.3 119.5,930.1 121.5,935.4 122.3,937.5 123.5,933.5 125.4,927.2 125.5,927.8 127.5,940.1 128.4,945.7 129.5,941.4 130.5,937.5 131.5,928.9 133.5,911.7 133.6,910.9 135.5,909.5 136.6,908.8 137.5,912.4 139.5,920.3 139.7,921.1 141.5,906.3 141.7,904.7 143.5,919.0 144.8,929.3 145.5,929.7 147.5,931.0 147.9,931.3 149.5,930.2 151.0,929.3 151.5,920.4 153.5,884.9 154.0,876.0 155.5,846.8 156.1,835.1 157.5,827.9 158.5,822.8 159.5,850.1 161.2,896.5 161.5,899.7 163.5,920.8 164.3,929.3 165.5,933.4 167.3,939.5 167.5,940.1 169.5,946.8 170.4,949.8 171.5,941.2 172.5,933.4 173.5,930.2 175.1,925.2 175.5,925.8 177.5,929.1 177.6,929.3 179.5,899.1 180.7,880.1 181.5,867.0 183.5,834.3 183.7,831.0 185.4,822.8 185.5,824.1 187.5,849.6 187.8,853.5 189.5,859.1 190.9,863.8 191.5,862.0 193.5,855.9 193.6,855.6 195.5,878.2 196.0,884.2 197.5,908.0 199.1,933.4 199.5,928.6 201.5,904.8 202.2,896.5 203.5,894.7 205.2,892.4 205.5,893.6 207.5,901.5 208.3,904.7 209.5,908.4 210.3,910.9 211.5,900.5 213.4,884.2 213.5,883.9 215.5,877.3 216.5,874.0 217.5,877.3 219.5,883.9 219.6,884.2 221.5,845.3 222.6,822.8 223.5,812.6 225.5,789.9 225.7,787.6 227.5,778.0 228.4,773.3 229.5,789.2 230.8,808.1 231.5,820.7 233.5,856.6 233.9,863.8 235.5,853.2 237.0,843.3 237.5,835.7 239.5,805.4 240.0,797.8 241.5,789.0 242.1,785.5 243.5,807.9 245.2,835.1 245.5,838.0 247.5,857.1 248.2,863.8 249.5,874.9 251.3,890.4 251.5,890.0 253.5,886.0 254.4,884.2 255.5,861.7 257.0,831.0 257.5,825.6 259.5,804.0 261.5,787.6 263.5,826.2 264.6,847.4 265.5,855.7 267.5,874.1 267.7,876.0 269.5,889.1 270.8,898.6 271.5,902.4 273.5,913.3 273.8,915.0 275.5,926.2 276.9,935.4 277.5,940.1 279.5,956.0 280.0,960.0 281.5,983.5 283.0,1007.1 283.5,1007.2 285.0,1007.5 285.5,1008.0 287.5,1010.0 289.5,1012.0 289.8,1012.3 291.5,1013.1 293.5,1014.1 294.6,1014.7 295.5,1014.2 297.5,1013.2 299.3,1012.3 299.5,1011.0 301.5,997.8 302.2,993.2 303.5,968.1 305.3,933.4 305.5,934.8 307.5,949.5 308.9,959.7 309.5,960.5 311.5,963.1 312.5,964.5 313.5,962.5 315.5,958.5 316.1,957.3 317.5,939.1 318.5,926.2 319.5,916.9 321.5,898.3 322.1,892.8 323.5,878.7 325.2,861.7 325.5,867.6 327.5,906.9 328.0,916.7 329.5,920.6 331.5,925.9 331.6,926.2 333.5,874.5 335.2,828.2 335.5,830.9 337.5,849.0 338.1,854.5 339.5,865.3 341.2,878.4 341.5,880.8 343.5,896.7 344.8,907.1 345.5,905.9 347.5,902.5 347.6,902.3 349.5,885.4 350.7,874.8 351.5,876.6 353.5,881.3 354.3,883.2 355.5,879.2 357.2,873.6 357.5,867.6 359.5,827.5 360.3,811.5 361.5,828.1 363.4,854.5 363.5,856.8 365.5,903.0 366.3,921.5 367.5,923.0 369.5,925.7 369.9,926.2 371.5,922.0 373.5,916.7 375.5,900.3 377.0,888.0 377.5,887.6 379.5,886.3 380.6,885.6 381.5,876.6 383.0,861.7 383.5,865.4 385.5,880.2 385.9,883.2 387.5,881.9 389.0,880.8 389.5,886.3 391.4,907.1 391.5,907.5 393.5,915.5 393.8,916.7 395.5,906.2 396.9,897.6 397.5,905.5 399.5,931.8 399.8,935.8 401.5,938.1 403.3,940.6 403.5,941.0 405.5,945.0 406.9,947.8 407.5,948.2 409.5,949.4 410.5,950.1 411.5,951.4 413.5,954.1 414.1,954.9 415.5,953.9 417.5,952.6 417.7,952.5 419.5,953.7 421.3,954.9 421.5,954.9 423.5,954.9 424.9,954.9 425.5,950.8 427.5,937.1 428.4,931.0 429.5,929.3 431.5,926.3 433.2,923.8 433.5,924.8 435.5,931.4 436.8,935.8 437.5,937.6 439.5,943.0 440.4,945.4 441.5,945.4 443.5,945.4 444.0,945.4 445.5,939.4 447.5,931.4 447.6,931.0 449.5,941.3 451.1,950.1 451.5,948.2 453.5,938.9 454.7,933.4 455.5,930.2 457.5,922.3 458.3,919.1 459.5,915.1 460.0,913.5 461.5,916.5 463.1,919.7 463.5,920.9 465.5,927.0 466.1,928.9 467.5,928.9 469.2,928.9 469.5,927.7 471.5,919.7 473.5,927.6 474.6,931.9 475.5,934.3 476.9,938.1 477.5,935.1 479.5,925.2 480.0,922.7 481.5,921.9 483.0,921.2 483.5,921.5 485.3,922.7 485.5,922.2 487.5,917.3 488.4,915.1 489.5,913.4 491.5,910.4 493.5,914.4 494.6,916.6 495.5,919.3 497.5,925.5 497.6,925.8 499.5,928.6 500.7,930.4 501.5,931.3 503.5,933.8 504.5,935.0 505.5,936.0 507.5,938.0 507.6,938.1 509.5,938.1 510.7,938.1 511.5,940.5 513.5,946.4 513.8,947.3 515.5,951.6 516.8,955.0 517.5,956.7 519.5,961.7 519.9,962.7 521.5,966.6 523.0,970.3 523.5,971.6 525.5,976.7 526.0,978.0 527.5,981.7 529.1,985.7 529.5,986.3 531.5,989.2 532.2,990.3 533.5,991.6 535.3,993.4 535.5,993.4 537.5,993.4 537.6,993.4 539.5,989.6 539.9,988.8 541.5,984.7 542.9,981.1 543.5,979.9 545.5,976.0 546.0,975.0 547.5,972.0 549.1,968.8 549.5,967.6 551.5,961.7 552.2,959.6 553.5,958.2 555.2,956.5 555.5,956.2 557.5,954.2 558.3,953.4 559.5,952.8 561.4,951.9 561.5,951.9 563.5,951.9 564.4,951.9 565.5,950.2 567.5,947.3 569.5,944.3 570.6,942.7 571.5,940.4 573.5,935.5 573.7,935.0 575.5,923.9 576.7,916.6 577.5,915.8 579.5,913.8 579.8,913.5 581.5,911.2 582.1,910.4 583.5,909.5 584.4,908.9 585.5,909.6 586.7,910.4 587.5,914.7 589.0,922.7 589.5,922.4 591.3,921.2 591.5,921.0 593.5,919.7 593.6,919.7 595.5,927.3 595.9,928.9 597.5,939.5 598.2,944.2 599.5,981.6 599.8,990.3 601.5,1007.3 602.1,1013.3 603.5,1014.0 605.1,1014.9 605.5,1015.1 607.5,1016.0 608.2,1016.4 609.5,1016.9 611.5,1017.7 612.1,1018.0 613.5,1016.5 615.1,1014.9 615.5,1014.7 617.5,1013.6 618.2,1013.3 619.5,1014.0 621.3,1014.9 621.5,1015.0 623.5,1016.0 624.3,1016.4 625.5,1017.6 627.4,1019.5 627.5,1019.5 629.5,1019.5 630.5,1019.5 631.5,1019.0 633.5,1018.0 633.6,1018.0 635.0,1016.4 635.5,1015.6 637.5,1012.6 638.4,1011.2 639.5,1010.6 641.5,1009.6 641.8,1009.5 643.5,1007.8 645.2,1006.1 645.5,1005.9 647.5,1004.9 648.6,1004.4 649.5,1001.3 651.5,994.5 652.1,992.5 653.5,986.1 655.5,977.1 657.5,966.0 658.9,958.3 659.5,956.8 661.5,951.8 662.3,949.8 663.5,951.0 665.5,953.0 665.7,953.2 667.5,955.0 669.1,956.6 669.5,957.6 671.5,962.7 672.5,965.2 673.5,967.2 675.5,971.2 675.9,972.0 677.5,974.3 679.4,977.1 679.5,976.9 681.5,973.9 682.8,972.0 683.5,969.2 685.5,961.1 686.2,958.3 687.5,953.1 689.5,945.1 689.6,944.7 691.5,939.4 693.5,933.9 693.9,932.8 695.5,936.0 697.3,939.6 697.5,940.3 699.5,947.3 700.7,951.5 701.5,952.7 703.5,955.7 704.1,956.6 705.5,957.3 707.5,958.3 709.5,964.3 710.9,968.6 711.5,968.9 713.5,969.9 714.3,970.3 715.5,970.8 717.5,971.5 718.6,972.0 719.5,966.6 721.5,954.5 722.0,951.5 723.5,937.7 724.6,927.6 725.5,924.9 727.5,918.9 728.0,917.4 729.5,920.4 731.4,924.2 731.5,925.0 733.5,941.0 734.8,951.5 735.5,953.6 737.5,959.7 738.2,961.8 739.5,963.1 741.5,965.1 741.6,965.2 743.5,961.3 745.0,958.3 745.5,956.6 747.5,949.8 748.5,946.4 749.5,943.0 751.0,937.9 751.5,934.3 753.5,919.8 753.6,919.1 755.5,927.7 757.0,934.5 757.5,934.5 759.5,934.5 760.4,934.5 761.5,932.3 763.0,929.3 763.5,929.6 765.5,931.0 767.2,951.5 767.5,955.0 769.5,978.6 769.8,982.2 771.5,1005.4 772.3,1016.4 773.5,1018.7 774.9,1021.5 775.5,1021.2 777.5,1020.2 778.3,1019.8 779.5,1018.6 781.5,1016.6 781.7,1016.4 783.5,1015.5 785.1,1014.7 785.5,1014.5 787.5,1013.4 788.6,1012.9 789.5,1012.0 791.5,1010.0 792.0,1009.5 793.5,1008.0 795.4,1006.1 795.5,1006.0 797.5,1004.0 798.8,1002.7 799.5,1001.3 801.5,997.3 802.2,995.9 803.5,988.7 805.5,977.6 805.6,977.1 807.5,979.9 809.0,982.2 809.5,983.4 810.0,984.6 811.5,981.6 813.1,978.4 813.5,974.0 815.5,952.2 816.1,945.7 817.5,928.1 819.2,906.8 819.5,906.5 821.3,904.7 821.5,906.3 823.3,921.1 823.5,923.9 825.5,951.6 826.4,964.1 827.5,966.3 829.5,970.3 831.5,979.8 832.5,984.6 833.5,985.2 835.5,986.5 835.6,986.6 837.5,991.6 838.7,994.8 839.5,994.8 841.5,994.8 841.7,994.8 843.5,997.2 844.8,998.9 845.5,995.2 847.5,984.6 847.9,982.5 849.5,976.2 851.0,970.3 851.5,973.7 853.5,987.3 854.0,990.7 855.5,983.8 856.7,978.4 857.5,980.4 859.2,984.6 859.5,986.0 861.5,995.5 862.2,998.9 863.5,999.8 865.3,1001.0 865.5,1000.3 867.5,993.7 868.4,990.7 869.5,995.2 871.4,1003.0 871.5,1002.9 873.5,1001.6 874.5,1001.0 875.5,999.0 877.5,995.0 877.6,994.8 879.5,993.6 880.7,992.8 881.5,993.3 883.5,994.6 883.7,994.8 885.5,993.6 886.8,992.8 887.5,993.2 889.5,994.5 889.9,994.8 891.5,992.6 892.9,990.7 893.5,991.9 895.5,995.9 896.0,996.9 897.5,997.8 899.1,998.9 899.5,995.2 901.5,976.7 902.2,970.3 903.5,972.0 905.2,974.3 905.5,973.7 907.5,969.8 908.3,968.2 909.5,969.4 910.3,970.3 911.5,982.9 913.4,1003.0 913.5,1003.1 915.5,1005.8 916.5,1007.1 917.5,1005.1 919.5,1001.1 920.6,998.9 921.5,995.3 923.5,987.4 923.7,986.6 925.5,979.2 926.7,974.3 927.5,972.5 929.5,968.2 930.4,966.2 931.5,966.2 932.9,966.2 933.5,966.2 935.5,966.2 935.9,966.2 937.5,964.1 939.0,962.1 939.5,961.1 941.5,957.1 942.1,955.9 943.5,956.8 945.2,958.0 945.5,956.4 947.5,946.2 947.6,945.7 949.5,937.0 950.3,933.4 951.5,935.8 952.3,937.5 953.5,935.9 955.4,933.4 955.5,933.5 957.5,936.2 958.5,937.5 959.5,940.2 961.5,945.7 963.5,958.9 964.6,966.2 965.5,967.4 967.5,970.0 967.7,970.3 969.5,966.7 971.5,962.7 971.8,962.1 973.5,971.0 974.9,978.4 975.5,979.2 977.5,981.9 977.9,982.5 979.5,984.1 981.5,986.1 982.0,986.6 983.5,980.8 985.0,975.0 985.5,976.9 987.5,984.8 988.1,987.2 989.5,982.9 991.1,978.0 991.5,979.2 993.5,985.1 994.2,987.2 995.5,984.6 997.3,981.1 997.5,981.1 999.5,981.1 999.6,981.1 1001.5,991.2 1001.9,993.4 1003.5,994.4 1004.2,994.9 1005.5,995.8 1006.5,996.5 1007.5,996.5 1009.5,996.5 1009.6,996.5 1011.5,1004.1 1011.9,1005.7 1013.5,1004.0 1014.9,1002.6 1015.5,998.4 1017.5,984.5 1018.0,981.1 1019.5,982.1 1020.3,982.6 1021.5,985.0 1022.6,987.2 1023.5,981.7 1024.6,975.0 1025.5,980.3 1027.2,990.3 1027.5,988.6 1029.5,977.7 1030.3,973.4 1031.5,975.8 1032.6,978.0 1033.4,975.0 1033.5,969.1 1034.1,933.5 1035.4,930.4 1035.5,930.4 1036.9,930.4 1037.5,932.1 1038.0,933.5 1038.8,990.3 1039.5,1004.6 1040.3,1021.0 1041.5,1022.6 1042.6,1024.1 1043.5,1022.9 1044.9,1021.0 1045.5,1021.9 1047.5,1024.8 1048.0,1025.6 1049.5,1026.4 1051.0,1027.2 1051.5,1027.2 1053.5,1027.2 1054.1,1027.2 1055.5,1027.9 1057.2,1028.7 1057.5,1028.7 1059.5,1028.7 1060.3,1028.7 1061.5,1028.7 1063.3,1028.7 1063.5,1028.7 1065.5,1029.2 1066.4,1029.5 1067.5,1029.2 1069.5,1028.7 1071.5,1022.0 1071.8,1021.0 1073.5,1016.5 1074.1,1014.9 1075.5,1017.6 1077.2,1021.0 1077.5,1021.0 1079.5,1021.0 1080.2,1021.0 1081.5,1021.7 1083.3,1022.6 1083.5,1022.6 1085.5,1023.1 1086.4,1023.3 1087.5,1023.6 1089.4,1024.1 1089.5,1024.1 1091.5,1024.1 1092.5,1024.1 1093.5,1024.1 1095.5,1024.1 1095.6,1024.1 1097.5,1022.9 1099.4,1021.8 1099.5,1021.8 1101.5,1022.6 1103.3,1023.3 1103.5,1023.2 1105.5,1022.8 1106.3,1022.6 1107.5,1022.3 1109.4,1021.8 1109.5,1021.8 1111.5,1021.2 1112.5,1021.0 1113.5,1021.0 1115.5,1021.0 1117.5,1020.0 1118.6,1019.5 1119.5,1019.5 1121.5,1019.5 1122.5,1019.5 1123.5,1018.4 1125.5,1016.4 1127.5,1019.3 1128.6,1021.0 1129.5,1021.4 1131.5,1022.5 1131.7,1022.6 1133.5,1022.6 1134.7,1022.6 1135.5,1021.8 1137.5,1019.8 1137.8,1019.5 1139.5,1021.2 1140.9,1022.6 1141.5,1022.6 1143.5,1022.6 1144.0,1022.6 1145.5,1021.8 1147.0,1021.0 1147.5,1020.0 1149.5,1016.1 1150.1,1014.9 1151.5,1013.9 1152.4,1013.3 1153.5,1016.0 1155.5,1021.0 1157.5,1021.0 1158.6,1021.0 1159.5,1020.0 1160.0,1019.4 1161.5,1018.2 1163.5,1016.7 1164.1,1016.3 1165.5,1018.4 1167.5,1021.4 1168.2,1022.5 1169.5,1023.1 1171.5,1024.1 1172.3,1024.5 1173.5,1024.8 1175.5,1025.3 1176.4,1025.5 1177.5,1024.4 1179.5,1022.4 1180.5,1021.4 1181.5,1020.0 1183.5,1017.2 1184.2,1016.3 1185.5,1018.7 1187.5,1022.3 1187.6,1022.5 1189.5,1022.5 1190.7,1022.5 1191.5,1022.1 1193.5,1021.0 1194.8,1020.4 1195.5,1019.9 1197.5,1018.4 1198.9,1017.4 1199.5,1017.1 1201.5,1016.0 1203.0,1015.3 1203.5,1012.6 1205.5,1002.1 1206.1,998.9 1207.5,993.3 1209.2,986.6 1209.5,984.8 1211.5,972.9 1211.6,972.3 1213.5,998.2 1214.3,1009.2 1215.5,1009.2 1217.3,1009.2 1217.5,1009.2 1219.5,1009.2 1220.4,1009.2 1221.5,1009.9 1223.5,1011.2 1225.5,1016.5 1226.6,1019.4 1227.5,1018.5 1229.5,1016.5 1230.7,1015.3 1231.5,1012.9 1233.5,1006.9 1234.1,1005.1 1235.5,1008.2 1237.5,1012.6 1237.8,1013.3 1239.5,1012.1 1240.9,1011.2 1241.5,1011.8 1243.5,1013.8 1244.0,1014.3 1245.5,1012.8 1247.5,1010.8 1248.1,1010.2 1249.5,1012.6 1251.5,1016.2 1252.2,1017.4 1253.5,1017.4 1255.5,1017.4 1256.3,1017.4 1257.5,1016.8 1259.5,1015.7 1260.3,1015.3 1261.5,1015.6 1263.5,1016.1 1264.4,1016.3 1265.5,1016.6 1267.5,1017.1 1268.5,1017.4 1269.5,1017.1 1271.5,1016.6 1272.6,1016.3 1273.5,1016.3 1275.5,1016.3 1276.7,1016.3 1277.5,1015.7 1279.5,1014.2 1280.8,1013.3 1281.5,1010.5 1283.5,1002.6 1283.9,1001.0 1285.5,991.4 1287.0,982.5 1287.5,983.8 1289.5,989.3 1290.0,990.7 1291.5,998.6 1293.1,1007.1 1293.5,1005.0 1295.5,994.4 1296.2,990.7 1297.5,985.5 1299.3,978.4 1299.5,977.3 1301.5,966.4 1302.3,962.1 1303.5,965.3 1305.4,970.3 1305.5,969.8 1307.5,959.2 1308.5,953.9 1309.5,959.3 1311.5,970.3 1313.5,975.2 1314.0,976.4 1315.5,960.4 1316.7,947.7 1317.5,956.4 1319.5,978.3 1319.7,980.5 1321.5,979.3 1322.8,978.4 1323.5,977.5 1325.5,974.8 1325.9,974.3 1327.5,972.2 1329.0,970.3 1329.5,969.2 1330.0,968.1 1331.5,969.1 1333.1,970.2 1333.5,969.6 1335.5,966.9 1336.1,966.1 1337.5,963.3 1339.2,959.9 1339.5,959.9 1341.5,959.9 1342.3,959.9 1343.5,959.9 1345.3,959.9 1345.5,959.6 1347.5,957.0 1348.4,955.8 1349.5,952.6 1350.5,949.7 1351.5,948.3 1353.5,945.6 1355.5,935.0 1356.6,929.2 1357.5,929.2 1359.5,929.2 1359.7,929.2 1361.5,918.1 1362.7,910.8 1363.5,916.6 1365.5,931.1 1365.8,933.3 1367.5,935.5 1368.9,937.4 1369.5,940.6 1371.5,951.1 1372.0,953.8 1373.5,930.2 1374.6,912.9 1375.5,912.9 1377.1,912.9 1377.5,913.2 1379.5,914.9 1381.5,937.6 1382.2,945.6 1383.5,950.7 1385.3,957.9 1385.5,959.0 1387.5,969.9 1388.3,974.3 1389.5,971.1 1391.4,966.1 1391.5,965.1 1393.5,945.3 1394.5,935.4 1395.5,934.9 1397.5,933.8 1398.6,933.3 1399.5,919.8 1401.5,889.8 1401.6,888.3 1403.5,913.3 1404.7,929.2 1405.5,928.7 1407.5,927.4 1407.8,927.2 1409.5,931.8 1410.8,935.4 1411.5,938.6 1413.5,947.8 1413.9,949.7 1415.5,960.3 1417.0,970.2 1417.5,966.5 1419.5,952.0 1420.1,947.6 1421.5,950.5 1423.1,953.8 1423.5,954.0 1425.5,955.3 1426.2,955.8 1427.5,963.5 1429.3,974.3 1429.5,974.5 1431.5,977.2 1432.3,978.3 1433.5,978.3 1435.4,978.3 1435.5,977.9 1437.5,970.0 1438.5,966.1 1439.5,947.0 1441.5,908.8 1443.5,908.8 1443.6,908.8 1445.5,899.3 1446.7,893.4 1447.5,901.8 1449.5,923.0 1449.7,925.1 1451.5,918.1 1451.8,916.9 1453.5,906.2 1454.4,900.6 1455.5,907.8 1456.9,916.9 1457.5,922.4 1459.5,941.0 1460.0,945.6 1461.5,946.6 1463.0,947.6 1463.0,1013.7 1461.5,1013.7 1460.0,1013.7 1459.5,1013.7 1457.5,1013.7 1456.9,1013.7 1455.5,1010.2 1454.4,1007.5 1453.5,1007.5 1451.8,1007.5 1451.5,1007.8 1449.7,1009.6 1449.5,1010.3 1447.5,1017.1 1446.7,1019.8 1445.5,1019.0 1443.6,1017.8 1443.5,1017.8 1441.5,1017.8 1439.5,1019.2 1438.5,1019.8 1437.5,1019.8 1435.5,1019.8 1435.4,1019.8 1433.5,1019.8 1432.3,1019.8 1431.5,1019.3 1429.5,1018.0 1429.3,1017.8 1427.5,1016.6 1426.2,1015.7 1425.5,1015.3 1423.5,1014.0 1423.1,1013.7 1421.5,1013.7 1420.1,1013.7 1419.5,1013.7 1417.5,1013.7 1417.0,1013.7 1415.5,1012.7 1413.9,1011.6 1413.5,1011.6 1411.5,1011.6 1410.8,1011.6 1409.5,1012.5 1407.8,1013.7 1407.5,1013.7 1405.5,1013.7 1404.7,1013.7 1403.5,1013.7 1401.6,1013.7 1401.5,1013.7 1399.5,1013.7 1398.6,1013.7 1397.5,1014.3 1395.5,1015.2 1394.5,1015.7 1393.5,1016.4 1391.5,1017.8 1391.4,1017.8 1389.5,1020.3 1388.3,1021.9 1387.5,1021.4 1385.5,1020.0 1385.3,1019.8 1383.5,1018.7 1382.2,1017.8 1381.5,1018.3 1379.5,1019.8 1377.5,1023.2 1377.1,1023.9 1375.5,1023.9 1374.6,1023.9 1373.5,1023.1 1372.0,1021.9 1371.5,1021.6 1369.5,1020.2 1368.9,1019.8 1367.5,1018.9 1365.8,1017.8 1365.5,1017.8 1363.5,1017.8 1362.7,1017.8 1361.5,1018.6 1359.7,1019.8 1359.5,1020.0 1357.5,1021.3 1356.6,1021.9 1355.5,1022.6 1353.5,1023.9 1351.5,1022.6 1350.5,1021.9 1349.5,1021.9 1348.4,1021.9 1347.5,1021.9 1345.5,1021.9 1345.3,1021.9 1343.5,1025.6 1342.3,1028.0 1341.5,1027.5 1339.5,1026.2 1339.2,1026.0 1337.5,1026.0 1336.1,1026.0 1335.5,1025.6 1333.5,1024.2 1333.1,1023.9 1331.5,1023.9 1330.0,1023.9 1329.5,1024.5 1329.0,1025.1 1327.5,1025.1 1325.9,1025.1 1325.5,1025.0 1323.5,1024.3 1322.8,1024.0 1321.5,1023.2 1319.7,1022.0 1319.5,1022.0 1317.5,1022.0 1316.7,1022.0 1315.5,1022.9 1314.0,1024.0 1313.5,1024.0 1311.5,1024.0 1309.5,1024.0 1308.5,1024.0 1307.5,1024.0 1305.5,1024.0 1305.4,1024.0 1303.5,1024.0 1302.3,1024.0 1301.5,1024.0 1299.5,1024.0 1299.3,1024.0 1297.5,1024.0 1296.2,1024.0 1295.5,1024.0 1293.5,1024.0 1293.1,1024.0 1291.5,1024.0 1290.0,1024.0 1289.5,1024.0 1287.5,1024.0 1287.0,1024.0 1285.5,1025.0 1283.9,1026.1 1283.5,1026.1 1281.5,1026.1 1280.8,1026.1 1279.5,1026.8 1277.5,1027.7 1276.7,1028.1 1275.5,1028.1 1273.5,1028.1 1272.6,1028.1 1271.5,1028.1 1269.5,1028.1 1268.5,1028.1 1267.5,1028.1 1265.5,1028.1 1264.4,1028.1 1263.5,1028.1 1261.5,1028.1 1260.3,1028.1 1259.5,1028.1 1257.5,1028.1 1256.3,1028.1 1255.5,1028.1 1253.5,1028.1 1252.2,1028.1 1251.5,1028.1 1249.5,1028.1 1248.1,1028.1 1247.5,1028.1 1245.5,1028.1 1244.0,1028.1 1243.5,1028.1 1241.5,1028.1 1240.9,1028.1 1239.5,1028.1 1237.8,1028.1 1237.5,1028.1 1235.5,1028.1 1234.1,1028.1 1233.5,1028.3 1231.5,1029.0 1230.7,1029.2 1229.5,1029.2 1227.5,1029.2 1226.6,1029.2 1225.5,1028.8 1223.5,1028.1 1221.5,1028.1 1220.4,1028.1 1219.5,1028.1 1217.5,1028.1 1217.3,1028.1 1215.5,1028.1 1214.3,1028.1 1213.5,1028.1 1211.6,1028.1 1211.5,1028.1 1209.5,1028.1 1209.2,1028.1 1207.5,1028.1 1206.1,1028.1 1205.5,1028.5 1203.5,1029.9 1203.0,1030.2 1201.5,1030.2 1199.5,1030.2 1198.9,1030.2 1197.5,1030.2 1195.5,1030.2 1194.8,1030.2 1193.5,1030.5 1191.5,1031.0 1190.7,1031.2 1189.5,1031.2 1187.6,1031.2 1187.5,1031.2 1185.5,1031.2 1184.2,1031.2 1183.5,1031.2 1181.5,1031.2 1180.5,1031.2 1179.5,1031.2 1177.5,1031.2 1176.4,1031.2 1175.5,1031.2 1173.5,1031.2 1172.3,1031.2 1171.5,1031.2 1169.5,1031.2 1168.2,1031.2 1167.5,1031.0 1165.5,1030.6 1164.1,1030.2 1163.5,1030.2 1161.5,1030.2 1160.0,1030.2 1159.5,1030.1 1158.6,1030.0 1157.5,1030.3 1155.5,1030.8 1153.5,1030.8 1152.4,1030.8 1151.5,1030.8 1150.1,1030.8 1149.5,1030.8 1147.5,1030.8 1147.0,1030.8 1145.5,1030.8 1144.0,1030.8 1143.5,1030.8 1141.5,1030.8 1140.9,1030.8 1139.5,1030.8 1137.8,1030.8 1137.5,1030.8 1135.5,1030.8 1134.7,1030.8 1133.5,1030.8 1131.7,1030.8 1131.5,1030.8 1129.5,1030.8 1128.6,1030.8 1127.5,1030.8 1125.5,1030.8 1123.5,1030.3 1122.5,1030.0 1121.5,1030.0 1119.5,1030.0 1118.6,1030.0 1117.5,1030.0 1115.5,1030.0 1113.5,1030.0 1112.5,1030.0 1111.5,1030.0 1109.5,1030.0 1109.4,1030.0 1107.5,1030.0 1106.3,1030.0 1105.5,1030.0 1103.5,1030.0 1103.3,1030.0 1101.5,1030.0 1099.5,1030.0 1099.4,1030.0 1097.5,1030.0 1095.6,1030.0 1095.5,1030.0 1093.5,1030.0 1092.5,1030.0 1091.5,1030.0 1089.5,1030.0 1089.4,1030.0 1087.5,1030.0 1086.4,1030.0 1085.5,1030.0 1083.5,1030.0 1083.3,1030.0 1081.5,1030.0 1080.2,1030.0 1079.5,1030.2 1077.5,1030.7 1077.2,1030.8 1075.5,1030.8 1074.1,1030.8 1073.5,1030.8 1071.8,1030.8 1071.5,1030.9 1069.5,1031.6 1067.5,1031.6 1066.4,1031.6 1065.5,1031.6 1063.5,1031.6 1063.3,1031.6 1061.5,1031.6 1060.3,1031.6 1059.5,1031.6 1057.5,1031.6 1057.2,1031.6 1055.5,1031.6 1054.1,1031.6 1053.5,1031.6 1051.5,1031.6 1051.0,1031.6 1049.5,1031.6 1048.0,1031.6 1047.5,1031.5 1045.5,1031.0 1044.9,1030.8 1043.5,1030.8 1042.6,1030.8 1041.5,1030.8 1040.3,1030.8 1039.5,1030.0 1038.8,1029.3 1038.0,1027.7 1037.5,1027.0 1036.9,1026.2 1035.5,1026.2 1035.4,1026.2 1034.1,1025.4 1033.5,1025.4 1033.4,1025.4 1032.6,1024.6 1031.5,1024.6 1030.3,1024.6 1029.5,1025.0 1027.5,1026.1 1027.2,1026.2 1025.5,1026.2 1024.6,1026.2 1023.5,1026.2 1022.6,1026.2 1021.5,1026.2 1020.3,1026.2 1019.5,1026.7 1018.0,1027.7 1017.5,1028.0 1015.5,1029.0 1014.9,1029.3 1013.5,1028.6 1011.9,1027.7 1011.5,1027.7 1009.6,1027.7 1009.5,1027.7 1007.5,1026.7 1006.5,1026.2 1005.5,1026.2 1004.2,1026.2 1003.5,1026.7 1001.9,1027.7 1001.5,1027.5 999.6,1026.2 999.5,1026.3 997.5,1027.6 997.3,1027.7 995.5,1026.8 994.2,1026.2 993.5,1025.9 991.5,1024.8 991.1,1024.6 989.5,1024.6 988.1,1024.6 987.5,1024.6 985.5,1024.6 985.0,1024.6 983.5,1023.3 982.0,1022.0 981.5,1021.5 979.5,1019.5 977.9,1017.9 977.5,1018.2 975.5,1019.5 974.9,1019.9 973.5,1019.9 971.8,1019.9 971.5,1020.2 969.5,1022.2 967.7,1024.0 967.5,1024.0 965.5,1024.0 964.6,1024.0 963.5,1023.3 961.5,1022.0 959.5,1023.4 958.5,1024.0 957.5,1023.4 955.5,1022.1 955.4,1022.0 953.5,1022.0 952.3,1022.0 951.5,1022.0 950.3,1022.0 949.5,1022.0 947.6,1022.0 947.5,1021.9 945.5,1020.2 945.2,1019.9 943.5,1021.1 942.1,1022.0 941.5,1022.0 939.5,1022.0 939.0,1022.0 937.5,1020.0 935.9,1017.9 935.5,1017.9 933.5,1017.9 932.9,1017.9 931.5,1019.0 930.4,1019.9 929.5,1019.9 927.5,1019.9 926.7,1019.9 925.5,1019.9 923.7,1019.9 923.5,1020.1 921.5,1021.4 920.6,1022.0 919.5,1023.1 917.5,1025.1 916.5,1026.1 915.5,1026.1 913.5,1026.1 913.4,1026.1 911.5,1026.1 910.3,1026.1 909.5,1026.1 908.3,1026.1 907.5,1026.1 905.5,1026.1 905.2,1026.1 903.5,1024.9 902.2,1024.0 901.5,1024.0 899.5,1024.0 899.1,1024.0 897.5,1024.0 896.0,1024.0 895.5,1024.0 893.5,1024.0 892.9,1024.0 891.5,1023.1 889.9,1022.0 889.5,1022.0 887.5,1022.0 886.8,1022.0 885.5,1022.9 883.7,1024.0 883.5,1024.2 881.5,1025.6 880.7,1026.1 879.5,1026.1 877.6,1026.1 877.5,1026.2 875.5,1027.5 874.5,1028.1 873.5,1027.5 871.5,1026.2 871.4,1026.1 869.5,1026.1 868.4,1026.1 867.5,1026.1 865.5,1026.1 865.3,1026.1 863.5,1024.9 862.2,1024.0 861.5,1023.6 859.5,1022.2 859.2,1022.0 857.5,1022.0 856.7,1022.0 855.5,1022.0 854.0,1022.0 853.5,1021.7 851.5,1020.3 851.0,1019.9 849.5,1021.9 847.9,1024.0 847.5,1024.0 845.5,1024.0 844.8,1024.0 843.5,1024.9 841.7,1026.1 841.5,1026.0 839.5,1024.6 838.7,1024.0 837.5,1024.8 835.6,1026.1 835.5,1026.1 833.5,1024.7 832.5,1024.0 831.5,1017.9 829.5,1005.6 827.5,1003.0 826.4,1001.5 825.5,999.1 823.5,993.8 823.3,993.3 821.5,987.8 821.3,987.2 819.5,990.7 819.2,991.3 817.5,996.9 816.1,1001.5 815.5,1003.2 813.5,1008.6 813.1,1009.7 811.5,1009.7 810.0,1009.7 809.5,1009.4 809.0,1009.1 807.5,1009.9 805.6,1010.8 805.5,1011.0 803.5,1014.0 802.2,1015.9 801.5,1016.3 799.5,1017.3 798.8,1017.6 797.5,1018.3 795.5,1019.3 795.4,1019.3 793.5,1020.3 792.0,1021.0 791.5,1021.3 789.5,1022.3 788.6,1022.7 787.5,1023.3 785.5,1024.2 785.1,1024.4 783.5,1025.2 781.7,1026.1 781.5,1026.2 779.5,1027.2 778.3,1027.8 777.5,1028.2 775.5,1029.2 774.9,1029.5 773.5,1028.6 772.3,1027.8 771.5,1026.7 769.8,1024.4 769.5,1022.9 767.5,1012.4 767.2,1010.8 765.5,986.9 763.5,985.6 763.0,985.2 761.5,986.2 760.4,986.9 759.5,986.0 757.5,984.0 757.0,983.5 755.5,982.0 753.6,980.0 753.5,980.1 751.5,981.5 751.0,981.8 749.5,984.9 748.5,986.9 747.5,987.9 745.5,989.8 745.0,990.3 743.5,991.8 741.6,993.7 741.5,993.7 739.5,992.7 738.2,992.0 737.5,990.6 735.5,986.6 734.8,985.2 733.5,980.6 731.5,973.6 731.4,973.2 729.5,972.3 728.0,971.5 727.5,972.3 725.5,975.3 724.6,976.6 723.5,984.6 722.0,995.4 721.5,995.4 719.5,995.4 718.6,995.4 717.5,995.9 715.5,996.6 714.3,997.1 713.5,997.1 711.5,997.1 710.9,997.1 709.5,995.0 707.5,992.0 705.5,989.0 704.1,986.9 703.5,986.3 701.5,984.3 700.7,983.5 699.5,982.3 697.5,980.2 697.3,980.0 695.5,981.9 693.9,983.5 693.5,984.0 691.5,986.4 689.6,988.6 689.5,988.8 687.5,991.8 686.2,993.7 685.5,994.4 683.5,996.4 682.8,997.1 681.5,997.8 679.5,998.8 679.4,998.8 677.5,997.9 675.9,997.1 675.5,996.7 673.5,994.7 672.5,993.7 671.5,992.7 669.5,990.7 669.1,990.3 667.5,994.3 665.7,998.8 665.5,998.8 663.5,998.8 662.3,998.8 661.5,999.2 659.5,1000.2 658.9,1000.5 657.5,1003.3 655.5,1007.3 653.5,1010.4 652.1,1012.5 651.5,1012.8 649.5,1013.8 648.6,1014.2 647.5,1014.8 645.5,1015.8 645.2,1015.9 643.5,1016.8 641.8,1017.6 641.5,1017.8 639.5,1018.8 638.4,1019.3 637.5,1020.2 635.5,1022.2 635.0,1022.7 633.6,1023.1 633.5,1023.2 631.5,1024.1 630.5,1024.6 629.5,1024.6 627.5,1024.6 627.4,1024.6 625.5,1023.7 624.3,1023.1 623.5,1022.7 621.5,1021.7 621.3,1021.6 619.5,1020.7 618.2,1020.0 617.5,1020.4 615.5,1021.4 615.1,1021.6 613.5,1022.4 612.1,1023.1 611.5,1022.9 609.5,1022.1 608.2,1021.6 607.5,1021.6 605.5,1021.6 605.1,1021.6 603.5,1020.8 602.1,1020.0 601.5,1019.2 599.8,1017.0 599.5,1015.3 598.2,1007.7 597.5,1000.7 595.9,984.7 595.5,983.4 593.6,977.0 593.5,977.2 591.5,981.2 591.3,981.6 589.5,981.6 589.0,981.6 587.5,975.6 586.7,972.4 585.5,970.9 584.4,969.4 583.5,970.6 582.1,972.4 581.5,974.0 579.8,978.6 579.5,979.1 577.5,982.0 576.7,983.2 575.5,983.8 573.7,984.7 573.5,985.1 571.5,989.1 570.6,990.9 569.5,990.9 567.5,990.9 565.5,990.9 564.4,990.9 563.5,990.9 561.5,990.9 561.4,990.9 559.5,991.8 558.3,992.4 557.5,992.8 555.5,993.8 555.2,993.9 553.5,993.9 552.2,993.9 551.5,994.6 549.5,996.6 549.1,997.0 547.5,998.6 546.0,1000.1 545.5,1000.6 543.5,1002.5 542.9,1003.1 541.5,1004.6 539.9,1006.2 539.5,1006.8 537.6,1009.3 537.5,1009.3 535.5,1009.3 535.3,1009.3 533.5,1008.4 532.2,1007.7 531.5,1007.0 529.5,1005.1 529.1,1004.7 527.5,1002.3 526.0,1000.1 525.5,999.1 523.5,995.0 523.0,993.9 521.5,992.5 519.9,990.9 519.5,990.5 517.5,988.5 516.8,987.8 515.5,985.8 513.8,983.2 513.5,983.4 511.5,984.3 510.7,984.7 509.5,984.7 507.6,984.7 507.5,984.7 505.5,984.7 504.5,984.7 503.5,984.7 501.5,984.7 500.7,984.7 499.5,984.7 497.6,984.7 497.5,984.9 495.5,989.1 494.6,990.9 493.5,992.6 491.5,995.5 489.5,993.5 488.4,992.4 487.5,990.2 485.5,985.2 485.3,984.7 483.5,982.3 483.0,981.6 481.5,980.9 480.0,980.1 479.5,980.4 477.5,981.3 476.9,981.6 475.5,982.6 474.6,983.2 473.5,983.8 471.5,984.7 469.5,987.4 469.2,987.8 467.5,986.9 466.1,986.2 465.5,985.9 463.5,984.9 463.1,984.7 461.5,984.7 460.0,984.7 459.5,985.6 458.3,987.6 457.5,987.6 455.5,987.6 454.7,987.6 453.5,989.2 451.5,991.9 451.1,992.4 449.5,993.5 447.6,994.7 447.5,994.8 445.5,996.1 444.0,997.1 443.5,997.5 441.5,998.8 440.4,999.5 439.5,1000.1 437.5,1001.5 436.8,1001.9 435.5,1001.9 433.5,1001.9 433.2,1001.9 431.5,1000.2 429.5,998.2 428.4,997.1 427.5,997.7 425.5,999.1 424.9,999.5 423.5,999.5 421.5,999.5 421.3,999.5 419.5,999.5 417.7,999.5 417.5,999.4 415.5,998.1 414.1,997.1 413.5,996.3 411.5,993.7 410.5,992.4 409.5,993.1 407.5,994.3 406.9,994.7 405.5,993.8 403.5,992.5 403.3,992.4 401.5,991.2 399.8,990.0 399.5,989.8 397.5,988.1 396.9,987.6 395.5,987.6 393.8,987.6 393.5,987.6 391.5,987.6 391.4,987.6 389.5,983.8 389.0,982.8 387.5,984.0 385.9,985.2 385.5,985.2 383.5,985.2 383.0,985.2 381.5,983.7 380.6,982.8 379.5,984.3 377.5,987.0 377.0,987.6 375.5,986.6 373.5,985.2 371.5,983.9 369.9,982.8 369.5,982.8 367.5,982.8 366.3,982.8 365.5,985.5 363.5,992.1 363.4,992.4 361.5,986.5 360.3,982.8 359.5,982.2 357.5,980.7 357.2,980.4 355.5,979.0 354.3,978.0 353.5,977.5 351.5,976.2 350.7,975.6 349.5,979.3 347.6,985.2 347.5,985.3 345.5,987.0 344.8,987.6 343.5,985.9 341.5,983.2 341.2,982.8 339.5,982.8 338.1,982.8 337.5,985.8 335.5,995.6 335.2,997.1 333.5,994.9 331.6,992.4 331.5,992.3 329.5,989.6 328.0,987.6 327.5,987.6 325.5,987.6 325.2,987.6 323.5,987.6 322.1,987.6 321.5,988.0 319.5,989.4 318.5,990.0 317.5,991.0 316.1,992.4 315.5,992.8 313.5,994.1 312.5,994.7 311.5,996.1 309.5,998.7 308.9,999.5 307.5,1002.3 305.5,1006.3 305.3,1006.7 303.5,1012.3 302.2,1016.3 301.5,1016.9 299.5,1018.6 299.3,1018.7 297.5,1020.1 295.5,1021.5 294.6,1022.2 293.5,1021.7 291.5,1020.7 289.8,1019.8 289.5,1019.8 287.5,1019.3 285.5,1018.8 285.0,1018.7 283.5,1019.6 283.0,1019.9 281.5,1018.9 280.0,1017.9 279.5,1016.9 277.5,1013.0 276.9,1011.8 275.5,1009.0 273.8,1005.6 273.5,1005.2 271.5,1002.5 270.8,1001.5 269.5,998.1 267.7,993.3 267.5,991.9 265.5,977.4 264.6,970.8 263.5,971.5 261.5,972.8 259.5,976.9 257.5,983.5 257.0,985.1 255.5,987.5 254.4,989.2 253.5,991.6 251.5,996.9 251.3,997.4 249.5,1003.4 248.2,1007.7 247.5,1007.2 245.5,1005.8 245.2,1005.6 243.5,1001.1 242.1,997.4 241.5,997.4 240.0,997.4 239.5,998.1 237.5,1000.8 237.0,1001.5 235.5,1003.5 233.9,1005.6 233.5,1004.0 231.5,996.1 230.8,993.3 229.5,988.9 228.4,985.1 227.5,987.9 225.7,993.3 225.5,994.2 223.5,1003.5 222.6,1007.7 221.5,1007.0 219.6,1005.6 219.5,1005.5 217.5,1002.8 216.5,1001.5 215.5,1002.2 213.5,1003.6 213.4,1003.6 211.5,1004.8 210.3,1005.6 209.5,1004.0 208.3,1001.5 207.5,1002.1 205.5,1003.4 205.2,1003.6 203.5,1002.4 202.2,1001.5 201.5,1001.1 199.5,999.8 199.1,999.5 197.5,998.4 196.0,997.4 195.5,996.1 193.6,991.3 193.5,991.2 191.5,989.7 190.9,989.2 189.5,992.9 187.8,997.4 187.5,997.4 185.5,997.4 185.4,997.4 183.7,993.3 183.5,993.9 181.5,999.3 180.7,1001.5 179.5,1007.1 177.6,1015.8 177.5,1015.7 175.5,1014.1 175.1,1013.8 173.5,1011.3 172.5,1009.7 171.5,1008.8 170.4,1007.7 169.5,1005.9 167.5,1001.9 167.3,1001.5 165.5,1001.5 164.3,1001.5 163.5,1001.0 161.5,999.7 161.2,999.5 159.5,998.2 158.5,997.4 157.5,995.7 156.1,993.3 155.5,993.9 154.0,995.4 153.5,996.4 151.5,1000.5 151.0,1001.5 149.5,1003.5 147.9,1005.6 147.5,1005.1 145.5,1002.4 144.8,1001.5 143.5,1000.7 141.7,999.5 141.5,999.7 139.7,1001.5 139.5,1001.8 137.5,1004.4 136.6,1005.6 135.5,1004.1 133.6,1001.5 133.5,1001.8 131.5,1007.1 130.5,1009.7 129.5,1012.6 128.4,1015.8 127.5,1016.5 125.5,1017.9 125.4,1017.9 123.5,1014.2 122.3,1011.8 121.5,1011.3 119.5,1009.9 119.2,1009.7 117.5,1008.6 116.1,1007.7 115.5,1007.7" fill="#1f77b4"/><path d="M115.5 938.2h0M114.9 1006.5h0M115.8 933.8h0M116.6 1007.2h0M117.6 931.8h0M117.9 1008.1h0M118.9 929.4h0M118.9 1009.2h0M118.9 930.3h0M119.0 1009.7h0M121.9 935.6h0M121.5 1010.4h0M123.0 939.2h0M122.4 1011.4h0M123.0 933.7h0M122.9 1013.2h0M125.8 929.0h0M126.1 1017.3h0M125.5 929.3h0M124.8 1017.8h0M128.1 940.7h0M127.1 1015.6h0M128.4 945.8h0M128.8 1015.4h0M130.0 942.2h0M130.0 1011.9h0M131.0 937.9h0M129.8 1008.8h0M132.1 928.9h0M131.5 1006.8h0M132.7 912.0h0M133.9 1000.8h0M133.3 911.3h0M133.8 1000.8h0M136.2 909.8h0M135.5 1003.8h0M136.5 909.5h0M135.8 1004.8h0M138.2 913.7h0M138.1 1004.0h0M139.1 920.5h0M139.0 1000.7h0M139.0 921.7h0M139.2 1001.5h0M141.2 906.7h0M141.0 999.5h0M140.9 904.9h0M141.6 997.5h0M143.7 919.0h0M143.9 1000.4h0M144.7 930.1h0M145.0 1000.9h0M145.2 930.1h0M145.0 1001.1h0M147.1 931.1h0M146.8 1005.0h0M148.3 932.0h0M147.3 1005.6h0M149.4 930.7h0M149.4 1002.9h0M151.5 930.7h0M150.8 1001.0h0M151.3 921.3h0M151.0 1000.0h0M153.2 885.3h0M153.6 996.0h0M154.4 876.2h0M154.4 994.7h0M156.2 847.6h0M155.5 992.9h0M156.1 836.4h0M155.5 993.3h0M158.0 828.3h0M157.9 995.3h0M157.9 823.8h0M158.3 996.9h0M160.1 850.9h0M159.3 996.7h0M161.7 896.6h0M162.0 999.5h0M161.8 899.9h0M161.2 999.5h0M164.2 921.4h0M164.3 1000.8h0M164.1 929.4h0M164.1 1001.4h0M165.5 933.5h0M165.5 1000.8h0M167.0 940.5h0M167.2 1000.3h0M168.1 940.3h0M167.2 999.3h0M170.1 947.8h0M170.0 1005.8h0M170.2 949.9h0M169.6 1006.6h0M171.3 943.6h0M170.9 1007.3h0M172.6 933.5h0M173.0 1008.8h0M174.1 932.0h0M173.7 1011.0h0M175.6 925.2h0M174.4 1012.1h0M175.6 926.1h0M175.5 1013.6h0M176.8 929.6h0M177.8 1014.7h0M177.1 929.5h0M177.0 1015.8h0M178.9 899.8h0M179.1 1006.9h0M180.0 880.6h0M180.2 1001.1h0M181.4 867.7h0M182.2 999.0h0M183.8 836.1h0M184.2 993.6h0M183.1 831.7h0M183.0 992.3h0M185.0 822.9h0M185.1 996.0h0M185.9 824.6h0M185.7 996.9h0M187.4 849.9h0M187.0 997.4h0M187.0 854.2h0M187.3 997.0h0M189.4 859.2h0M189.2 992.7h0M191.4 864.3h0M190.2 988.3h0M191.9 863.2h0M190.9 989.6h0M193.2 856.7h0M192.8 990.9h0M193.8 858.4h0M193.0 990.7h0M194.8 878.3h0M195.7 995.6h0M196.5 884.6h0M196.7 997.0h0M197.8 908.4h0M196.7 997.8h0M199.8 933.6h0M199.8 998.6h0M199.9 929.3h0M199.0 999.5h0M201.6 905.4h0M201.5 1000.8h0M202.3 896.6h0M202.7 1000.9h0M203.3 895.0h0M203.7 1002.4h0M205.0 893.2h0M205.4 1002.3h0M204.8 894.3h0M205.0 1003.3h0M208.3 901.5h0M207.3 1000.8h0M208.5 905.3h0M207.6 1001.2h0M209.1 909.3h0M210.0 1003.8h0M210.0 911.7h0M210.7 1005.6h0M212.0 901.7h0M211.0 1004.8h0M212.9 885.6h0M213.4 1003.4h0M213.5 884.4h0M213.0 1003.1h0M215.1 877.8h0M215.5 1001.5h0M216.0 874.8h0M216.3 1000.0h0M217.5 877.6h0M218.0 1002.5h0M220.0 884.8h0M220.2 1005.0h0M219.1 885.1h0M219.5 1005.6h0M221.3 846.4h0M221.0 1005.9h0M222.7 823.5h0M222.0 1006.2h0M223.8 813.8h0M223.3 1002.5h0M226.0 790.8h0M225.0 993.8h0M225.5 788.9h0M225.3 992.4h0M227.5 778.2h0M227.3 986.8h0M228.2 774.0h0M228.9 984.4h0M229.1 789.5h0M230.2 987.4h0M231.0 808.3h0M231.1 992.7h0M231.2 821.2h0M231.3 994.3h0M234.3 857.1h0M233.7 1003.7h0M233.2 864.7h0M234.7 1004.9h0M236.1 853.5h0M235.8 1002.6h0M236.9 843.9h0M236.7 1001.4h0M237.1 835.7h0M237.6 1000.3h0M239.1 805.7h0M239.5 997.6h0M240.2 798.2h0M240.6 997.0h0M240.9 789.2h0M240.9 996.8h0M242.2 785.5h0M242.4 996.4h0M243.4 808.5h0M244.1 999.9h0M244.7 835.4h0M244.7 1005.6h0M245.2 839.9h0M245.6 1005.6h0M246.7 857.5h0M247.9 1007.1h0M247.9 865.4h0M247.8 1006.5h0M250.2 875.0h0M249.8 1002.8h0M251.8 890.6h0M251.5 997.2h0M252.1 890.1h0M252.1 996.1h0M253.3 887.4h0M254.1 991.0h0M254.0 884.4h0M254.1 988.6h0M254.7 862.1h0M255.2 987.1h0M256.8 831.1h0M256.5 984.0h0M257.9 826.3h0M258.1 983.3h0M260.0 804.2h0M259.4 976.6h0M261.0 789.5h0M261.2 972.8h0M263.9 828.1h0M262.8 970.6h0M264.3 848.4h0M264.3 970.2h0M265.6 855.9h0M265.9 976.8h0M267.5 875.3h0M268.1 991.7h0M267.6 876.2h0M267.6 992.4h0M269.5 889.6h0M269.8 996.7h0M271.0 899.3h0M270.2 1000.3h0M272.2 904.2h0M272.3 1002.0h0M274.0 913.9h0M274.1 1004.1h0M274.1 916.7h0M273.9 1004.7h0M275.5 927.1h0M274.9 1008.3h0M277.3 936.4h0M277.4 1010.8h0M277.7 941.2h0M277.0 1012.5h0M278.8 957.4h0M278.8 1015.8h0M280.5 960.2h0M279.4 1017.7h0M281.6 984.3h0M281.0 1018.1h0M283.6 1007.2h0M283.0 1019.8h0M283.1 1008.1h0M283.5 1019.5h0M284.8 1007.8h0M284.8 1018.1h0M286.2 1008.0h0M286.3 1017.2h0M288.0 1010.1h0M287.1 1018.7h0M289.3 1012.8h0M289.0 1019.1h0M289.5 1013.1h0M289.3 1018.9h0M291.3 1015.9h0M290.8 1020.4h0M294.2 1015.5h0M293.0 1021.2h0M293.9 1015.0h0M294.4 1021.5h0M296.1 1015.9h0M296.2 1021.3h0M297.6 1013.2h0M296.8 1018.8h0M299.3 1014.2h0M299.2 1018.7h0M299.0 1011.1h0M299.0 1018.3h0M301.2 998.4h0M302.0 1015.4h0M302.4 993.5h0M302.1 1015.6h0M304.0 968.4h0M303.5 1010.6h0M305.3 933.7h0M306.1 1005.0h0M305.2 935.7h0M305.3 1005.9h0M307.5 950.0h0M308.1 1002.0h0M308.7 959.7h0M308.3 998.9h0M310.0 962.1h0M310.1 998.2h0M311.0 963.3h0M312.0 995.1h0M312.0 964.8h0M312.9 993.4h0M313.2 963.4h0M313.3 993.9h0M315.9 958.6h0M315.5 990.9h0M316.2 958.9h0M316.3 991.4h0M318.1 941.1h0M318.2 990.6h0M318.9 926.9h0M318.1 989.5h0M320.2 917.7h0M319.2 988.5h0M321.9 899.3h0M322.1 987.8h0M322.7 893.5h0M321.7 986.9h0M324.3 879.7h0M322.8 987.2h0M325.6 862.0h0M324.5 987.0h0M326.1 869.1h0M325.2 987.1h0M327.2 910.1h0M327.3 987.1h0M327.8 917.2h0M327.3 985.5h0M330.1 921.6h0M329.8 988.2h0M331.3 926.4h0M331.9 991.2h0M331.0 926.2h0M331.9 991.6h0M334.0 874.8h0M333.2 994.2h0M334.6 828.7h0M334.6 996.2h0M335.7 831.7h0M334.8 994.5h0M337.9 849.3h0M337.7 984.7h0M337.6 854.7h0M338.9 982.3h0M340.1 865.4h0M339.8 982.3h0M340.5 879.2h0M340.8 981.8h0M341.7 881.9h0M341.3 982.1h0M344.2 897.8h0M342.9 985.3h0M345.5 907.3h0M345.6 987.5h0M346.1 906.4h0M344.7 986.9h0M347.2 903.2h0M348.0 985.1h0M348.2 903.2h0M347.4 984.4h0M350.2 886.1h0M349.4 979.3h0M351.4 875.1h0M350.2 975.4h0M351.9 876.9h0M350.9 975.9h0M353.8 881.9h0M354.0 976.1h0M354.8 883.3h0M354.3 976.9h0M356.1 879.2h0M354.8 977.4h0M356.5 874.6h0M357.6 979.3h0M356.7 868.2h0M357.2 978.3h0M359.9 828.3h0M358.8 982.1h0M360.8 812.0h0M359.8 981.7h0M360.9 828.6h0M361.7 986.5h0M363.4 855.3h0M363.8 991.8h0M364.1 856.9h0M364.2 991.5h0M364.8 903.9h0M365.2 985.2h0M365.7 921.7h0M365.9 982.7h0M367.9 923.4h0M368.1 982.3h0M370.1 925.9h0M369.0 982.6h0M369.5 927.3h0M369.7 982.7h0M371.4 922.5h0M371.1 982.9h0M373.2 916.7h0M373.5 984.8h0M375.2 901.1h0M376.1 986.2h0M376.3 888.0h0M376.6 986.2h0M377.6 891.0h0M377.7 986.6h0M379.0 887.0h0M379.6 983.7h0M380.0 885.6h0M381.4 981.6h0M382.0 877.5h0M382.2 983.5h0M383.4 861.9h0M383.1 984.9h0M383.2 866.6h0M383.4 985.0h0M384.7 880.4h0M385.1 984.1h0M385.4 883.9h0M386.7 984.9h0M388.2 882.3h0M386.9 982.1h0M388.8 880.8h0M388.7 982.2h0M389.5 887.3h0M390.0 983.0h0M391.0 908.1h0M391.6 987.5h0M391.3 907.5h0M391.4 986.4h0M393.7 915.8h0M394.3 987.5h0M394.6 917.8h0M394.1 986.4h0M395.7 907.5h0M396.0 987.5h0M396.8 898.5h0M396.8 987.2h0M396.9 905.6h0M398.2 988.0h0M399.3 932.1h0M399.9 989.4h0M400.3 936.5h0M399.4 989.9h0M401.5 938.8h0M401.0 990.5h0M403.7 941.9h0M403.7 991.7h0M404.2 941.6h0M403.5 991.8h0M405.1 946.9h0M406.3 993.5h0M407.0 948.4h0M407.1 994.7h0M407.0 949.1h0M407.7 993.9h0M408.8 950.0h0M409.2 992.3h0M410.7 950.1h0M410.6 992.2h0M411.2 952.4h0M411.6 992.6h0M413.1 954.9h0M413.6 995.8h0M413.3 956.9h0M414.8 996.4h0M416.2 954.7h0M415.6 997.1h0M417.4 952.8h0M417.1 998.5h0M417.7 953.3h0M418.4 999.2h0M419.3 954.0h0M418.8 997.3h0M421.5 955.2h0M421.9 999.3h0M421.2 954.9h0M421.0 997.2h0M424.1 956.4h0M423.1 999.3h0M424.2 955.7h0M424.6 998.2h0M425.5 952.0h0M426.2 999.1h0M427.4 937.4h0M427.2 995.5h0M428.2 931.0h0M428.6 996.9h0M429.3 929.4h0M430.0 997.6h0M432.0 926.9h0M432.0 998.4h0M433.2 924.2h0M432.8 1000.7h0M433.0 925.2h0M434.0 1001.6h0M435.7 931.5h0M434.9 1001.7h0M436.1 936.3h0M436.9 1001.1h0M437.0 938.8h0M437.4 1000.7h0M439.7 943.7h0M439.5 999.6h0M441.0 945.6h0M440.5 998.2h0M441.8 946.8h0M441.1 997.6h0M443.9 945.8h0M443.1 996.9h0M444.1 946.4h0M444.4 997.0h0M445.3 939.5h0M446.2 995.4h0M447.8 932.8h0M447.7 993.5h0M447.1 932.0h0M448.1 994.5h0M449.6 941.9h0M450.2 992.6h0M451.6 950.8h0M451.5 991.7h0M452.1 948.6h0M452.3 991.7h0M453.1 939.3h0M453.5 988.7h0M454.3 933.4h0M455.4 987.4h0M455.4 931.0h0M456.0 986.8h0M457.4 922.6h0M457.7 986.8h0M458.8 920.2h0M458.9 986.9h0M458.9 915.2h0M459.6 985.1h0M459.9 914.1h0M459.3 984.7h0M462.2 917.3h0M460.9 984.3h0M463.1 919.7h0M463.1 984.6h0M462.8 921.0h0M463.7 984.6h0M466.2 927.2h0M465.5 985.5h0M465.5 929.8h0M466.4 986.0h0M468.0 929.2h0M466.8 986.7h0M469.3 929.5h0M469.8 987.5h0M470.3 929.1h0M469.4 985.8h0M471.8 920.4h0M472.2 982.9h0M473.0 928.3h0M473.6 983.2h0M474.5 933.7h0M474.7 982.1h0M476.1 934.6h0M474.9 981.2h0M477.1 938.5h0M476.8 980.6h0M476.8 935.1h0M477.7 980.3h0M479.9 926.8h0M479.1 977.8h0M480.4 923.7h0M479.3 980.0h0M482.2 922.4h0M481.0 980.7h0M483.2 921.8h0M482.6 981.0h0M483.5 923.0h0M484.2 981.3h0M485.9 923.3h0M485.9 983.4h0M485.6 922.6h0M484.7 984.8h0M486.9 917.8h0M487.8 989.8h0M488.5 915.1h0M488.9 992.1h0M489.8 915.1h0M488.8 993.2h0M490.7 911.1h0M490.7 994.2h0M493.2 914.9h0M494.0 992.2h0M495.3 918.7h0M494.9 989.9h0M494.9 920.5h0M494.8 988.4h0M497.2 926.4h0M497.4 984.0h0M498.2 926.4h0M496.8 984.6h0M499.3 928.8h0M498.9 984.6h0M500.4 931.6h0M500.4 984.1h0M501.4 932.5h0M501.9 984.6h0M502.7 934.0h0M502.9 984.1h0M504.3 936.4h0M504.9 984.6h0M505.8 937.0h0M506.3 984.3h0M507.3 938.7h0M506.8 983.7h0M508.0 938.1h0M508.2 984.6h0M509.4 939.5h0M510.1 983.6h0M510.6 938.4h0M510.1 983.8h0M511.0 941.0h0M511.9 982.2h0M513.8 947.1h0M514.1 982.9h0M513.8 948.1h0M513.8 982.5h0M515.0 953.4h0M515.8 984.5h0M517.2 955.7h0M516.0 987.5h0M517.2 957.1h0M517.3 988.2h0M519.1 962.7h0M518.7 990.0h0M520.5 964.0h0M520.5 989.9h0M522.3 967.3h0M521.0 990.6h0M522.3 970.4h0M523.2 993.6h0M523.8 971.8h0M523.0 992.6h0M524.7 977.1h0M525.0 998.9h0M526.6 978.9h0M526.4 998.8h0M527.5 982.8h0M526.9 1000.1h0M528.4 986.8h0M528.7 1004.6h0M529.1 986.5h0M529.6 1004.9h0M530.7 989.9h0M531.7 1006.1h0M532.7 991.0h0M532.0 1007.3h0M533.5 992.4h0M533.9 1006.9h0M534.6 993.9h0M534.6 1009.2h0M535.6 995.5h0M535.4 1008.8h0M537.6 993.9h0M537.9 1008.6h0M537.3 994.0h0M538.0 1007.0h0M539.1 989.8h0M539.4 1006.0h0M540.5 989.7h0M539.7 1004.5h0M542.2 984.9h0M541.6 1004.3h0M543.3 981.4h0M543.1 1002.1h0M543.2 981.1h0M542.9 1000.8h0M545.0 976.8h0M545.5 999.7h0M545.6 975.2h0M546.6 999.5h0M547.8 972.1h0M547.1 996.9h0M548.4 969.9h0M548.4 996.9h0M549.7 968.0h0M550.0 994.9h0M551.5 962.4h0M551.9 994.6h0M551.8 959.7h0M552.8 993.6h0M553.2 958.6h0M553.2 993.0h0M555.0 956.5h0M554.7 993.4h0M554.9 956.4h0M555.6 992.7h0M558.2 954.5h0M558.0 992.2h0M558.1 953.4h0M558.9 991.4h0M559.7 953.0h0M560.3 991.7h0M561.5 952.5h0M560.9 990.4h0M561.6 952.4h0M562.2 990.4h0M563.5 952.1h0M564.2 988.5h0M563.8 953.8h0M564.7 990.4h0M565.7 951.2h0M566.0 990.2h0M568.2 947.9h0M567.9 989.2h0M569.6 945.1h0M570.1 990.8h0M570.8 943.7h0M569.9 989.9h0M570.7 941.4h0M571.1 988.5h0M573.7 936.9h0M573.4 985.1h0M573.7 935.0h0M572.9 984.0h0M576.2 924.5h0M575.8 982.8h0M576.8 917.8h0M576.8 981.4h0M577.7 916.5h0M578.2 981.2h0M579.6 914.1h0M580.0 977.1h0M579.6 914.7h0M580.0 978.3h0M581.2 913.1h0M581.8 973.0h0M582.1 910.9h0M582.3 970.8h0M583.8 910.2h0M583.1 970.5h0M584.6 910.4h0M583.6 969.4h0M585.1 910.2h0M585.2 970.5h0M587.0 911.1h0M586.8 971.6h0M588.2 915.7h0M587.2 974.1h0M588.5 923.3h0M588.4 981.0h0M589.9 922.9h0M588.7 980.4h0M591.0 922.4h0M592.0 981.4h0M591.5 921.1h0M590.9 981.2h0M594.0 920.5h0M593.8 976.1h0M593.4 920.9h0M593.3 975.9h0M595.8 928.2h0M596.3 982.9h0M595.3 929.2h0M596.1 984.5h0M596.8 939.8h0M597.4 1000.4h0M597.6 946.5h0M598.0 1006.4h0M598.9 982.0h0M599.4 1014.1h0M599.8 991.5h0M600.4 1016.7h0M601.1 1007.8h0M601.0 1018.8h0M601.4 1013.5h0M601.4 1019.1h0M604.2 1014.4h0M604.1 1019.8h0M605.5 1017.2h0M605.3 1021.0h0M605.7 1015.7h0M605.9 1021.1h0M607.2 1016.4h0M607.5 1021.2h0M607.8 1016.4h0M608.5 1021.2h0M610.0 1017.2h0M609.3 1020.5h0M611.7 1018.2h0M611.2 1022.0h0M611.6 1018.5h0M611.4 1023.1h0M614.3 1017.6h0M613.0 1021.5h0M615.0 1015.4h0M614.8 1020.8h0M616.2 1016.6h0M614.8 1021.1h0M617.9 1014.0h0M617.3 1019.7h0M618.4 1013.7h0M618.1 1019.3h0M618.9 1014.0h0M619.0 1019.8h0M621.0 1015.3h0M621.4 1019.3h0M621.6 1016.5h0M621.6 1020.3h0M623.3 1017.4h0M622.8 1022.5h0M624.4 1017.0h0M624.8 1022.7h0M625.1 1017.6h0M624.9 1023.5h0M627.1 1019.6h0M627.0 1023.6h0M627.2 1021.0h0M628.2 1024.0h0M629.9 1019.8h0M629.8 1024.4h0M630.0 1019.8h0M630.4 1024.1h0M631.1 1019.6h0M630.9 1023.6h0M632.7 1018.7h0M633.3 1021.0h0M633.1 1018.2h0M633.5 1022.4h0M634.3 1016.7h0M635.0 1021.5h0M635.7 1016.0h0M635.4 1020.4h0M638.3 1013.1h0M638.3 1018.0h0M639.1 1012.0h0M638.9 1018.2h0M639.3 1011.8h0M640.2 1017.1h0M642.0 1010.3h0M641.5 1017.7h0M641.4 1010.6h0M642.5 1016.9h0M643.4 1008.1h0M644.1 1016.2h0M644.6 1007.5h0M645.8 1014.7h0M645.6 1006.5h0M644.9 1014.7h0M647.2 1005.5h0M647.3 1013.8h0M648.5 1004.5h0M649.3 1013.9h0M649.7 1002.0h0M649.0 1013.0h0M650.9 995.3h0M651.0 1012.2h0M651.9 993.3h0M652.3 1011.9h0M654.0 986.5h0M654.2 1010.0h0M655.4 977.4h0M655.7 1007.2h0M657.5 966.6h0M656.7 1001.8h0M658.9 959.3h0M658.9 999.5h0M658.9 957.4h0M659.9 998.3h0M661.5 953.1h0M661.9 998.8h0M661.7 951.1h0M662.3 998.0h0M664.2 953.3h0M663.9 997.5h0M665.2 954.1h0M665.9 998.6h0M666.0 953.7h0M664.9 998.6h0M666.9 956.0h0M667.5 994.3h0M669.8 957.0h0M669.2 989.8h0M669.8 957.7h0M669.9 989.5h0M670.9 962.9h0M671.8 992.7h0M672.8 965.7h0M672.6 993.2h0M673.4 969.1h0M673.1 994.4h0M675.7 972.7h0M675.4 996.2h0M676.3 973.4h0M675.6 996.2h0M677.0 975.3h0M677.3 997.6h0M679.6 978.1h0M679.5 998.5h0M679.5 977.6h0M680.2 998.5h0M680.8 974.0h0M681.2 997.2h0M682.4 972.6h0M682.2 996.9h0M683.9 969.2h0M683.2 996.2h0M686.2 961.3h0M686.0 993.5h0M686.9 959.4h0M686.1 993.1h0M687.3 953.6h0M687.6 991.5h0M689.5 946.2h0M689.3 988.3h0M690.1 945.5h0M689.2 988.0h0M691.3 939.6h0M690.8 986.1h0M694.1 934.0h0M693.7 983.3h0M693.4 934.1h0M694.3 982.4h0M695.7 937.8h0M695.2 980.1h0M696.9 940.1h0M696.8 979.3h0M697.7 940.7h0M697.7 979.5h0M699.7 948.6h0M699.3 981.7h0M701.1 952.4h0M700.3 981.7h0M701.7 953.3h0M701.8 983.4h0M702.9 957.0h0M703.0 984.8h0M703.4 957.2h0M704.6 986.5h0M706.1 957.6h0M704.8 988.5h0M706.7 960.7h0M706.8 991.6h0M708.8 964.9h0M710.3 994.6h0M711.2 969.2h0M710.4 995.9h0M711.2 969.1h0M711.9 995.9h0M713.4 970.0h0M713.9 996.0h0M713.9 971.4h0M715.0 996.0h0M714.8 971.6h0M714.8 996.6h0M718.1 971.6h0M718.1 995.4h0M718.7 972.1h0M719.2 995.3h0M719.2 966.8h0M719.9 994.6h0M721.6 954.5h0M721.2 993.6h0M722.5 952.2h0M721.7 995.3h0M722.9 937.7h0M723.4 984.4h0M724.4 927.8h0M724.1 974.8h0M725.7 925.2h0M726.1 974.1h0M727.6 920.1h0M727.3 972.3h0M728.6 918.5h0M728.7 971.1h0M728.9 920.7h0M729.6 971.4h0M731.4 924.5h0M731.5 973.1h0M731.5 925.3h0M731.7 972.1h0M733.8 941.6h0M733.5 980.4h0M734.8 951.6h0M735.3 984.6h0M735.0 953.8h0M735.0 985.8h0M736.7 960.4h0M737.4 989.5h0M738.9 963.2h0M738.0 990.7h0M739.1 964.8h0M740.1 991.5h0M741.6 965.8h0M741.7 993.7h0M741.3 965.4h0M741.2 993.4h0M743.1 962.1h0M743.8 991.8h0M745.0 959.6h0M744.5 989.8h0M745.8 957.6h0M745.6 989.6h0M747.2 950.1h0M747.5 986.7h0M747.8 946.6h0M749.2 986.6h0M750.1 944.2h0M749.6 984.8h0M751.6 938.9h0M751.1 980.6h0M751.9 934.7h0M751.3 981.3h0M752.7 919.9h0M753.1 979.3h0M753.2 920.0h0M754.2 979.5h0M754.7 928.0h0M755.8 982.0h0M756.5 934.6h0M756.6 983.0h0M757.0 935.7h0M757.8 983.8h0M759.0 934.6h0M759.4 985.1h0M760.4 934.8h0M760.9 986.9h0M762.2 933.0h0M761.6 985.3h0M762.8 929.8h0M763.7 985.1h0M763.4 930.0h0M763.4 984.1h0M765.3 931.1h0M766.2 985.8h0M767.1 952.5h0M766.6 1010.7h0M767.5 955.7h0M767.3 1012.2h0M768.9 981.0h0M768.9 1021.8h0M769.3 984.0h0M770.3 1023.3h0M771.9 1006.3h0M770.9 1026.6h0M771.7 1017.3h0M771.6 1027.4h0M773.4 1019.4h0M772.8 1027.8h0M775.3 1022.2h0M774.5 1028.3h0M775.5 1022.1h0M776.2 1028.9h0M776.9 1021.4h0M777.2 1027.6h0M778.4 1020.4h0M777.7 1027.7h0M780.3 1018.7h0M778.8 1026.3h0M782.2 1016.8h0M782.3 1025.5h0M782.2 1017.0h0M782.4 1025.0h0M783.2 1015.9h0M783.5 1023.4h0M785.2 1015.1h0M784.4 1023.6h0M784.7 1014.7h0M785.1 1023.9h0M788.3 1015.1h0M787.6 1022.5h0M788.1 1014.8h0M788.9 1022.6h0M789.1 1013.1h0M789.3 1021.3h0M791.1 1010.1h0M791.3 1020.3h0M791.7 1009.6h0M791.3 1020.2h0M793.7 1009.0h0M793.6 1018.9h0M795.4 1006.3h0M795.8 1018.4h0M794.8 1007.4h0M794.8 1017.7h0M796.8 1005.3h0M797.0 1017.2h0M799.5 1004.4h0M799.4 1017.5h0M800.1 1003.7h0M799.2 1014.8h0M801.8 998.1h0M802.1 1014.6h0M802.1 997.4h0M802.5 1015.4h0M802.8 989.2h0M803.6 1013.7h0M805.6 978.4h0M805.6 1008.5h0M806.3 979.3h0M806.3 1010.5h0M807.1 981.6h0M806.7 1009.5h0M809.4 982.3h0M808.5 1007.8h0M810.0 984.4h0M810.2 1008.8h0M809.6 985.0h0M809.6 1008.9h0M811.3 982.3h0M811.7 1009.6h0M813.0 979.2h0M812.7 1009.2h0M813.8 974.2h0M813.9 1008.5h0M816.0 952.4h0M816.2 1003.1h0M816.0 946.0h0M815.3 1000.8h0M817.5 929.5h0M816.8 996.6h0M818.8 907.0h0M818.7 988.8h0M819.2 908.3h0M820.1 989.5h0M822.1 906.7h0M821.5 985.9h0M822.0 907.4h0M822.0 986.8h0M823.7 921.7h0M823.1 992.2h0M823.1 924.5h0M823.5 993.2h0M825.1 952.8h0M825.6 998.5h0M826.3 964.8h0M826.9 1001.4h0M828.2 967.8h0M828.0 1002.9h0M829.5 970.8h0M829.8 1004.8h0M832.1 979.9h0M830.8 1017.8h0M832.0 985.2h0M832.4 1023.8h0M833.1 986.0h0M833.0 1023.4h0M835.6 986.8h0M835.3 1024.9h0M835.3 987.9h0M835.5 1025.9h0M837.6 991.7h0M837.8 1024.6h0M839.3 995.8h0M838.5 1023.6h0M840.1 994.9h0M839.2 1024.4h0M841.5 995.2h0M840.9 1025.9h0M841.4 995.3h0M841.4 1025.5h0M843.5 997.3h0M844.0 1024.6h0M845.2 999.7h0M845.3 1022.5h0M845.0 995.2h0M845.5 1022.6h0M848.3 985.5h0M847.7 1023.2h0M847.2 983.0h0M847.8 1022.9h0M848.8 976.8h0M849.7 1020.4h0M851.7 970.3h0M851.5 1019.6h0M851.6 973.9h0M852.1 1019.2h0M853.0 987.7h0M853.7 1021.3h0M854.2 991.6h0M853.6 1022.0h0M856.2 984.0h0M856.0 1021.9h0M856.0 979.1h0M856.3 1021.7h0M857.7 982.7h0M857.3 1021.9h0M860.0 984.6h0M859.8 1020.8h0M859.3 986.5h0M859.2 1022.1h0M861.4 995.6h0M861.6 1023.3h0M861.5 1000.3h0M862.2 1023.5h0M863.5 1000.0h0M863.2 1024.7h0M865.1 1001.1h0M865.0 1025.5h0M865.5 1000.4h0M866.1 1025.1h0M868.0 994.1h0M867.3 1025.8h0M867.7 991.5h0M868.2 1026.0h0M869.5 995.6h0M869.7 1025.8h0M871.2 1003.4h0M871.2 1025.2h0M872.0 1003.5h0M871.0 1026.0h0M874.2 1002.0h0M872.8 1026.1h0M874.6 1003.0h0M873.8 1027.5h0M874.9 999.2h0M876.1 1026.7h0M878.3 995.9h0M876.9 1026.0h0M877.2 995.9h0M876.9 1025.9h0M879.8 994.7h0M878.8 1025.4h0M881.4 993.3h0M880.6 1025.0h0M881.5 994.0h0M881.3 1024.3h0M882.7 995.3h0M884.3 1023.8h0M882.9 995.1h0M883.0 1022.6h0M885.3 993.8h0M885.9 1021.9h0M886.6 993.4h0M887.4 1021.3h0M887.0 993.6h0M888.2 1021.6h0M890.0 995.6h0M890.1 1021.7h0M890.1 995.8h0M889.9 1022.0h0M891.0 993.6h0M892.1 1021.9h0M893.3 991.1h0M892.2 1023.1h0M892.9 992.8h0M893.9 1023.7h0M894.8 996.9h0M896.2 1023.3h0M895.5 996.9h0M895.3 1022.3h0M898.0 999.0h0M897.9 1021.9h0M899.4 999.8h0M899.7 1023.6h0M900.2 995.5h0M899.9 1023.5h0M901.6 978.4h0M902.2 1023.7h0M902.3 970.6h0M902.8 1022.8h0M903.8 972.0h0M902.8 1024.7h0M904.7 974.5h0M905.2 1025.4h0M905.9 974.1h0M906.0 1025.6h0M907.1 970.9h0M907.2 1025.2h0M908.4 969.1h0M908.7 1025.9h0M909.0 970.1h0M909.4 1026.1h0M909.8 971.1h0M909.9 1025.1h0M910.8 983.0h0M911.3 1025.0h0M913.4 1003.0h0M913.6 1025.7h0M914.2 1004.0h0M912.9 1025.6h0M915.3 1006.2h0M915.6 1025.6h0M915.9 1007.1h0M916.0 1025.6h0M917.1 1006.3h0M917.1 1023.5h0M918.9 1001.4h0M920.3 1021.9h0M921.0 999.8h0M920.1 1021.0h0M922.3 996.4h0M920.9 1019.7h0M923.5 988.2h0M923.8 1019.3h0M924.1 986.7h0M923.3 1019.2h0M925.0 979.4h0M926.2 1019.4h0M927.1 974.6h0M926.0 1019.9h0M928.1 973.1h0M927.2 1018.7h0M929.7 968.6h0M929.6 1019.8h0M930.3 967.1h0M930.6 1019.5h0M932.3 966.2h0M930.8 1018.9h0M933.6 966.7h0M933.2 1017.2h0M933.7 968.3h0M933.8 1017.5h0M934.9 966.5h0M935.4 1017.9h0M935.8 967.7h0M935.3 1017.8h0M937.4 964.7h0M937.4 1019.9h0M938.8 963.0h0M939.5 1021.7h0M939.7 961.6h0M938.8 1021.3h0M942.0 958.4h0M941.0 1021.2h0M942.7 956.1h0M942.3 1021.9h0M943.5 956.9h0M943.1 1019.7h0M944.6 959.1h0M944.9 1018.6h0M945.5 957.1h0M945.2 1019.8h0M947.5 946.7h0M948.2 1021.9h0M947.8 945.8h0M947.8 1021.4h0M949.1 937.8h0M949.0 1021.7h0M950.7 933.5h0M949.7 1021.5h0M950.7 936.1h0M951.9 1021.1h0M951.6 938.2h0M951.8 1020.8h0M953.5 936.7h0M953.0 1021.9h0M955.0 934.6h0M954.6 1021.6h0M956.3 933.7h0M956.0 1021.0h0M956.8 936.7h0M957.4 1021.7h0M958.8 938.1h0M958.0 1023.0h0M958.9 940.6h0M959.9 1022.9h0M961.7 946.0h0M960.8 1021.7h0M963.2 959.2h0M963.2 1022.8h0M965.3 966.3h0M964.6 1023.3h0M966.0 968.7h0M965.7 1023.5h0M967.4 971.2h0M967.4 1023.4h0M967.0 970.4h0M968.1 1022.4h0M969.9 967.2h0M968.9 1021.6h0M970.7 962.9h0M971.8 1019.7h0M971.1 963.8h0M972.1 1019.5h0M973.0 972.8h0M972.7 1019.5h0M974.8 979.2h0M974.8 1019.4h0M976.0 980.2h0M976.2 1019.3h0M977.4 982.5h0M977.9 1017.3h0M977.6 982.7h0M978.6 1015.8h0M979.1 984.7h0M978.7 1018.6h0M981.5 986.1h0M982.1 1021.3h0M982.6 987.4h0M982.7 1021.4h0M983.3 981.2h0M983.0 1022.0h0M984.6 975.4h0M985.6 1024.6h0M985.8 978.2h0M984.7 1024.5h0M988.1 985.7h0M987.0 1023.8h0M987.9 987.9h0M988.6 1024.0h0M990.3 983.3h0M990.2 1024.0h0M991.2 978.4h0M991.6 1023.2h0M991.2 980.3h0M991.3 1024.2h0M994.0 986.8h0M993.5 1025.0h0M994.7 987.8h0M994.5 1025.3h0M995.6 985.7h0M994.9 1026.6h0M997.6 981.7h0M996.7 1027.0h0M996.9 982.9h0M996.9 1027.3h0M999.2 981.3h0M999.8 1026.1h0M999.8 981.6h0M1000.0 1026.2h0M1001.0 992.0h0M1001.7 1026.7h0M1002.2 994.4h0M1002.3 1027.1h0M1004.1 994.8h0M1003.6 1025.7h0M1003.6 995.4h0M1003.6 1025.7h0M1005.8 995.9h0M1005.4 1025.5h0M1007.2 998.1h0M1006.4 1025.6h0M1007.1 997.7h0M1007.8 1025.3h0M1009.1 997.0h0M1008.7 1026.7h0M1009.3 997.1h0M1008.8 1027.5h0M1012.1 1004.2h0M1011.2 1027.5h0M1011.8 1007.0h0M1012.0 1027.4h0M1013.8 1005.2h0M1014.0 1028.1h0M1014.5 1003.1h0M1014.6 1029.2h0M1015.0 1000.5h0M1016.3 1028.7h0M1017.2 985.0h0M1018.0 1027.3h0M1018.3 981.2h0M1017.3 1027.2h0M1018.8 982.5h0M1020.3 1025.0h0M1020.8 982.8h0M1019.7 1025.2h0M1021.6 986.3h0M1020.7 1024.1h0M1023.2 987.6h0M1023.0 1025.8h0M1023.3 981.9h0M1024.1 1024.3h0M1024.0 975.3h0M1025.1 1025.2h0M1025.8 981.6h0M1025.4 1025.6h0M1027.6 990.7h0M1026.9 1025.0h0M1028.2 989.5h0M1027.9 1026.0h0M1030.0 978.6h0M1029.7 1024.7h0M1030.2 975.7h0M1030.7 1024.2h0M1032.2 975.9h0M1030.8 1024.6h0M1033.0 979.4h0M1031.8 1024.4h0M1034.1 975.5h0M1034.0 1025.3h0M1033.2 969.7h0M1034.2 1023.4h0M1034.4 934.1h0M1033.7 1024.3h0M1035.0 931.0h0M1035.6 1025.6h0M1034.9 931.4h0M1036.2 1023.9h0M1037.0 930.8h0M1037.5 1025.2h0M1037.5 932.9h0M1038.3 1026.3h0M1037.4 933.8h0M1037.5 1027.6h0M1039.4 990.8h0M1038.6 1028.6h0M1039.1 1005.0h0M1039.5 1029.7h0M1040.2 1021.9h0M1040.8 1030.2h0M1041.3 1023.9h0M1041.1 1030.5h0M1042.0 1025.3h0M1041.9 1030.4h0M1044.2 1023.5h0M1042.8 1029.7h0M1045.2 1021.4h0M1044.9 1030.0h0M1044.8 1022.4h0M1045.2 1030.3h0M1047.8 1025.4h0M1047.2 1030.2h0M1048.8 1026.9h0M1047.9 1030.7h0M1049.4 1026.8h0M1050.1 1031.0h0M1051.7 1027.5h0M1051.2 1031.2h0M1051.8 1027.6h0M1051.7 1030.0h0M1052.8 1027.9h0M1053.4 1031.4h0M1054.9 1028.3h0M1053.6 1031.4h0M1054.9 1030.0h0M1055.7 1031.1h0M1057.1 1029.2h0M1057.0 1031.4h0M1057.3 1029.4h0M1057.0 1030.9h0M1059.7 1028.9h0M1059.5 1030.4h0M1061.0 1029.9h0M1060.1 1031.1h0M1060.9 1029.2h0M1061.4 1031.2h0M1063.2 1029.6h0M1063.1 1031.3h0M1062.9 1029.4h0M1063.5 1031.6h0M1064.8 1029.8h0M1065.7 1031.5h0M1066.2 1030.2h0M1065.8 1030.9h0M1067.8 1030.1h0M1067.7 1031.5h0M1069.4 1029.6h0M1069.5 1029.2h0M1071.1 1022.8h0M1070.9 1030.7h0M1071.4 1022.1h0M1072.5 1030.2h0M1074.1 1017.4h0M1073.5 1030.6h0M1073.6 1016.2h0M1074.4 1029.7h0M1076.0 1017.7h0M1076.2 1029.0h0M1077.6 1021.2h0M1076.4 1030.6h0M1077.6 1022.6h0M1078.1 1030.1h0M1079.5 1022.0h0M1079.2 1029.6h0M1080.6 1021.7h0M1080.5 1029.5h0M1081.2 1022.3h0M1081.4 1029.5h0M1082.9 1022.7h0M1082.7 1030.0h0M1083.0 1022.6h0M1084.1 1029.1h0M1084.8 1024.4h0M1085.8 1029.3h0M1086.0 1023.4h0M1085.8 1028.8h0M1086.9 1024.1h0M1087.3 1030.0h0M1089.2 1025.2h0M1088.6 1028.9h0M1090.0 1024.1h0M1089.1 1028.9h0M1092.2 1024.9h0M1091.6 1030.0h0M1091.8 1024.6h0M1092.5 1029.6h0M1093.9 1025.2h0M1094.1 1028.8h0M1096.2 1024.6h0M1095.6 1030.0h0M1095.8 1025.0h0M1095.2 1029.5h0M1097.3 1023.6h0M1097.6 1029.1h0M1099.7 1021.9h0M1098.9 1028.4h0M1099.1 1022.9h0M1100.2 1029.8h0M1101.9 1023.3h0M1101.3 1029.9h0M1104.1 1024.3h0M1103.4 1030.0h0M1102.9 1023.8h0M1103.7 1028.7h0M1106.2 1023.3h0M1106.2 1029.7h0M1106.5 1022.9h0M1106.2 1029.7h0M1107.8 1023.1h0M1107.4 1029.8h0M1109.3 1022.0h0M1108.7 1029.8h0M1109.2 1023.1h0M1109.6 1029.6h0M1112.1 1021.5h0M1112.2 1029.2h0M1111.8 1021.7h0M1112.0 1028.9h0M1113.3 1021.0h0M1113.5 1030.0h0M1115.7 1022.1h0M1115.4 1029.3h0M1117.5 1020.7h0M1117.8 1028.2h0M1118.3 1019.8h0M1118.4 1029.9h0M1119.7 1020.5h0M1119.1 1029.7h0M1122.0 1020.1h0M1122.0 1029.3h0M1122.7 1022.8h0M1122.3 1029.3h0M1124.1 1018.8h0M1123.2 1029.4h0M1125.3 1016.6h0M1126.0 1029.4h0M1128.2 1022.0h0M1127.3 1030.0h0M1128.3 1022.5h0M1128.6 1029.9h0M1128.8 1021.9h0M1130.1 1029.8h0M1130.8 1022.5h0M1132.0 1029.6h0M1132.2 1023.3h0M1132.1 1030.0h0M1134.1 1023.0h0M1133.7 1030.5h0M1135.1 1022.8h0M1135.3 1030.5h0M1135.2 1022.4h0M1135.5 1029.4h0M1138.2 1020.8h0M1137.6 1030.5h0M1137.2 1020.8h0M1138.0 1029.8h0M1139.6 1021.3h0M1140.0 1030.0h0M1140.4 1023.3h0M1140.9 1030.2h0M1141.6 1023.6h0M1141.2 1030.0h0M1143.6 1022.6h0M1143.3 1030.3h0M1144.2 1023.7h0M1143.5 1030.4h0M1145.5 1021.9h0M1146.1 1030.1h0M1146.4 1022.9h0M1146.4 1030.7h0M1148.3 1021.0h0M1148.1 1027.8h0M1149.3 1016.6h0M1148.9 1028.8h0M1150.7 1015.3h0M1149.4 1030.5h0M1152.3 1014.0h0M1152.1 1029.8h0M1151.9 1014.1h0M1151.9 1030.2h0M1153.4 1017.5h0M1153.2 1029.4h0M1155.7 1022.7h0M1154.9 1030.4h0M1157.1 1021.6h0M1158.1 1029.5h0M1158.9 1021.3h0M1159.0 1030.0h0M1159.2 1020.7h0M1159.5 1030.0h0M1159.5 1021.1h0M1160.4 1029.8h0M1161.7 1018.3h0M1161.3 1029.8h0M1164.0 1017.8h0M1162.9 1029.6h0M1164.7 1017.5h0M1163.9 1029.2h0M1166.1 1019.6h0M1166.1 1030.4h0M1168.2 1022.2h0M1167.3 1030.4h0M1168.2 1023.0h0M1167.9 1030.9h0M1168.8 1025.5h0M1169.8 1030.7h0M1171.8 1024.4h0M1172.1 1029.7h0M1172.1 1024.6h0M1172.3 1029.0h0M1172.9 1025.1h0M1173.9 1030.3h0M1175.1 1025.6h0M1175.1 1028.8h0M1176.8 1025.8h0M1177.1 1030.7h0M1178.3 1024.7h0M1177.3 1030.4h0M1179.0 1022.9h0M1178.7 1031.1h0M1180.6 1021.6h0M1180.9 1030.3h0M1181.1 1021.5h0M1180.7 1030.9h0M1182.8 1017.4h0M1183.6 1030.9h0M1184.5 1017.1h0M1183.6 1029.8h0M1185.5 1020.8h0M1186.2 1030.5h0M1187.0 1023.7h0M1188.1 1031.1h0M1187.3 1023.0h0M1187.6 1030.4h0M1190.2 1024.3h0M1188.7 1031.2h0M1191.0 1022.6h0M1190.2 1031.1h0M1191.9 1025.1h0M1190.8 1030.6h0M1194.3 1021.8h0M1192.9 1029.7h0M1195.0 1021.1h0M1195.3 1029.0h0M1195.6 1019.9h0M1195.0 1028.7h0M1197.4 1018.7h0M1197.7 1029.4h0M1199.1 1017.4h0M1199.1 1030.1h0M1198.8 1018.0h0M1199.5 1030.1h0M1200.9 1016.6h0M1201.4 1028.1h0M1203.6 1015.9h0M1203.7 1029.3h0M1203.2 1013.5h0M1203.1 1028.9h0M1205.7 1002.6h0M1205.4 1027.9h0M1206.5 1000.2h0M1206.5 1027.9h0M1207.4 994.2h0M1207.3 1028.0h0M1209.8 986.9h0M1209.7 1026.8h0M1209.0 985.1h0M1209.0 1027.8h0M1210.9 973.7h0M1211.6 1026.9h0M1211.7 973.0h0M1211.8 1027.8h0M1213.2 998.6h0M1213.7 1026.4h0M1213.7 1009.7h0M1214.5 1027.8h0M1216.2 1009.4h0M1215.0 1027.5h0M1217.0 1009.3h0M1217.0 1027.9h0M1217.8 1009.4h0M1217.2 1026.6h0M1219.7 1010.7h0M1220.3 1027.4h0M1219.7 1009.8h0M1220.6 1027.7h0M1222.2 1010.0h0M1221.7 1027.5h0M1223.6 1011.2h0M1222.7 1027.1h0M1225.4 1017.1h0M1224.9 1027.9h0M1227.3 1019.7h0M1227.0 1027.2h0M1227.1 1019.0h0M1228.2 1028.2h0M1230.2 1018.0h0M1229.9 1029.2h0M1230.1 1016.5h0M1230.9 1029.2h0M1231.0 1013.9h0M1231.2 1028.9h0M1233.1 1008.1h0M1233.8 1028.3h0M1234.4 1005.6h0M1234.3 1027.1h0M1235.9 1008.9h0M1235.9 1026.4h0M1237.6 1012.8h0M1237.4 1028.0h0M1238.2 1013.6h0M1238.5 1027.7h0M1239.6 1012.4h0M1239.1 1027.2h0M1240.8 1012.2h0M1241.1 1027.9h0M1241.1 1012.2h0M1241.0 1027.6h0M1242.8 1014.6h0M1243.4 1028.1h0M1244.6 1015.2h0M1243.5 1027.4h0M1245.5 1014.1h0M1246.3 1027.6h0M1247.3 1011.1h0M1247.6 1028.1h0M1247.5 1011.0h0M1247.7 1027.6h0M1250.3 1013.8h0M1249.9 1027.0h0M1251.2 1016.5h0M1251.1 1026.3h0M1251.5 1018.5h0M1252.9 1028.1h0M1253.2 1018.0h0M1253.7 1028.1h0M1255.1 1018.3h0M1254.8 1028.1h0M1255.7 1017.4h0M1256.7 1028.0h0M1257.7 1016.8h0M1257.9 1027.8h0M1258.7 1016.1h0M1259.1 1026.3h0M1259.8 1015.3h0M1260.2 1028.0h0M1262.3 1016.3h0M1260.7 1026.7h0M1263.2 1016.6h0M1262.7 1027.9h0M1263.8 1016.9h0M1264.7 1027.4h0M1265.2 1017.0h0M1265.8 1027.7h0M1267.5 1017.6h0M1267.4 1026.9h0M1268.7 1018.7h0M1269.1 1028.0h0M1269.3 1017.6h0M1268.8 1027.2h0M1270.7 1017.4h0M1271.3 1027.9h0M1272.0 1017.8h0M1272.7 1027.5h0M1274.2 1017.0h0M1274.2 1027.6h0M1275.1 1016.7h0M1275.4 1028.0h0M1276.8 1016.3h0M1275.9 1027.8h0M1277.0 1017.2h0M1278.0 1027.6h0M1280.1 1015.4h0M1279.9 1026.7h0M1280.8 1013.6h0M1280.8 1025.5h0M1281.9 1010.9h0M1281.7 1025.8h0M1283.9 1003.5h0M1283.8 1025.6h0M1284.5 1001.9h0M1283.5 1025.8h0M1285.7 992.8h0M1285.0 1024.1h0M1287.1 983.1h0M1286.5 1022.2h0M1287.1 985.3h0M1287.2 1023.1h0M1289.3 989.6h0M1289.9 1022.6h0M1290.2 991.3h0M1289.8 1023.8h0M1291.8 998.8h0M1290.7 1023.7h0M1292.7 1008.0h0M1293.5 1023.6h0M1293.9 1006.4h0M1292.7 1023.4h0M1296.2 994.5h0M1295.2 1023.9h0M1296.4 991.2h0M1296.6 1022.2h0M1296.7 988.2h0M1297.5 1023.5h0M1298.8 979.8h0M1298.8 1023.0h0M1299.6 978.8h0M1299.2 1023.8h0M1300.7 968.6h0M1302.1 1024.0h0M1301.8 962.9h0M1302.0 1022.5h0M1303.4 966.6h0M1302.8 1023.3h0M1306.0 971.6h0M1305.0 1024.0h0M1306.2 970.1h0M1304.7 1024.0h0M1307.9 959.7h0M1308.3 1023.5h0M1307.9 955.6h0M1308.4 1023.3h0M1309.8 960.1h0M1310.1 1022.6h0M1311.2 970.8h0M1311.0 1024.0h0M1313.8 976.5h0M1312.8 1022.8h0M1313.4 976.5h0M1314.7 1022.6h0M1315.4 961.4h0M1315.2 1021.4h0M1316.5 948.0h0M1316.6 1021.5h0M1318.0 956.7h0M1317.7 1021.9h0M1318.8 979.2h0M1319.7 1021.3h0M1319.5 981.8h0M1320.0 1021.6h0M1321.3 980.4h0M1321.8 1021.5h0M1322.9 979.2h0M1322.4 1022.9h0M1324.1 977.7h0M1322.8 1023.9h0M1325.0 975.0h0M1325.1 1024.8h0M1325.6 975.4h0M1325.8 1024.2h0M1327.8 972.4h0M1327.9 1024.9h0M1328.9 970.3h0M1329.4 1024.8h0M1330.0 970.8h0M1328.8 1024.2h0M1330.4 969.2h0M1329.9 1022.8h0M1332.3 971.3h0M1331.0 1023.8h0M1333.6 970.6h0M1333.3 1023.2h0M1333.8 969.8h0M1333.0 1023.9h0M1335.3 967.4h0M1335.5 1024.4h0M1335.4 967.2h0M1336.8 1025.6h0M1337.0 963.5h0M1338.2 1025.0h0M1338.7 960.6h0M1338.9 1024.8h0M1339.7 960.7h0M1340.2 1026.1h0M1340.9 960.8h0M1341.5 1027.3h0M1342.2 960.4h0M1342.7 1025.9h0M1343.5 962.1h0M1343.8 1024.3h0M1345.7 960.9h0M1345.9 1021.8h0M1345.4 960.1h0M1345.9 1021.3h0M1347.3 958.1h0M1347.6 1020.2h0M1349.2 956.5h0M1348.3 1020.4h0M1350.1 954.2h0M1349.6 1021.4h0M1350.9 950.2h0M1350.4 1021.2h0M1351.6 948.6h0M1352.3 1020.4h0M1354.3 946.5h0M1353.9 1023.6h0M1355.5 935.1h0M1355.8 1021.9h0M1356.7 929.3h0M1356.3 1021.7h0M1358.0 929.9h0M1357.0 1020.0h0M1360.1 929.3h0M1360.1 1019.3h0M1359.0 931.1h0M1359.0 1019.6h0M1361.7 919.5h0M1361.0 1017.3h0M1363.0 911.4h0M1362.6 1017.8h0M1363.4 917.6h0M1363.0 1016.7h0M1365.8 931.2h0M1364.9 1016.8h0M1366.3 934.7h0M1365.4 1016.9h0M1368.1 937.3h0M1367.0 1018.8h0M1368.3 937.9h0M1368.7 1019.3h0M1368.9 940.8h0M1370.1 1019.1h0M1372.1 951.5h0M1371.5 1020.9h0M1372.4 954.2h0M1371.9 1021.7h0M1374.0 930.4h0M1373.7 1021.0h0M1374.7 914.5h0M1375.4 1023.8h0M1375.2 914.1h0M1375.1 1023.0h0M1376.4 913.8h0M1377.1 1023.1h0M1378.2 914.3h0M1376.8 1022.8h0M1379.3 916.5h0M1379.9 1019.5h0M1381.8 938.6h0M1382.0 1018.2h0M1381.7 946.5h0M1381.7 1017.3h0M1383.5 951.7h0M1384.3 1017.7h0M1385.7 959.0h0M1385.4 1019.1h0M1385.5 960.5h0M1384.7 1019.9h0M1388.1 970.2h0M1387.5 1021.2h0M1387.7 974.6h0M1389.1 1021.6h0M1390.2 971.2h0M1389.5 1018.5h0M1390.7 967.3h0M1391.6 1017.8h0M1391.7 966.8h0M1390.9 1017.6h0M1392.8 945.6h0M1392.8 1015.1h0M1393.9 936.1h0M1394.2 1014.2h0M1396.2 935.5h0M1394.8 1013.8h0M1396.9 934.6h0M1398.2 1013.6h0M1399.4 933.7h0M1398.1 1011.8h0M1399.8 920.0h0M1398.8 1013.2h0M1401.7 890.0h0M1401.1 1013.4h0M1401.3 888.8h0M1401.8 1013.6h0M1404.1 914.1h0M1403.3 1013.5h0M1404.9 930.0h0M1404.3 1013.2h0M1405.5 928.8h0M1405.6 1013.6h0M1407.9 928.0h0M1406.9 1012.2h0M1408.3 927.2h0M1407.4 1013.6h0M1410.1 932.3h0M1408.9 1011.0h0M1410.4 935.7h0M1410.8 1011.4h0M1412.0 939.2h0M1411.9 1011.1h0M1414.1 948.2h0M1413.1 1011.3h0M1413.4 950.4h0M1413.7 1011.3h0M1415.8 960.6h0M1415.6 1012.3h0M1416.4 971.5h0M1417.2 1012.6h0M1417.2 967.6h0M1417.4 1013.5h0M1419.2 952.6h0M1420.0 1012.5h0M1419.7 948.1h0M1419.8 1011.8h0M1421.6 951.4h0M1421.5 1013.5h0M1422.7 954.3h0M1423.5 1012.2h0M1423.2 954.3h0M1423.2 1013.8h0M1425.9 955.6h0M1425.3 1014.5h0M1425.7 955.9h0M1425.6 1014.8h0M1427.2 965.4h0M1427.4 1016.0h0M1429.9 975.2h0M1428.7 1016.9h0M1430.1 975.9h0M1429.0 1017.1h0M1431.7 977.9h0M1431.9 1018.3h0M1431.9 979.3h0M1432.5 1019.4h0M1434.0 978.8h0M1433.6 1019.4h0M1435.7 978.3h0M1434.7 1018.9h0M1435.3 978.8h0M1436.2 1019.4h0M1438.0 970.6h0M1437.3 1019.7h0M1438.5 966.1h0M1437.9 1019.1h0M1439.5 947.0h0M1439.4 1018.6h0M1442.2 909.3h0M1441.9 1017.1h0M1443.3 909.4h0M1443.6 1017.3h0M1443.3 910.5h0M1443.3 1017.0h0M1445.1 899.9h0M1444.9 1018.6h0M1447.0 894.5h0M1447.1 1019.4h0M1447.4 902.1h0M1447.1 1016.0h0M1449.5 923.0h0M1449.4 1009.0h0M1449.0 925.7h0M1448.9 1009.1h0M1451.1 918.6h0M1450.8 1006.5h0M1452.1 916.9h0M1451.5 1007.0h0M1454.0 907.9h0M1453.6 1007.5h0M1455.1 901.2h0M1454.8 1007.2h0M1455.7 908.6h0M1455.4 1010.1h0M1457.4 918.9h0M1456.6 1012.2h0M1458.2 923.0h0M1457.8 1012.0h0M1459.2 941.0h0M1459.8 1013.6h0M1460.0 946.7h0M1459.7 1013.5h0M1462.0 947.4h0M1461.0 1011.4h0M1463.7 947.6h0M1462.8 1013.2h0" stroke="#1f77b4" style="stroke-width:5.56px;stroke-linecap:round"/><path d="M158.5 784.8h0M158.5 788.9h0M158.5 793.0h0M158.5 801.2h0M158.5 806.3h0M158.5 811.4h0M158.5 817.6h0M185.4 630.2h0M185.4 671.1h0M185.4 693.7h0M185.4 696.7h0M185.4 700.8h0M185.4 705.3h0M185.4 731.5h0M185.4 748.3h0M185.4 786.8h0M185.4 793.0h0M185.4 801.2h0M185.4 805.3h0M185.4 811.4h0M185.4 815.5h0M228.4 723.4h0M228.4 735.6h0M228.4 739.7h0M228.4 747.9h0M228.4 754.1h0M228.4 760.2h0M228.4 764.3h0M228.4 768.4h0M228.4 774.6h0M228.4 783.8h0M228.4 788.9h0M228.4 797.1h0M228.4 803.2h0M228.4 811.4h0M242.7 736.7h0M242.7 741.8h0M242.7 747.9h0M242.7 755.1h0M242.7 759.2h0M242.7 763.3h0M242.7 780.7h0M242.7 784.8h0M242.7 790.9h0M242.7 797.1h0M242.7 803.2h0M242.7 811.4h0M261.5 597.4h0M261.5 609.7h0M261.5 612.8h0M261.5 638.4h0M261.5 647.6h0M261.5 660.5h0M261.5 682.4h0M261.5 707.4h0M261.5 725.4h0M261.5 742.8h0M261.5 772.5h0M261.5 788.9h0M261.5 795.0h0M261.5 801.2h0M261.5 815.5h0M257.5 776.6h0M257.5 803.2h0M257.5 809.4h0M224.7 782.7h0M224.7 788.9h0M224.7 797.1h0M141.7 864.0h0M141.7 879.4h0M141.7 891.7h0M119.8 896.8h0M119.8 909.5h0M175.1 853.8h0M175.1 867.1h0M175.1 875.3h0M175.1 881.4h0M175.1 896.8h0M175.1 904.0h0M193.6 833.3h0M193.6 839.5h0M193.6 848.7h0M205.2 877.3h0M216.5 858.9h0M216.5 869.2h0M213.4 881.4h0M185.8 824.1h0M185.8 835.4h0M185.8 846.6h0M168.4 936.7h0M186.8 999.2h0M260.5 991.0h0M127.4 1020.7h0M177.6 1018.6h0M458.3 911.5h0M433.2 921.0h0M494.6 895.4h0M494.6 903.0h0M584.4 887.7h0M584.4 896.9h0M584.4 901.5h0M555.2 938.4h0M555.2 944.5h0M555.2 950.6h0M470.0 992.9h0M492.3 998.3h0M728.0 908.3h0M664.0 1001.6h0M712.6 1001.6h0M821.3 869.2h0M821.3 874.3h0M821.3 885.5h0M821.3 892.7h0M821.3 897.8h0M950.3 837.4h0M950.3 842.5h0M950.3 848.7h0M950.3 857.9h0M950.3 865.1h0M950.3 871.2h0M950.3 877.3h0M950.3 883.5h0M950.3 889.6h0M950.3 896.8h0M950.3 904.0h0M950.3 910.1h0M950.3 916.3h0M950.3 922.4h0M950.3 928.5h0M930.4 919.3h0M930.4 926.5h0M930.4 934.7h0M930.4 942.9h0M930.4 951.1h0M930.4 959.3h0M859.2 949.0h0M859.2 956.2h0M859.2 963.4h0M859.2 970.5h0M859.2 977.7h0M851.0 962.7h0M851.0 970.5h0M961.5 931.6h0M961.5 938.8h0M961.5 947.0h0M971.8 956.2h0M971.8 963.4h0M956.4 931.6h0M903.2 967.5h0M909.3 965.4h0M1035.7 938.4h0M1035.7 949.1h0M1035.7 959.9h0M1035.7 970.6h0M1211.6 971.5h0M1211.6 977.7h0M1211.6 983.8h0M1211.6 990.0h0M1211.6 996.1h0M1316.7 945.9h0M1316.7 953.1h0M1316.7 961.3h0M1316.7 969.5h0M1316.7 977.7h0M1287.0 981.8h0M1287.0 987.9h0M1308.5 953.1h0M1308.5 961.3h0M1302.3 961.3h0M1302.3 967.5h0M1401.6 845.6h0M1401.6 862.0h0M1401.6 873.6h0M1420.1 943.8h0M1406.7 924.4h0M1411.9 936.7h0M1363.4 906.0h0M1447.7 1021.6h0M1401.6 889.6h0M1401.6 895.7h0M1401.6 901.9h0M1401.6 908.0h0M1401.6 914.1h0M1401.6 920.3h0M1401.6 926.4h0M1363.4 922.3h0M1363.4 928.5h0" stroke="#1f77b4" style="stroke-width:5.56px;stroke-linecap:round"/><path d="M115.5 967.5C115.6 967.5 115.7 968.1 116.1 967.5C116.5 966.9 117.1 964.5 117.7 963.8C118.2 963.2 118.7 961.2 119.2 963.4C119.7 965.6 120.2 972.1 120.8 976.9C121.3 981.6 121.8 991.7 122.3 992.0C122.8 992.3 123.3 982.0 123.8 978.5C124.4 975.1 124.9 971.4 125.4 971.5C125.9 971.6 126.4 976.3 126.9 979.4C127.4 982.5 127.8 990.0 128.4 990.0C129.0 990.0 129.9 984.1 130.5 979.7C131.1 975.3 131.5 969.1 132.1 963.6C132.6 958.2 133.1 948.3 133.6 947.0C134.1 945.7 134.6 953.0 135.1 956.0C135.6 959.1 136.1 962.6 136.6 965.4C137.1 968.2 137.6 970.7 138.1 973.1C138.7 975.5 139.1 984.0 139.7 979.7C140.3 975.4 141.1 950.3 141.7 947.0C142.3 943.7 142.7 955.2 143.2 960.0C143.8 964.8 144.3 972.5 144.8 975.6C145.3 978.7 145.8 978.0 146.4 978.7C146.9 979.3 147.4 979.3 147.9 979.7C148.4 980.1 148.9 979.8 149.4 981.1C150.0 982.5 150.5 990.7 151.0 987.9C151.5 985.1 152.0 971.9 152.5 964.4C153.0 956.9 153.4 950.6 154.0 942.9C154.6 935.2 155.3 925.8 156.1 918.3C156.8 910.8 157.7 892.0 158.5 897.8C159.3 903.6 160.5 943.0 161.2 953.1C161.9 963.2 162.2 955.2 162.8 958.6C163.3 962.0 163.8 971.0 164.3 973.6C164.8 976.2 165.3 973.7 165.8 974.0C166.3 974.4 166.8 974.8 167.3 975.6C167.8 976.4 168.3 977.3 168.9 978.7C169.4 980.1 169.8 982.3 170.4 983.8C171.0 985.3 171.7 992.0 172.5 987.9C173.3 983.8 174.2 960.0 175.1 959.3C175.9 958.6 176.9 983.2 177.6 983.8C178.3 984.4 178.6 969.8 179.1 963.0C179.7 956.2 180.2 951.9 180.7 942.9C181.2 933.9 181.7 920.7 182.2 909.1C182.7 897.4 183.2 880.5 183.7 873.2C184.2 865.9 184.7 853.5 185.4 865.1C186.1 876.7 187.1 929.9 187.8 942.9C188.5 955.9 188.8 943.9 189.4 943.2C189.9 942.5 190.2 940.9 190.9 938.8C191.6 936.7 192.8 926.5 193.6 930.6C194.4 934.7 195.3 956.4 196.0 963.4C196.7 970.4 197.0 968.8 197.6 972.5C198.1 976.3 198.6 986.0 199.1 985.9C199.6 985.8 200.1 976.6 200.6 972.1C201.2 967.7 201.7 963.2 202.2 959.3C202.7 955.4 203.2 951.0 203.7 948.6C204.2 946.2 204.7 944.1 205.2 944.9C205.7 945.7 206.2 951.6 206.8 953.3C207.3 955.0 207.7 950.8 208.3 955.2C208.9 959.6 209.7 977.8 210.3 979.7C210.9 981.6 211.3 971.8 211.9 966.7C212.4 961.5 212.9 952.8 213.4 949.0C213.9 945.2 214.4 945.7 214.9 943.7C215.5 941.6 216.0 935.3 216.5 936.7C217.0 938.1 217.5 947.8 218.1 952.2C218.6 956.7 219.1 963.0 219.6 963.4C220.1 963.8 220.6 958.1 221.1 954.7C221.6 951.3 222.1 948.5 222.6 942.9C223.1 937.3 223.6 928.1 224.1 921.2C224.7 914.4 225.2 909.5 225.7 901.9C226.2 894.3 226.6 884.7 227.1 875.5C227.5 866.3 227.8 839.5 228.4 846.6C229.0 853.7 230.1 901.2 230.8 918.3C231.5 935.4 231.8 939.5 232.4 949.1C232.9 958.6 233.4 973.3 233.9 975.6C234.4 977.9 234.9 967.5 235.4 962.7C236.0 958.0 236.5 953.4 237.0 947.0C237.5 940.6 238.0 931.8 238.5 924.3C239.0 916.8 239.4 911.4 240.0 901.9C240.6 892.4 241.5 868.1 242.1 867.1C242.7 866.1 243.1 886.2 243.6 896.1C244.2 906.0 244.7 918.0 245.2 926.5C245.7 935.0 246.2 941.7 246.7 947.2C247.2 952.6 247.7 956.3 248.2 959.3C248.7 962.3 249.2 963.2 249.8 964.9C250.3 966.6 250.8 969.8 251.3 969.5C251.8 969.2 252.3 965.7 252.9 963.3C253.4 960.9 253.7 967.1 254.4 955.2C255.1 943.3 256.1 899.9 257.0 891.7C257.9 883.5 258.8 910.1 259.5 906.0C260.2 901.9 260.9 869.6 261.5 867.1C262.1 864.6 262.5 882.3 263.1 891.2C263.6 900.0 264.1 912.8 264.6 920.3C265.1 927.8 265.6 931.1 266.1 935.9C266.7 940.7 267.2 945.9 267.7 949.0C268.2 952.1 268.7 952.9 269.2 954.6C269.8 956.3 270.3 958.4 270.8 959.3C271.3 960.2 271.8 959.1 272.3 959.8C272.8 960.5 273.3 960.9 273.8 963.4C274.3 965.9 274.8 971.9 275.4 974.9C275.9 978.0 276.4 979.6 276.9 981.8C277.4 984.0 277.9 985.9 278.4 987.9C279.0 990.0 279.5 991.3 280.0 994.1C280.5 996.9 281.0 1001.4 281.5 1004.5C282.0 1007.5 282.4 1010.9 283.0 1012.5C283.6 1014.1 284.4 1013.8 285.0 1014.3C285.6 1014.8 286.1 1015.2 286.6 1015.4C287.1 1015.6 287.7 1015.2 288.2 1015.4C288.7 1015.7 289.3 1016.3 289.8 1016.7C290.3 1017.1 290.9 1017.3 291.4 1017.7C291.9 1018.1 292.5 1018.9 293.0 1019.1C293.5 1019.4 294.1 1019.3 294.6 1019.1C295.1 1018.9 295.6 1018.0 296.2 1017.7C296.7 1017.3 297.2 1017.1 297.7 1016.9C298.3 1016.8 298.8 1017.7 299.3 1016.7C299.8 1015.7 300.3 1012.7 300.8 1011.1C301.2 1009.5 301.7 1009.3 302.2 1007.1C302.7 1004.9 303.2 1001.3 303.8 997.7C304.3 994.1 304.7 987.6 305.3 985.6C305.9 983.6 306.5 985.6 307.1 986.0C307.7 986.4 308.3 988.2 308.9 988.0C309.5 987.8 310.1 986.1 310.7 984.9C311.3 983.7 311.9 981.4 312.5 980.8C313.1 980.2 313.7 982.0 314.3 981.6C314.9 981.2 315.4 980.5 316.1 978.4C316.8 976.3 317.8 972.6 318.5 968.9C319.2 965.2 319.7 959.7 320.3 956.1C320.9 952.5 321.5 950.1 322.1 947.3C322.7 944.5 323.1 942.8 323.6 939.2C324.2 935.6 324.7 925.6 325.2 925.8C325.7 926.0 326.1 935.4 326.6 940.2C327.1 945.0 327.5 949.6 328.0 954.5C328.5 959.4 329.2 964.5 329.8 969.7C330.4 974.9 331.0 987.7 331.6 985.6C332.2 983.5 332.8 967.6 333.4 957.3C334.0 946.9 334.7 930.0 335.2 923.4C335.7 916.8 336.2 919.9 336.6 917.7C337.1 915.5 337.6 910.8 338.1 910.3C338.6 909.8 339.1 912.3 339.6 914.5C340.2 916.7 340.6 918.9 341.2 923.4C341.8 927.9 342.4 935.3 343.0 941.2C343.6 947.2 344.3 959.1 344.8 959.3C345.3 959.5 345.7 947.5 346.2 942.4C346.7 937.2 347.1 931.5 347.6 928.2C348.1 924.9 348.6 924.7 349.1 922.7C349.7 920.7 350.1 916.1 350.7 916.3C351.3 916.5 351.9 921.0 352.5 923.8C353.1 926.6 353.8 929.6 354.3 933.0C354.8 936.4 355.3 940.4 355.8 944.3C356.2 948.3 356.7 962.3 357.2 956.9C357.7 951.5 358.2 927.6 358.8 912.0C359.3 896.5 359.8 861.5 360.3 863.7C360.8 865.9 361.3 903.7 361.9 925.2C362.4 946.7 362.9 985.6 363.4 992.8C363.9 1000.0 364.4 976.6 364.9 968.2C365.3 959.8 365.8 945.3 366.3 942.6C366.8 939.9 367.5 948.5 368.1 951.7C368.7 954.9 369.3 961.1 369.9 961.7C370.5 962.3 371.1 957.5 371.7 955.1C372.3 952.7 372.9 949.5 373.5 947.3C374.1 945.1 374.7 942.3 375.2 941.9C375.8 941.5 376.4 944.2 377.0 945.0C377.6 945.8 378.2 945.6 378.8 946.8C379.4 948.0 379.9 959.2 380.6 952.1C381.3 945.0 382.4 908.8 383.0 904.3C383.6 899.8 384.0 917.9 384.4 925.1C384.9 932.2 385.4 945.7 385.9 947.3C386.4 948.9 386.9 939.9 387.4 934.8C388.0 929.6 388.3 908.6 389.0 916.3C389.7 924.0 390.6 972.0 391.4 980.8C392.2 989.6 393.1 975.5 393.8 968.9C394.5 962.3 394.8 949.5 395.4 940.9C395.9 932.4 396.4 918.5 396.9 917.5C397.4 916.5 397.9 928.6 398.4 935.2C398.8 941.7 399.3 952.7 399.8 956.9C400.3 961.1 401.0 959.0 401.6 960.2C402.1 961.4 402.7 962.2 403.3 964.1C403.9 966.0 404.5 969.4 405.1 971.8C405.7 974.2 406.3 977.9 406.9 978.4C407.5 978.9 408.1 975.7 408.7 974.9C409.3 974.1 409.9 974.2 410.5 973.6C411.1 973.0 411.7 972.2 412.3 971.4C412.9 970.6 413.5 969.0 414.1 968.9C414.7 968.8 415.3 969.1 415.9 970.7C416.5 972.3 417.1 975.6 417.7 978.4C418.3 981.2 418.9 985.4 419.5 987.4C420.1 989.4 420.7 991.0 421.3 990.4C421.9 989.8 422.5 985.8 423.1 983.8C423.7 981.8 424.3 978.9 424.9 978.4C425.5 977.9 426.1 980.2 426.6 981.0C427.2 981.8 427.8 982.4 428.4 983.2C429.0 984.0 429.5 986.6 430.0 985.7C430.5 984.7 431.1 979.0 431.6 977.4C432.1 975.8 432.6 975.4 433.2 976.0C433.8 976.6 434.4 978.6 435.0 981.0C435.6 983.4 436.2 990.3 436.8 990.4C437.4 990.5 438.0 983.8 438.6 981.4C439.2 979.0 439.8 975.8 440.4 976.0C441.0 976.2 441.6 981.4 442.2 982.6C442.8 983.8 443.4 984.1 444.0 983.2C444.6 982.3 445.2 978.9 445.8 976.9C446.4 974.9 447.0 971.9 447.6 971.3C448.2 970.7 448.8 972.3 449.4 973.4C449.9 974.6 450.5 979.4 451.1 978.4C451.7 977.4 452.3 971.2 452.9 967.6C453.5 964.0 454.1 958.7 454.7 956.9C455.3 955.1 455.9 956.8 456.5 956.8C457.1 956.8 457.7 956.4 458.3 956.9C458.9 957.4 459.5 959.2 460.0 959.9C460.5 960.6 461.0 961.2 461.6 960.9C462.1 960.6 462.6 958.1 463.1 958.3C463.6 958.5 464.1 961.1 464.6 961.9C465.1 962.7 465.6 963.1 466.1 962.9C466.6 962.7 467.1 961.5 467.6 960.5C468.2 959.5 468.6 958.7 469.2 956.8C469.8 954.9 470.9 948.6 471.5 949.1C472.1 949.6 472.5 956.6 473.1 960.0C473.6 963.3 474.0 968.9 474.6 969.1C475.2 969.3 476.3 963.6 476.9 961.4C477.5 959.2 477.9 957.4 478.4 956.1C479.0 954.8 479.5 954.2 480.0 953.7C480.5 953.2 481.0 952.5 481.5 953.0C482.0 953.5 482.4 955.6 483.0 956.8C483.6 958.0 484.7 959.4 485.3 959.9C485.9 960.4 486.3 960.1 486.9 959.8C487.4 959.6 487.9 958.5 488.4 958.3C488.9 958.1 489.4 958.7 489.9 958.5C490.5 958.2 491.0 957.4 491.5 956.8C492.0 956.2 492.5 955.6 493.1 954.8C493.6 954.0 494.1 951.8 494.6 952.2C495.1 952.6 495.6 955.8 496.1 957.3C496.6 958.9 497.1 960.7 497.6 961.4C498.1 962.1 498.6 962.0 499.1 961.8C499.7 961.5 500.1 960.8 500.7 959.9C501.3 959.0 502.0 956.8 502.6 956.3C503.2 955.8 503.9 956.6 504.5 956.8C505.1 957.0 505.5 957.2 506.1 957.7C506.6 958.3 507.1 959.7 507.6 959.9C508.1 960.1 508.6 958.8 509.1 959.1C509.7 959.3 510.2 961.4 510.7 961.4C511.2 961.4 511.7 958.6 512.2 958.8C512.8 959.1 513.3 961.4 513.8 962.9C514.3 964.4 514.8 966.4 515.3 967.7C515.8 969.0 516.3 969.5 516.8 970.6C517.3 971.7 517.8 972.8 518.3 974.1C518.9 975.4 519.4 977.1 519.9 978.3C520.4 979.5 520.9 980.4 521.5 981.2C522.0 981.9 522.5 982.0 523.0 982.9C523.5 983.8 524.0 985.7 524.5 986.8C525.0 987.8 525.5 988.3 526.0 989.0C526.5 989.7 527.0 990.0 527.5 991.0C528.1 992.1 528.6 993.9 529.1 995.2C529.6 996.5 530.1 998.3 530.7 999.1C531.2 999.9 531.7 999.5 532.2 999.8C532.7 1000.1 533.2 1000.6 533.8 1000.9C534.3 1001.1 534.7 1001.2 535.3 1001.3C535.9 1001.4 536.8 1002.1 537.6 1001.3C538.4 1000.5 539.3 997.7 539.9 996.7C540.5 995.7 540.9 996.3 541.4 995.6C541.9 994.8 542.4 992.4 542.9 992.1C543.4 991.8 543.9 993.8 544.5 993.6C545.0 993.3 545.5 991.7 546.0 990.6C546.5 989.5 547.0 987.8 547.5 986.8C548.1 985.8 548.6 985.5 549.1 984.4C549.6 983.3 550.1 981.3 550.7 980.3C551.2 979.3 551.7 978.8 552.2 978.3C552.7 977.8 553.2 977.6 553.7 977.1C554.2 976.6 554.7 975.0 555.2 975.2C555.7 975.4 556.2 977.7 556.8 978.0C557.3 978.3 557.8 976.8 558.3 976.8C558.8 976.8 559.3 978.3 559.8 978.1C560.4 977.8 560.9 976.5 561.4 975.2C561.9 973.9 562.4 970.7 562.9 970.2C563.4 969.7 563.9 971.3 564.4 972.2C564.9 973.1 565.4 975.3 566.0 975.5C566.5 975.8 567.0 974.8 567.5 973.7C568.0 972.6 568.5 970.3 569.0 969.0C569.6 967.8 570.1 966.6 570.6 966.0C571.1 965.4 571.6 965.9 572.2 965.3C572.7 964.8 573.2 964.2 573.7 962.9C574.2 961.6 574.7 958.5 575.2 957.5C575.7 956.5 576.2 957.8 576.7 956.8C577.2 955.8 577.7 952.6 578.2 951.4C578.8 950.1 579.2 950.2 579.8 949.1C580.4 948.0 581.3 946.3 582.1 944.5C582.9 942.7 583.6 938.1 584.4 938.4C585.2 938.6 585.9 942.4 586.7 946.0C587.5 949.6 588.2 958.9 589.0 959.9C589.8 960.9 590.5 953.8 591.3 952.2C592.1 950.7 592.8 949.6 593.6 950.6C594.4 951.6 595.1 954.2 595.9 958.3C596.7 962.4 597.6 966.5 598.2 975.2C598.9 983.9 599.1 1003.7 599.8 1010.5C600.4 1017.3 601.5 1014.9 602.1 1015.9C602.7 1016.9 603.1 1016.4 603.6 1016.5C604.1 1016.6 604.6 1016.7 605.1 1016.7C605.6 1016.7 606.1 1016.3 606.7 1016.5C607.2 1016.8 607.6 1017.7 608.2 1018.2C608.8 1018.7 609.5 1019.4 610.2 1019.7C610.8 1020.1 611.5 1020.6 612.1 1020.5C612.7 1020.4 613.1 1019.5 613.6 1019.1C614.1 1018.7 614.6 1018.5 615.1 1018.2C615.6 1017.9 616.1 1017.6 616.7 1017.2C617.2 1016.8 617.7 1016.0 618.2 1015.9C618.7 1015.8 619.2 1016.5 619.8 1016.8C620.3 1017.0 620.8 1017.3 621.3 1017.5C621.8 1017.7 622.3 1017.7 622.8 1017.9C623.3 1018.2 623.8 1018.5 624.3 1019.0C624.8 1019.5 625.3 1020.7 625.8 1021.2C626.4 1021.7 626.9 1021.8 627.4 1022.1C627.9 1022.4 628.4 1023.0 629.0 1022.8C629.5 1022.7 630.0 1021.6 630.5 1021.3C631.0 1021.0 631.5 1021.1 632.0 1020.9C632.6 1020.6 633.1 1019.9 633.6 1019.8C634.1 1019.7 634.5 1020.9 635.0 1020.4C635.5 1019.9 636.1 1017.7 636.7 1016.9C637.3 1016.0 637.8 1015.6 638.4 1015.3C639.0 1015.0 639.5 1015.1 640.1 1014.9C640.7 1014.8 641.2 1014.9 641.8 1014.4C642.4 1013.9 642.9 1012.8 643.5 1012.1C644.1 1011.4 644.6 1010.5 645.2 1010.1C645.8 1009.7 646.3 1009.9 646.9 1009.5C647.5 1009.1 648.0 1008.0 648.6 1007.6C649.2 1007.2 649.8 1007.4 650.4 1007.2C650.9 1007.1 651.5 1007.4 652.1 1006.7C652.7 1006.0 653.2 1005.1 653.8 1002.9C654.4 1000.6 654.9 995.7 655.5 993.1C656.1 990.5 656.6 989.8 657.2 987.5C657.8 985.2 658.3 981.0 658.9 979.4C659.5 977.8 660.0 978.8 660.6 977.9C661.2 977.1 661.7 975.2 662.3 974.3C662.9 973.4 663.4 972.8 664.0 972.4C664.6 972.0 665.1 971.7 665.7 971.8C666.3 971.9 666.8 972.2 667.4 973.1C668.0 974.1 668.5 976.5 669.1 977.7C669.7 978.9 670.2 979.3 670.8 980.1C671.4 981.0 671.9 981.9 672.5 982.8C673.1 983.7 673.6 984.5 674.2 985.2C674.8 986.0 675.3 986.5 675.9 987.1C676.5 987.7 677.1 988.3 677.6 988.6C678.2 988.9 678.8 989.1 679.4 988.8C680.0 988.5 680.5 987.7 681.1 987.0C681.7 986.3 682.2 985.5 682.8 984.6C683.4 983.7 683.9 982.4 684.5 981.5C685.1 980.7 685.6 980.9 686.2 979.4C686.8 977.9 687.3 975.0 687.9 972.7C688.5 970.4 689.0 967.7 689.6 965.8C690.2 963.9 691.0 962.4 691.8 961.1C692.5 959.8 693.3 958.4 693.9 958.1C694.5 957.8 695.0 958.3 695.6 959.3C696.2 960.3 696.7 963.3 697.3 964.1C697.9 964.9 698.4 963.7 699.0 964.2C699.6 964.8 700.1 966.5 700.7 967.5C701.3 968.5 701.8 969.4 702.4 970.0C703.0 970.6 703.5 970.3 704.1 970.9C704.7 971.5 705.2 973.3 705.8 973.8C706.4 974.4 706.9 973.4 707.5 974.3C708.1 975.2 708.6 977.4 709.2 979.1C709.8 980.8 710.3 983.6 710.9 984.6C711.5 985.6 712.0 984.7 712.6 984.8C713.2 984.9 713.7 985.2 714.3 985.4C714.9 985.6 715.7 985.9 716.5 985.8C717.2 985.6 718.0 985.3 718.6 984.6C719.2 983.9 719.7 982.6 720.3 981.8C720.9 980.9 721.3 983.8 722.0 979.4C722.7 975.0 723.9 959.6 724.6 955.5C725.3 951.4 725.7 956.9 726.3 954.8C726.9 952.7 727.4 944.0 728.0 942.8C728.6 941.6 729.1 946.1 729.7 947.7C730.3 949.2 730.8 949.8 731.4 952.1C732.0 954.4 732.5 958.0 733.1 961.4C733.7 964.8 734.2 970.4 734.8 972.6C735.4 974.8 735.9 972.9 736.5 974.6C737.1 976.3 737.6 981.5 738.2 982.8C738.8 984.1 739.3 982.6 739.9 982.3C740.5 982.0 741.0 981.2 741.6 981.1C742.2 981.0 742.7 982.2 743.3 981.9C743.9 981.6 744.4 980.7 745.0 979.4C745.6 978.1 746.2 975.9 746.8 974.2C747.3 972.5 747.8 971.4 748.5 969.2C749.2 967.0 750.1 963.7 751.0 960.7C751.9 957.7 752.9 951.6 753.6 951.3C754.3 951.0 754.7 957.2 755.3 959.1C755.9 960.9 756.4 961.5 757.0 962.4C757.6 963.3 758.1 963.6 758.7 964.7C759.3 965.9 759.7 969.9 760.4 969.2C761.1 968.5 762.1 963.0 763.0 960.7C763.9 958.4 764.8 949.5 765.5 955.5C766.2 961.5 766.5 986.2 767.2 996.5C767.9 1006.8 768.9 1012.2 769.8 1017.0C770.6 1021.8 771.4 1023.6 772.3 1025.5C773.1 1027.3 774.2 1028.0 774.9 1028.1C775.6 1028.2 776.0 1026.9 776.6 1026.3C777.2 1025.7 777.7 1025.1 778.3 1024.6C778.9 1024.1 779.4 1023.6 780.0 1023.2C780.6 1022.8 781.1 1022.5 781.7 1022.1C782.3 1021.7 782.8 1021.0 783.4 1020.7C784.0 1020.4 784.5 1020.8 785.1 1020.4C785.7 1020.0 786.3 1018.8 786.9 1018.5C787.4 1018.2 788.0 1019.0 788.6 1018.7C789.2 1018.4 789.7 1017.1 790.3 1016.7C790.9 1016.3 791.4 1016.7 792.0 1016.1C792.6 1015.5 793.1 1013.7 793.7 1013.3C794.3 1012.9 794.8 1013.7 795.4 1013.6C796.0 1013.5 796.5 1013.1 797.1 1012.5C797.7 1011.9 798.2 1010.8 798.8 1010.1C799.4 1009.4 799.9 1008.8 800.5 1008.2C801.1 1007.7 801.6 1008.1 802.2 1006.7C802.8 1005.3 803.3 1002.0 803.9 999.7C804.5 997.5 805.0 993.9 805.6 993.1C806.2 992.3 806.7 993.9 807.3 994.7C807.9 995.6 808.5 998.0 809.0 998.2C809.5 998.4 809.6 996.2 810.0 996.1C810.4 996.0 811.0 997.5 811.5 997.5C812.1 997.5 812.6 998.0 813.1 996.1C813.6 994.2 814.1 989.1 814.6 986.4C815.1 983.6 815.6 984.1 816.1 979.7C816.6 975.3 817.1 967.7 817.7 960.2C818.2 952.7 818.6 941.0 819.2 934.7C819.8 928.4 820.6 917.6 821.3 922.4C822.0 927.2 822.7 954.5 823.3 963.4C823.9 972.3 824.3 972.2 824.8 975.6C825.4 979.0 825.9 982.3 826.4 983.8C826.9 985.3 827.4 983.9 828.0 984.6C828.5 985.3 829.0 985.4 829.5 987.9C830.0 990.4 830.5 995.7 831.0 999.8C831.5 1003.9 832.0 1010.0 832.5 1012.5C833.0 1015.0 833.5 1014.3 834.0 1014.7C834.6 1015.0 835.1 1014.1 835.6 1014.6C836.1 1015.1 836.6 1017.5 837.2 1017.8C837.7 1018.2 838.2 1017.0 838.7 1016.6C839.2 1016.2 839.7 1015.3 840.2 1015.3C840.7 1015.3 841.2 1016.2 841.7 1016.6C842.2 1017.0 842.7 1017.2 843.2 1017.9C843.8 1018.6 844.3 1020.7 844.8 1020.7C845.3 1020.7 845.8 1020.3 846.3 1017.9C846.9 1015.6 847.4 1009.2 847.9 1006.4C848.4 1003.6 848.9 1003.3 849.5 1000.9C850.0 998.5 850.5 991.2 851.0 992.0C851.5 992.8 852.0 1001.8 852.5 1005.9C853.0 1010.0 853.5 1015.6 854.0 1016.6C854.5 1017.6 854.9 1014.6 855.4 1011.9C855.8 1009.1 856.1 1003.2 856.7 1000.2C857.3 997.2 858.5 992.6 859.2 994.1C859.9 995.6 860.2 1004.4 860.7 1009.1C861.2 1013.9 861.7 1020.9 862.2 1022.7C862.7 1024.5 863.2 1020.7 863.8 1020.0C864.3 1019.3 864.8 1019.5 865.3 1018.6C865.8 1017.7 866.3 1015.1 866.8 1014.8C867.4 1014.5 867.9 1015.9 868.4 1016.6C868.9 1017.3 869.4 1018.6 869.9 1019.0C870.4 1019.3 870.9 1018.8 871.4 1018.6C871.9 1018.4 872.4 1017.4 873.0 1017.6C873.5 1017.8 874.0 1019.9 874.5 1019.7C875.0 1019.5 875.5 1017.7 876.0 1016.2C876.6 1014.6 877.1 1011.5 877.6 1010.5C878.1 1009.5 878.6 1009.2 879.2 1010.2C879.7 1011.2 880.2 1016.3 880.7 1016.6C881.2 1016.9 881.7 1013.1 882.2 1011.7C882.7 1010.3 883.2 1008.8 883.7 1008.4C884.2 1008.0 884.7 1009.1 885.2 1009.4C885.8 1009.8 886.3 1010.8 886.8 1010.5C887.3 1010.2 887.8 1007.9 888.3 1007.5C888.9 1007.2 889.4 1008.6 889.9 1008.4C890.4 1008.2 890.9 1006.9 891.4 1006.5C891.9 1006.2 892.4 1006.3 892.9 1006.4C893.4 1006.5 893.9 1006.4 894.5 1007.1C895.0 1007.8 895.5 1009.7 896.0 1010.5C896.5 1011.3 897.0 1011.4 897.5 1011.7C898.1 1012.0 898.6 1014.5 899.1 1012.5C899.6 1010.5 900.1 1003.4 900.7 1000.0C901.2 996.6 901.7 990.9 902.2 992.0C902.7 993.1 903.2 1001.8 903.7 1006.9C904.2 1012.0 904.7 1021.7 905.2 1022.7C905.7 1023.7 906.2 1017.0 906.8 1012.9C907.3 1008.8 907.7 996.2 908.3 998.2C908.9 1000.2 909.7 1020.5 910.3 1024.8C910.9 1029.1 911.3 1025.3 911.8 1024.2C912.4 1023.2 912.9 1019.3 913.4 1018.6C913.9 1017.9 914.4 1020.2 915.0 1019.9C915.5 1019.5 915.9 1017.4 916.5 1016.6C917.1 1015.8 917.9 1015.7 918.5 1015.0C919.2 1014.4 920.0 1013.7 920.6 1012.5C921.2 1011.3 921.6 1009.1 922.2 1007.8C922.7 1006.4 923.2 1005.3 923.7 1004.3C924.2 1003.3 924.7 1002.9 925.2 1001.8C925.7 1000.8 926.1 1000.5 926.7 998.2C927.3 995.9 927.9 991.9 928.5 988.2C929.2 984.4 929.7 973.6 930.4 975.6C931.1 977.6 932.2 996.7 932.9 1000.2C933.6 1003.7 933.9 998.0 934.4 996.6C934.9 995.2 935.4 991.1 935.9 992.0C936.4 992.9 936.9 999.4 937.5 1001.8C938.0 1004.2 938.5 1007.7 939.0 1006.4C939.5 1005.1 940.0 997.7 940.5 993.9C941.1 990.1 941.6 984.2 942.1 983.8C942.6 983.4 943.1 988.9 943.7 991.6C944.2 994.4 944.5 1000.8 945.2 1000.2C945.9 999.6 946.8 998.8 947.6 987.9C948.5 977.0 949.5 932.0 950.3 934.7C951.1 937.4 951.7 994.0 952.3 1004.3C952.9 1014.6 953.3 998.2 953.8 996.5C954.4 994.8 954.9 993.3 955.4 994.1C955.9 994.9 956.4 998.8 957.0 1001.5C957.5 1004.3 958.0 1010.0 958.5 1010.5C959.0 1011.0 959.5 1007.3 960.0 1004.5C960.5 1001.8 961.0 995.0 961.5 994.1C962.0 993.2 962.5 997.6 963.0 999.3C963.6 1001.0 964.1 1003.6 964.6 1004.3C965.1 1005.0 965.6 1004.3 966.2 1003.6C966.7 1002.9 967.1 1000.5 967.7 1000.2C968.3 999.9 969.1 1001.7 969.8 1002.0C970.4 1002.4 971.2 1001.6 971.8 1002.3C972.4 1003.0 972.8 1005.4 973.3 1006.1C973.9 1006.8 974.4 1006.8 974.9 1006.4C975.4 1006.0 975.9 1004.2 976.4 1003.8C976.9 1003.5 977.3 1004.2 977.9 1004.3C978.5 1004.4 979.3 1004.6 980.0 1004.3C980.6 1003.9 981.4 1002.5 982.0 1002.3C982.6 1002.1 983.0 1003.2 983.5 1003.0C984.0 1002.9 984.5 1000.5 985.0 1001.3C985.5 1002.1 986.0 1006.5 986.5 1008.0C987.1 1009.5 987.6 1009.5 988.1 1010.5C988.6 1011.5 989.1 1013.5 989.6 1013.8C990.1 1014.1 990.6 1012.8 991.1 1012.1C991.6 1011.4 992.1 1010.2 992.7 1009.7C993.2 1009.1 993.7 1009.8 994.2 1009.0C994.7 1008.2 995.2 1005.4 995.8 1004.9C996.3 1004.4 996.7 1004.4 997.3 1005.9C997.9 1007.4 998.8 1011.0 999.6 1013.6C1000.4 1016.2 1001.1 1021.0 1001.9 1021.3C1002.7 1021.6 1003.4 1015.0 1004.2 1015.2C1005.0 1015.5 1005.9 1022.3 1006.5 1022.8C1007.1 1023.3 1007.5 1019.2 1008.0 1018.0C1008.6 1016.7 1009.0 1014.4 1009.6 1015.2C1010.2 1016.0 1011.3 1021.6 1011.9 1022.8C1012.5 1024.0 1012.9 1023.1 1013.4 1022.3C1013.9 1021.5 1014.4 1019.7 1014.9 1018.2C1015.4 1016.7 1015.9 1014.4 1016.5 1013.4C1017.0 1012.3 1017.4 1011.5 1018.0 1012.1C1018.6 1012.7 1019.5 1016.7 1020.3 1016.7C1021.1 1016.7 1021.9 1011.9 1022.6 1012.1C1023.3 1012.4 1023.8 1017.4 1024.6 1018.2C1025.4 1019.0 1026.5 1018.4 1027.2 1016.7C1027.9 1015.0 1028.2 1010.1 1028.8 1008.1C1029.3 1006.0 1029.7 1002.7 1030.3 1004.4C1030.9 1006.1 1032.1 1017.2 1032.6 1018.2C1033.1 1019.2 1033.2 1015.6 1033.4 1010.5C1033.7 1005.4 1033.8 992.4 1034.1 987.5C1034.4 982.6 1034.9 981.4 1035.4 981.4C1035.9 981.4 1036.5 981.4 1036.9 987.5C1037.3 993.6 1037.7 1011.8 1038.0 1018.2C1038.3 1024.6 1038.4 1024.4 1038.8 1025.9C1039.2 1027.4 1039.7 1026.9 1040.3 1027.4C1040.9 1027.9 1041.8 1029.1 1042.6 1029.0C1043.4 1028.9 1044.3 1027.0 1044.9 1026.7C1045.5 1026.4 1045.9 1026.7 1046.5 1027.1C1047.0 1027.4 1047.5 1028.7 1048.0 1029.0C1048.5 1029.3 1049.0 1028.6 1049.5 1028.7C1050.0 1028.8 1050.5 1029.5 1051.0 1029.7C1051.5 1029.9 1052.0 1030.0 1052.5 1030.0C1053.1 1030.0 1053.6 1029.7 1054.1 1029.7C1054.6 1029.7 1055.1 1029.6 1055.7 1029.8C1056.2 1029.9 1056.7 1030.4 1057.2 1030.5C1057.7 1030.6 1058.2 1030.2 1058.8 1030.1C1059.3 1030.1 1059.8 1030.1 1060.3 1030.2C1060.8 1030.3 1061.3 1030.7 1061.8 1030.8C1062.3 1030.8 1062.8 1030.5 1063.3 1030.5C1063.8 1030.5 1064.3 1030.9 1064.8 1031.0C1065.4 1031.0 1065.9 1030.8 1066.4 1030.8C1066.9 1030.8 1067.4 1031.0 1068.0 1031.0C1068.5 1030.9 1068.9 1031.3 1069.5 1030.5C1070.1 1029.7 1071.0 1026.9 1071.8 1025.9C1072.6 1024.9 1073.5 1024.6 1074.1 1024.4C1074.7 1024.2 1075.1 1024.3 1075.7 1024.5C1076.2 1024.8 1076.7 1025.9 1077.2 1025.9C1077.7 1025.9 1078.2 1024.5 1078.7 1024.4C1079.2 1024.2 1079.7 1024.8 1080.2 1025.1C1080.7 1025.4 1081.2 1025.9 1081.8 1026.1C1082.3 1026.4 1082.8 1026.4 1083.3 1026.7C1083.8 1027.0 1084.3 1027.7 1084.8 1027.7C1085.4 1027.7 1085.9 1026.8 1086.4 1026.7C1086.9 1026.6 1087.4 1027.0 1087.9 1027.3C1088.4 1027.5 1088.9 1028.1 1089.4 1028.2C1089.9 1028.3 1090.4 1027.9 1091.0 1027.8C1091.5 1027.7 1092.0 1028.0 1092.5 1027.7C1093.0 1027.4 1093.5 1025.9 1094.0 1025.9C1094.6 1025.8 1095.0 1027.0 1095.6 1027.4C1096.2 1027.8 1096.9 1028.2 1097.5 1028.0C1098.1 1027.9 1098.8 1026.9 1099.4 1026.7C1100.0 1026.5 1100.7 1026.8 1101.3 1026.9C1102.0 1027.0 1102.7 1027.5 1103.3 1027.4C1103.9 1027.3 1104.3 1026.3 1104.8 1026.3C1105.3 1026.2 1105.8 1026.9 1106.3 1027.1C1106.8 1027.3 1107.3 1027.2 1107.8 1027.2C1108.4 1027.3 1108.9 1027.5 1109.4 1027.4C1109.9 1027.3 1110.4 1026.8 1111.0 1026.7C1111.5 1026.6 1112.0 1026.6 1112.5 1026.7C1113.0 1026.8 1113.5 1027.3 1114.0 1027.5C1114.5 1027.6 1115.0 1027.2 1115.5 1027.4C1116.0 1027.6 1116.5 1028.7 1117.0 1028.5C1117.6 1028.4 1118.0 1027.1 1118.6 1026.7C1119.2 1026.3 1119.9 1026.1 1120.5 1026.1C1121.2 1026.1 1121.9 1026.8 1122.5 1026.7C1123.1 1026.6 1123.5 1025.8 1124.0 1025.3C1124.5 1024.8 1125.0 1023.5 1125.5 1023.6C1126.0 1023.7 1126.5 1024.8 1127.0 1025.6C1127.6 1026.4 1128.1 1027.8 1128.6 1028.2C1129.1 1028.6 1129.6 1027.8 1130.2 1027.8C1130.7 1027.8 1131.2 1028.1 1131.7 1028.2C1132.2 1028.3 1132.7 1028.2 1133.2 1028.1C1133.7 1028.0 1134.2 1027.4 1134.7 1027.4C1135.2 1027.4 1135.7 1028.2 1136.2 1028.1C1136.8 1028.0 1137.3 1026.8 1137.8 1026.7C1138.3 1026.6 1138.8 1027.2 1139.3 1027.4C1139.9 1027.5 1140.4 1027.5 1140.9 1027.4C1141.4 1027.3 1141.9 1027.0 1142.5 1027.0C1143.0 1026.9 1143.5 1027.1 1144.0 1027.1C1144.5 1027.1 1145.0 1027.3 1145.5 1027.2C1146.0 1027.2 1146.5 1026.9 1147.0 1026.7C1147.5 1026.5 1148.0 1026.4 1148.5 1026.1C1149.1 1025.8 1149.5 1025.1 1150.1 1025.1C1150.7 1025.1 1151.8 1025.5 1152.4 1025.9C1153.0 1026.3 1153.4 1027.4 1154.0 1027.8C1154.5 1028.1 1155.0 1028.4 1155.5 1028.2C1156.0 1028.0 1156.5 1027.1 1157.0 1026.7C1157.6 1026.3 1158.1 1026.2 1158.6 1025.9C1159.1 1025.6 1159.4 1025.0 1160.0 1024.8C1160.6 1024.6 1161.4 1024.6 1162.0 1024.4C1162.7 1024.2 1163.4 1023.4 1164.1 1023.8C1164.8 1024.2 1165.5 1026.1 1166.2 1026.6C1166.8 1027.1 1167.5 1026.7 1168.2 1026.8C1168.9 1026.9 1169.6 1027.2 1170.2 1027.4C1170.9 1027.5 1171.6 1027.6 1172.3 1027.9C1173.0 1028.2 1173.7 1028.8 1174.3 1028.9C1175.0 1029.1 1175.7 1029.2 1176.4 1028.9C1177.1 1028.6 1177.8 1027.9 1178.5 1027.3C1179.1 1026.8 1179.8 1026.2 1180.5 1025.8C1181.2 1025.4 1181.7 1025.2 1182.3 1024.9C1183.0 1024.5 1183.6 1023.9 1184.2 1023.8C1184.8 1023.7 1185.3 1023.9 1185.9 1024.2C1186.5 1024.6 1187.1 1025.2 1187.6 1025.8C1188.1 1026.4 1188.6 1027.6 1189.2 1027.6C1189.7 1027.6 1190.1 1026.1 1190.7 1025.8C1191.3 1025.5 1192.1 1026.3 1192.8 1026.1C1193.4 1025.9 1194.1 1024.9 1194.8 1024.8C1195.5 1024.7 1196.2 1025.6 1196.8 1025.5C1197.5 1025.4 1198.2 1024.6 1198.9 1024.4C1199.6 1024.2 1200.3 1024.8 1201.0 1024.6C1201.6 1024.3 1202.4 1024.1 1203.0 1022.7C1203.6 1021.3 1204.0 1018.0 1204.5 1016.3C1205.1 1014.6 1205.6 1013.0 1206.1 1012.5C1206.6 1012.0 1207.1 1012.5 1207.7 1013.2C1208.2 1013.9 1208.5 1017.7 1209.2 1016.6C1209.9 1015.5 1211.0 1007.0 1211.6 1006.4C1212.2 1005.8 1212.5 1010.8 1212.9 1013.2C1213.4 1015.6 1213.8 1019.8 1214.3 1020.7C1214.8 1021.6 1215.3 1018.5 1215.8 1018.3C1216.3 1018.2 1216.8 1019.5 1217.3 1019.7C1217.8 1019.9 1218.3 1019.4 1218.8 1019.7C1219.4 1020.0 1219.9 1021.1 1220.4 1021.7C1220.9 1022.3 1221.4 1022.9 1222.0 1023.1C1222.5 1023.2 1223.0 1022.8 1223.5 1022.7C1224.0 1022.6 1224.5 1021.9 1225.0 1022.4C1225.6 1022.9 1226.0 1025.4 1226.6 1025.8C1227.2 1026.2 1228.0 1024.8 1228.7 1024.6C1229.3 1024.4 1230.1 1025.0 1230.7 1024.8C1231.3 1024.6 1231.8 1024.0 1232.4 1023.6C1233.0 1023.3 1233.5 1023.0 1234.1 1022.7C1234.7 1022.4 1235.3 1022.3 1235.9 1022.1C1236.6 1021.9 1237.2 1021.9 1237.8 1021.7C1238.4 1021.5 1238.8 1021.0 1239.3 1020.7C1239.9 1020.3 1240.4 1019.8 1240.9 1019.7C1241.4 1019.6 1241.9 1019.6 1242.5 1020.0C1243.0 1020.3 1243.4 1021.5 1244.0 1021.7C1244.6 1021.9 1245.4 1021.5 1246.0 1021.0C1246.7 1020.5 1247.4 1018.9 1248.1 1018.6C1248.8 1018.3 1249.5 1018.2 1250.2 1019.1C1250.8 1019.9 1251.5 1022.9 1252.2 1023.8C1252.9 1024.7 1253.6 1024.4 1254.2 1024.6C1254.9 1024.8 1255.6 1025.0 1256.3 1024.8C1257.0 1024.6 1257.6 1023.3 1258.3 1023.1C1259.0 1022.9 1259.6 1023.8 1260.3 1023.8C1261.0 1023.8 1261.7 1023.2 1262.3 1023.2C1263.0 1023.2 1263.7 1023.7 1264.4 1023.8C1265.1 1023.9 1265.8 1023.7 1266.5 1023.7C1267.1 1023.7 1267.8 1023.7 1268.5 1023.8C1269.2 1023.9 1269.9 1024.7 1270.5 1024.5C1271.2 1024.3 1271.9 1022.9 1272.6 1022.7C1273.3 1022.5 1274.0 1022.7 1274.7 1023.0C1275.3 1023.4 1276.0 1025.0 1276.7 1024.8C1277.4 1024.6 1278.1 1022.6 1278.8 1022.1C1279.4 1021.6 1280.2 1022.1 1280.8 1021.7C1281.4 1021.3 1281.8 1020.7 1282.3 1019.7C1282.9 1018.7 1283.4 1017.4 1283.9 1015.6C1284.4 1013.8 1284.9 1011.0 1285.5 1008.8C1286.0 1006.6 1286.5 1002.7 1287.0 1002.3C1287.5 1001.9 1288.0 1005.1 1288.5 1006.4C1289.0 1007.8 1289.5 1009.2 1290.0 1010.5C1290.5 1011.8 1291.0 1013.3 1291.5 1014.3C1292.1 1015.3 1292.6 1016.3 1293.1 1016.6C1293.6 1016.9 1294.1 1016.6 1294.7 1015.9C1295.2 1015.3 1295.7 1013.4 1296.2 1012.5C1296.7 1011.6 1297.2 1011.4 1297.8 1010.7C1298.3 1010.0 1298.8 1009.9 1299.3 1008.4C1299.8 1006.9 1300.3 1002.6 1300.8 1001.5C1301.3 1000.5 1301.8 1002.6 1302.3 1002.3C1302.8 1002.0 1303.3 1000.6 1303.8 999.9C1304.4 999.2 1304.9 998.5 1305.4 998.2C1305.9 997.9 1306.4 998.2 1307.0 998.2C1307.5 998.2 1308.0 998.2 1308.5 998.2C1309.0 998.2 1309.5 997.5 1310.0 998.2C1310.5 998.8 1310.8 1002.3 1311.5 1002.3C1312.2 1002.3 1313.4 999.7 1314.0 998.2C1314.6 996.7 1314.9 994.3 1315.3 993.2C1315.8 992.2 1316.2 990.5 1316.7 992.0C1317.2 993.5 1317.7 999.3 1318.2 1002.4C1318.7 1005.5 1319.2 1009.4 1319.7 1010.5C1320.2 1011.6 1320.7 1009.6 1321.2 1008.9C1321.8 1008.2 1322.3 1006.9 1322.8 1006.4C1323.3 1005.9 1323.8 1005.4 1324.3 1005.8C1324.9 1006.1 1325.4 1007.5 1325.9 1008.4C1326.4 1009.3 1326.9 1010.8 1327.5 1011.5C1328.0 1012.1 1328.6 1015.1 1329.0 1012.5C1329.4 1009.9 1329.6 997.3 1330.0 996.0C1330.4 994.7 1331.0 1001.7 1331.5 1004.4C1332.1 1007.2 1332.6 1012.8 1333.1 1012.4C1333.6 1012.0 1334.1 1004.6 1334.6 1001.9C1335.1 999.1 1335.6 996.7 1336.1 996.0C1336.6 995.3 1337.1 996.9 1337.7 997.6C1338.2 998.2 1338.7 1000.6 1339.2 1000.1C1339.7 999.6 1340.2 995.7 1340.8 994.7C1341.3 993.7 1341.8 992.8 1342.3 994.0C1342.8 995.2 1343.3 998.6 1343.8 1001.6C1344.3 1004.7 1344.8 1011.5 1345.3 1012.4C1345.8 1013.3 1346.3 1008.8 1346.8 1006.8C1347.4 1004.7 1347.8 1004.8 1348.4 1000.1C1349.0 995.4 1349.9 980.9 1350.5 978.6C1351.1 976.3 1351.5 982.9 1352.0 986.1C1352.5 989.4 1353.0 995.5 1353.5 998.1C1354.0 1000.7 1354.5 999.9 1355.0 1001.9C1355.6 1004.0 1356.1 1010.5 1356.6 1010.3C1357.1 1010.1 1357.6 1004.2 1358.2 1000.8C1358.7 997.4 1359.2 994.8 1359.7 989.9C1360.2 985.0 1360.7 976.8 1361.2 971.2C1361.7 965.5 1362.2 957.8 1362.7 956.1C1363.2 954.4 1363.7 959.4 1364.2 961.3C1364.8 963.1 1365.3 963.7 1365.8 967.4C1366.3 971.1 1366.8 977.8 1367.3 983.3C1367.9 988.7 1368.4 997.7 1368.9 1000.1C1369.4 1002.5 1369.9 998.4 1370.5 997.8C1371.0 997.1 1371.3 999.7 1372.0 996.0C1372.7 992.3 1373.8 974.1 1374.6 975.5C1375.4 976.9 1376.3 1005.2 1377.1 1004.2C1377.9 1003.2 1378.9 972.9 1379.5 969.4C1380.1 965.9 1380.4 978.9 1380.8 983.4C1381.3 987.8 1381.7 993.7 1382.2 996.0C1382.7 998.3 1383.2 996.6 1383.8 997.3C1384.3 997.9 1384.8 999.4 1385.3 1000.1C1385.8 1000.8 1386.3 1000.7 1386.8 1001.7C1387.3 1002.8 1387.8 1005.9 1388.3 1006.2C1388.8 1006.5 1389.3 1004.0 1389.8 1003.4C1390.4 1002.7 1390.9 1002.9 1391.4 1002.2C1391.9 1001.5 1392.4 1000.9 1393.0 999.1C1393.5 997.4 1393.9 993.5 1394.5 991.9C1395.1 990.3 1395.9 990.8 1396.5 989.5C1397.2 988.1 1398.0 988.6 1398.6 983.7C1399.2 978.8 1399.6 967.9 1400.1 960.1C1400.6 952.3 1401.1 936.7 1401.6 936.7C1402.1 936.7 1402.6 953.2 1403.2 960.4C1403.7 967.5 1404.2 975.3 1404.7 979.6C1405.2 983.9 1405.7 984.3 1406.2 986.0C1406.8 987.7 1407.3 990.1 1407.8 989.9C1408.3 989.7 1408.8 985.9 1409.3 984.9C1409.8 983.8 1410.3 983.1 1410.8 983.7C1411.3 984.3 1411.8 987.8 1412.3 988.5C1412.9 989.2 1413.4 986.2 1413.9 987.8C1414.4 989.4 1414.9 996.3 1415.5 998.0C1416.0 999.7 1416.5 999.3 1417.0 998.1C1417.5 996.9 1418.0 993.3 1418.5 990.6C1419.1 987.8 1419.6 983.2 1420.1 981.7C1420.6 980.2 1421.1 980.8 1421.6 981.8C1422.1 982.8 1422.6 985.8 1423.1 987.8C1423.6 989.8 1424.1 992.6 1424.7 993.6C1425.2 994.6 1425.7 993.2 1426.2 994.0C1426.7 994.8 1427.2 997.1 1427.8 998.1C1428.3 999.2 1428.8 999.3 1429.3 1000.1C1429.8 1000.9 1430.3 1001.9 1430.8 1003.0C1431.3 1004.0 1431.8 1005.9 1432.3 1006.2C1432.8 1006.5 1433.3 1003.9 1433.8 1004.6C1434.4 1005.3 1434.9 1010.4 1435.4 1010.3C1435.9 1010.2 1436.4 1006.0 1437.0 1004.0C1437.5 1002.0 1438.0 1003.1 1438.5 998.1C1439.0 993.1 1439.5 981.9 1440.0 974.0C1440.5 966.2 1440.9 956.9 1441.5 951.0C1442.1 945.1 1443.0 939.8 1443.6 938.7C1444.2 937.6 1444.6 942.2 1445.2 944.3C1445.7 946.3 1446.2 946.3 1446.7 951.0C1447.2 955.7 1447.7 965.2 1448.2 972.7C1448.7 980.2 1449.1 996.6 1449.7 996.0C1450.3 995.4 1451.0 977.6 1451.8 969.4C1452.6 961.2 1453.6 944.5 1454.4 946.9C1455.2 949.3 1456.2 976.3 1456.9 983.7C1457.6 991.1 1457.9 989.5 1458.5 991.6C1459.0 993.6 1459.5 995.5 1460.0 996.0C1460.5 996.5 1461.0 994.9 1461.5 994.7C1462.0 994.6 1462.8 995.0 1463.0 995.0" fill="none" stroke="#ff7f0e" style="stroke-width:2.08px;stroke-linejoin:round;stroke-linecap:square"/></g></g>
   </g>
   
   <g id="patch_11">
    <path d="M 83.16 759.2682 L 83.16 414.1186 " style="fill: none; stroke: #000000; stroke-width: 0.8; stroke-linejoin: miter; stroke-linecap: square"/>
   </g>
   <g id="patch_12">
    <path d="M 1053 759.2682 L 1053 414.1186 " style="fill: none; stroke: #000000; stroke-width: 0.8; stroke-linejoin: miter; stroke-linecap: square"/>
   </g>
   <g id="patch_13">
    <path d="M 83.3628 759.24 L 1052.8577 759.24 " style="fill: none; stroke: #000000; stroke-width: 0.8; stroke-linejoin: miter; stroke-linecap: square"/>
   </g>
   <g id="patch_14">
    <path d="M 83.3628 414.36 L 1052.8577 414.36 " style="fill: none; stroke: #000000; stroke-width: 0.8; stroke-linejoin: miter; stroke-linecap: square"/>
   </g>
   <g id="text_28">
    <text style="font-weight: 700; font-size: 19.2px; font-family: 'DejaVu Sans', sans-serif; text-anchor: start" x="83.362837" y="408.118617" transform="rotate(-0 83.362837 408.118617)">(b)</text>
   </g>
   <g id="legend_2">
    <g id="patch_15">
     <path d="M 756.499248 478.935597 L 1043.52814 478.935597 Q 1046.19374 478.935597 1046.19374 476.269997 L 1046.19374 423.448217 Q 1046.19374 420.782617 1043.52814 420.782617 L 756.499248 420.782617 Q 753.833648 420.782617 753.833648 423.448217 L 753.833648 476.269997 Q 753.833648 478.935597 756.499248 478.935597 z
" style="fill: #ffffff; opacity: 0.8; stroke: #cccccc; stroke-linejoin: miter"/>
    </g>
    <g id="line2d_59">
     <g>
      <use href="#m733a03271b" x="772.492848" y="431.576215" style="fill: #1f77b4; stroke: #1f77b4"/>
     </g>
    </g>
    <g id="text_29">
     <text style="font-weight: 700; font-size: 13.328px; font-family: 'DejaVu Sans', sans-serif; text-anchor: start" x="796.483248" y="436.241015" transform="rotate(-0 796.483248 436.241015)">Raw Data</text>
    </g>
    <g id="line2d_60">
     <path d="M 759.164848 460.039408 L 772.492848 460.039408 L 785.820848 460.039408 " style="fill: none; stroke: #ff7f0e; stroke-width: 1.5; stroke-linecap: square"/>
    </g>
    <g id="text_30">
     <text style="font-weight: 700; font-size: 13.328px; font-family: 'DejaVu Sans', sans-serif" transform="translate(796.483248 455.80402)">Butterworth Filtered Data</text>
     <text style="font-weight: 700; font-size: 13.328px; font-family: 'DejaVu Sans', sans-serif" transform="translate(796.483248 470.728464)">(N=6, Tc=3.3333 min, Type: low)</text>
    </g>
   </g>
  </g>
 </g>
 <defs>
  <clipPath id="p9801b050df">
   <rect x="83.362837" y="27.789" width="969.494903" height="345.149617"/>
  </clipPath>
  <clipPath id="pcd39c0926f">
   <rect x="83.362837" y="414.118617" width="969.494903" height="345.149617"/>
  </clipPath>
 </defs>
</svg>
</body></html>
